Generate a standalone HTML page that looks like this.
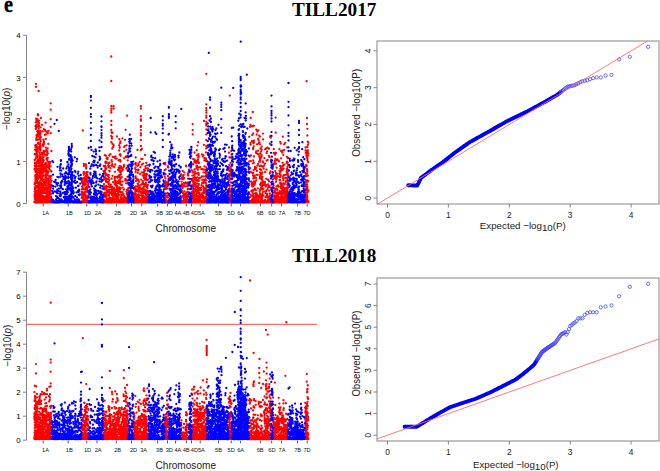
<!DOCTYPE html><html><head><meta charset="utf-8"><style>html,body{margin:0;padding:0;background:#fff;overflow:hidden}svg{display:block;font-family:"Liberation Sans",sans-serif}</style></head><body><svg width="660" height="471" viewBox="0 0 660 471"><text x="0" y="0" font-family="Liberation Serif" font-weight="bold" font-size="22.6" stroke="#000" stroke-width="0.35" transform="translate(3.9 11.8) scale(0.9 1)">e</text><text x="292" y="16.2" font-family="Liberation Serif" font-weight="bold" font-size="19.6" textLength="84.4" lengthAdjust="spacingAndGlyphs">TILL2017</text><text x="292" y="262" font-family="Liberation Serif" font-weight="bold" font-size="19.6" textLength="84.4" lengthAdjust="spacingAndGlyphs">TILL2018</text><path d="M26.5 35.3V203.5" stroke="#858585" stroke-width="1" fill="none"/><path d="M23 203.5H26.5" stroke="#858585" stroke-width="1" fill="none"/><text x="18.4" y="206.6" font-size="7.9" text-anchor="middle" fill="#000">0</text><path d="M23 161.4H26.5" stroke="#858585" stroke-width="1" fill="none"/><text x="18.4" y="164.5" font-size="7.9" text-anchor="middle" fill="#000">1</text><path d="M23 119.4H26.5" stroke="#858585" stroke-width="1" fill="none"/><text x="18.4" y="122.5" font-size="7.9" text-anchor="middle" fill="#000">2</text><path d="M23 77.4H26.5" stroke="#858585" stroke-width="1" fill="none"/><text x="18.4" y="80.5" font-size="7.9" text-anchor="middle" fill="#000">3</text><path d="M23 35.3H26.5" stroke="#858585" stroke-width="1" fill="none"/><text x="18.4" y="38.4" font-size="7.9" text-anchor="middle" fill="#000">4</text><path d="M43.2 203.6v2.8" stroke="#555" stroke-width="1" fill="none"/><text x="45.5" y="214.8" font-size="6.1" text-anchor="middle" textLength="6.94" lengthAdjust="spacingAndGlyphs" fill="#111">1A</text><path d="M68.2 203.6v2.8" stroke="#555" stroke-width="1" fill="none"/><text x="69.3" y="214.8" font-size="6.1" text-anchor="middle" textLength="6.94" lengthAdjust="spacingAndGlyphs" fill="#111">1B</text><path d="M86.8 203.6v2.8" stroke="#555" stroke-width="1" fill="none"/><text x="87.5" y="214.8" font-size="6.1" text-anchor="middle" textLength="7.25" lengthAdjust="spacingAndGlyphs" fill="#111">1D</text><path d="M97.0 203.6v2.8" stroke="#555" stroke-width="1" fill="none"/><text x="98.2" y="214.8" font-size="6.1" text-anchor="middle" textLength="6.94" lengthAdjust="spacingAndGlyphs" fill="#111">2A</text><path d="M116.4 203.6v2.8" stroke="#555" stroke-width="1" fill="none"/><text x="117.7" y="214.8" font-size="6.1" text-anchor="middle" textLength="6.94" lengthAdjust="spacingAndGlyphs" fill="#111">2B</text><path d="M131.5 203.6v2.8" stroke="#555" stroke-width="1" fill="none"/><text x="133.6" y="214.8" font-size="6.1" text-anchor="middle" textLength="7.25" lengthAdjust="spacingAndGlyphs" fill="#111">2D</text><path d="M141.8 203.6v2.8" stroke="#555" stroke-width="1" fill="none"/><text x="143.6" y="214.8" font-size="6.1" text-anchor="middle" textLength="6.94" lengthAdjust="spacingAndGlyphs" fill="#111">3A</text><path d="M157.6 203.6v2.8" stroke="#555" stroke-width="1" fill="none"/><text x="159.5" y="214.8" font-size="6.1" text-anchor="middle" textLength="6.94" lengthAdjust="spacingAndGlyphs" fill="#111">3B</text><path d="M167.5 203.6v2.8" stroke="#555" stroke-width="1" fill="none"/><text x="169.3" y="214.8" font-size="6.1" text-anchor="middle" textLength="7.25" lengthAdjust="spacingAndGlyphs" fill="#111">3D</text><path d="M175.5 203.6v2.8" stroke="#555" stroke-width="1" fill="none"/><text x="177.9" y="214.8" font-size="6.1" text-anchor="middle" textLength="6.94" lengthAdjust="spacingAndGlyphs" fill="#111">4A</text><path d="M186.4 203.6v2.8" stroke="#555" stroke-width="1" fill="none"/><text x="186.1" y="214.8" font-size="6.1" text-anchor="middle" textLength="6.94" lengthAdjust="spacingAndGlyphs" fill="#111">4B</text><path d="M191.5 203.6v2.8" stroke="#555" stroke-width="1" fill="none"/><text x="194.4" y="214.8" font-size="6.1" text-anchor="middle" textLength="7.25" lengthAdjust="spacingAndGlyphs" fill="#111">4D</text><path d="M200.2 203.6v2.8" stroke="#555" stroke-width="1" fill="none"/><text x="201.4" y="214.8" font-size="6.1" text-anchor="middle" textLength="6.94" lengthAdjust="spacingAndGlyphs" fill="#111">5A</text><path d="M218.5 203.6v2.8" stroke="#555" stroke-width="1" fill="none"/><text x="218.5" y="214.8" font-size="6.1" text-anchor="middle" textLength="6.94" lengthAdjust="spacingAndGlyphs" fill="#111">5B</text><path d="M231.2 203.6v2.8" stroke="#555" stroke-width="1" fill="none"/><text x="231.2" y="214.8" font-size="6.1" text-anchor="middle" textLength="7.25" lengthAdjust="spacingAndGlyphs" fill="#111">5D</text><path d="M240.6 203.6v2.8" stroke="#555" stroke-width="1" fill="none"/><text x="240.6" y="214.8" font-size="6.1" text-anchor="middle" textLength="6.94" lengthAdjust="spacingAndGlyphs" fill="#111">6A</text><path d="M260.4 203.6v2.8" stroke="#555" stroke-width="1" fill="none"/><text x="260.1" y="214.8" font-size="6.1" text-anchor="middle" textLength="6.94" lengthAdjust="spacingAndGlyphs" fill="#111">6B</text><path d="M271.7 203.6v2.8" stroke="#555" stroke-width="1" fill="none"/><text x="271.9" y="214.8" font-size="6.1" text-anchor="middle" textLength="7.25" lengthAdjust="spacingAndGlyphs" fill="#111">6D</text><path d="M281.5 203.6v2.8" stroke="#555" stroke-width="1" fill="none"/><text x="282.0" y="214.8" font-size="6.1" text-anchor="middle" textLength="6.94" lengthAdjust="spacingAndGlyphs" fill="#111">7A</text><path d="M297.6 203.6v2.8" stroke="#555" stroke-width="1" fill="none"/><text x="297.7" y="214.8" font-size="6.1" text-anchor="middle" textLength="6.94" lengthAdjust="spacingAndGlyphs" fill="#111">7B</text><path d="M307.2 203.6v2.8" stroke="#555" stroke-width="1" fill="none"/><text x="307.1" y="214.8" font-size="6.1" text-anchor="middle" textLength="7.25" lengthAdjust="spacingAndGlyphs" fill="#111">7D</text><text x="155.5" y="232.2" font-size="10.5" textLength="60.5" lengthAdjust="spacingAndGlyphs" fill="#222">Chromosome</text><text transform="translate(10.1 108.9) rotate(-90)" x="-21.2" font-size="10" textLength="42.4" lengthAdjust="spacingAndGlyphs" fill="#222">−log10(<tspan font-style="italic">p</tspan>)</text><path d="M26.5 272.2V440.2" stroke="#858585" stroke-width="1" fill="none"/><path d="M23 440.2H26.5" stroke="#858585" stroke-width="1" fill="none"/><text x="18.4" y="443.3" font-size="7.9" text-anchor="middle" fill="#000">0</text><path d="M23 416.2H26.5" stroke="#858585" stroke-width="1" fill="none"/><text x="18.4" y="419.3" font-size="7.9" text-anchor="middle" fill="#000">1</text><path d="M23 392.2H26.5" stroke="#858585" stroke-width="1" fill="none"/><text x="18.4" y="395.3" font-size="7.9" text-anchor="middle" fill="#000">2</text><path d="M23 368.2H26.5" stroke="#858585" stroke-width="1" fill="none"/><text x="18.4" y="371.3" font-size="7.9" text-anchor="middle" fill="#000">3</text><path d="M23 344.2H26.5" stroke="#858585" stroke-width="1" fill="none"/><text x="18.4" y="347.3" font-size="7.9" text-anchor="middle" fill="#000">4</text><path d="M23 320.2H26.5" stroke="#858585" stroke-width="1" fill="none"/><text x="18.4" y="323.3" font-size="7.9" text-anchor="middle" fill="#000">5</text><path d="M23 296.2H26.5" stroke="#858585" stroke-width="1" fill="none"/><text x="18.4" y="299.3" font-size="7.9" text-anchor="middle" fill="#000">6</text><path d="M23 272.2H26.5" stroke="#858585" stroke-width="1" fill="none"/><text x="18.4" y="275.3" font-size="7.9" text-anchor="middle" fill="#000">7</text><path d="M43.2 440.5v2.8" stroke="#555" stroke-width="1" fill="none"/><text x="45.5" y="451.6" font-size="6.1" text-anchor="middle" textLength="6.94" lengthAdjust="spacingAndGlyphs" fill="#111">1A</text><path d="M68.2 440.5v2.8" stroke="#555" stroke-width="1" fill="none"/><text x="69.3" y="451.6" font-size="6.1" text-anchor="middle" textLength="6.94" lengthAdjust="spacingAndGlyphs" fill="#111">1B</text><path d="M86.8 440.5v2.8" stroke="#555" stroke-width="1" fill="none"/><text x="87.5" y="451.6" font-size="6.1" text-anchor="middle" textLength="7.25" lengthAdjust="spacingAndGlyphs" fill="#111">1D</text><path d="M97.0 440.5v2.8" stroke="#555" stroke-width="1" fill="none"/><text x="98.2" y="451.6" font-size="6.1" text-anchor="middle" textLength="6.94" lengthAdjust="spacingAndGlyphs" fill="#111">2A</text><path d="M116.4 440.5v2.8" stroke="#555" stroke-width="1" fill="none"/><text x="117.7" y="451.6" font-size="6.1" text-anchor="middle" textLength="6.94" lengthAdjust="spacingAndGlyphs" fill="#111">2B</text><path d="M131.5 440.5v2.8" stroke="#555" stroke-width="1" fill="none"/><text x="133.6" y="451.6" font-size="6.1" text-anchor="middle" textLength="7.25" lengthAdjust="spacingAndGlyphs" fill="#111">2D</text><path d="M141.8 440.5v2.8" stroke="#555" stroke-width="1" fill="none"/><text x="143.6" y="451.6" font-size="6.1" text-anchor="middle" textLength="6.94" lengthAdjust="spacingAndGlyphs" fill="#111">3A</text><path d="M157.6 440.5v2.8" stroke="#555" stroke-width="1" fill="none"/><text x="159.5" y="451.6" font-size="6.1" text-anchor="middle" textLength="6.94" lengthAdjust="spacingAndGlyphs" fill="#111">3B</text><path d="M167.5 440.5v2.8" stroke="#555" stroke-width="1" fill="none"/><text x="169.3" y="451.6" font-size="6.1" text-anchor="middle" textLength="7.25" lengthAdjust="spacingAndGlyphs" fill="#111">3D</text><path d="M175.5 440.5v2.8" stroke="#555" stroke-width="1" fill="none"/><text x="177.9" y="451.6" font-size="6.1" text-anchor="middle" textLength="6.94" lengthAdjust="spacingAndGlyphs" fill="#111">4A</text><path d="M186.4 440.5v2.8" stroke="#555" stroke-width="1" fill="none"/><text x="186.1" y="451.6" font-size="6.1" text-anchor="middle" textLength="6.94" lengthAdjust="spacingAndGlyphs" fill="#111">4B</text><path d="M191.5 440.5v2.8" stroke="#555" stroke-width="1" fill="none"/><text x="194.4" y="451.6" font-size="6.1" text-anchor="middle" textLength="7.25" lengthAdjust="spacingAndGlyphs" fill="#111">4D</text><path d="M200.2 440.5v2.8" stroke="#555" stroke-width="1" fill="none"/><text x="201.4" y="451.6" font-size="6.1" text-anchor="middle" textLength="6.94" lengthAdjust="spacingAndGlyphs" fill="#111">5A</text><path d="M218.5 440.5v2.8" stroke="#555" stroke-width="1" fill="none"/><text x="218.5" y="451.6" font-size="6.1" text-anchor="middle" textLength="6.94" lengthAdjust="spacingAndGlyphs" fill="#111">5B</text><path d="M231.2 440.5v2.8" stroke="#555" stroke-width="1" fill="none"/><text x="231.2" y="451.6" font-size="6.1" text-anchor="middle" textLength="7.25" lengthAdjust="spacingAndGlyphs" fill="#111">5D</text><path d="M240.6 440.5v2.8" stroke="#555" stroke-width="1" fill="none"/><text x="240.6" y="451.6" font-size="6.1" text-anchor="middle" textLength="6.94" lengthAdjust="spacingAndGlyphs" fill="#111">6A</text><path d="M260.4 440.5v2.8" stroke="#555" stroke-width="1" fill="none"/><text x="260.1" y="451.6" font-size="6.1" text-anchor="middle" textLength="6.94" lengthAdjust="spacingAndGlyphs" fill="#111">6B</text><path d="M271.7 440.5v2.8" stroke="#555" stroke-width="1" fill="none"/><text x="271.9" y="451.6" font-size="6.1" text-anchor="middle" textLength="7.25" lengthAdjust="spacingAndGlyphs" fill="#111">6D</text><path d="M281.5 440.5v2.8" stroke="#555" stroke-width="1" fill="none"/><text x="282.0" y="451.6" font-size="6.1" text-anchor="middle" textLength="6.94" lengthAdjust="spacingAndGlyphs" fill="#111">7A</text><path d="M297.6 440.5v2.8" stroke="#555" stroke-width="1" fill="none"/><text x="297.7" y="451.6" font-size="6.1" text-anchor="middle" textLength="6.94" lengthAdjust="spacingAndGlyphs" fill="#111">7B</text><path d="M307.2 440.5v2.8" stroke="#555" stroke-width="1" fill="none"/><text x="307.1" y="451.6" font-size="6.1" text-anchor="middle" textLength="7.25" lengthAdjust="spacingAndGlyphs" fill="#111">7D</text><text x="155.5" y="469.0" font-size="10.5" textLength="60.5" lengthAdjust="spacingAndGlyphs" fill="#222">Chromosome</text><text transform="translate(10.5 345.7) rotate(-90)" x="-20.9" font-size="10" textLength="41.9" lengthAdjust="spacingAndGlyphs" fill="#222">−log10(<tspan font-style="italic">p</tspan>)</text><path d="M26.5 324.4H317" stroke="#ff6a6a" stroke-width="1.1"/><rect x="33.6" y="200.6" width="18.9" height="2.6" fill="#ff0000"/><rect x="50.5" y="200.6" width="32.0" height="2.6" fill="#0000ff"/><rect x="80.5" y="200.6" width="9.0" height="2.6" fill="#ff0000"/><rect x="87.5" y="200.6" width="17.0" height="2.6" fill="#0000ff"/><rect x="102.5" y="200.6" width="26.5" height="2.6" fill="#ff0000"/><rect x="127.0" y="200.6" width="7.5" height="2.6" fill="#0000ff"/><rect x="132.5" y="200.6" width="17.0" height="2.6" fill="#ff0000"/><rect x="147.5" y="200.6" width="18.1" height="2.6" fill="#0000ff"/><rect x="163.6" y="200.6" width="5.9" height="2.6" fill="#ff0000"/><rect x="167.5" y="200.6" width="14.5" height="2.6" fill="#0000ff"/><rect x="180.0" y="200.6" width="10.0" height="2.6" fill="#ff0000"/><rect x="188.0" y="200.6" width="4.7" height="2.6" fill="#0000ff"/><rect x="190.7" y="200.6" width="17.3" height="2.6" fill="#ff0000"/><rect x="206.0" y="200.6" width="23.6" height="2.6" fill="#0000ff"/><rect x="227.6" y="200.6" width="5.0" height="2.6" fill="#ff0000"/><rect x="230.6" y="200.6" width="19.4" height="2.6" fill="#0000ff"/><rect x="248.0" y="200.6" width="24.0" height="2.6" fill="#ff0000"/><rect x="270.0" y="200.6" width="4.0" height="2.6" fill="#0000ff"/><rect x="272.0" y="200.6" width="17.0" height="2.6" fill="#ff0000"/><rect x="287.0" y="200.6" width="19.0" height="2.6" fill="#0000ff"/><rect x="304.0" y="200.6" width="5.4" height="2.6" fill="#ff0000"/><path d="M35.9 83.9h0M35.9 86.9h0M38.6 91.0h0M37.8 115.3h0M40.9 118.0h0M50.7 103.3h0M50.7 109.7h0M50.7 119.2h0M50.7 126.8h0M50.7 133.2h0M82.8 130.4h0M111.3 56.5h0M111.3 81.0h0M111.3 106.2h0M111.3 108.6h0M111.3 110.7h0M111.3 112.7h0M111.3 121.0h0M111.3 125.0h0M111.3 130.0h0M111.3 136.0h0M111.3 142.0h0M113.6 106.2h0M113.6 108.6h0M127.2 115.7h0M125.7 129.8h0M140.9 106.2h0M140.9 108.6h0M140.9 116.2h0M140.9 119.5h0M140.9 120.7h0M140.9 125.9h0M140.9 127.1h0M140.9 130.1h0M140.9 133.5h0M140.9 135.4h0M140.9 140.0h0M140.9 146.0h0M140.9 150.0h0M168.5 134.7h0M192.7 124.1h0M192.7 130.1h0M192.7 134.4h0M206.3 73.8h0M206.3 104.4h0M206.3 108.2h0M206.3 110.4h0M206.3 112.7h0M206.3 115.7h0M206.3 117.7h0M206.3 121.8h0M206.3 123.8h0M206.3 125.6h0M206.3 129.4h0M206.3 134.4h0M206.3 140.0h0M206.3 146.0h0M204.0 121.0h0M229.8 95.6h0M252.8 112.0h0M275.7 117.6h0M306.6 81.2h0M307.4 128.8h0M307.4 135.5h0M307.0 118.0h0M307.0 124.0h0M35.5 193.2h0M35.1 166.3h0M35.2 145.4h0M35.6 154.6h0M34.9 188.3h0M35.0 169.9h0M35.9 201.7h0M35.8 150.5h0M35.6 195.0h0M35.6 171.2h0M35.7 192.4h0M35.0 165.3h0M35.1 201.7h0M35.6 187.1h0M35.7 181.7h0M34.8 183.0h0M34.7 195.6h0M34.6 201.9h0M34.8 198.3h0M35.6 188.3h0M34.7 191.7h0M35.3 176.7h0M35.4 178.6h0M35.4 178.6h0M35.3 149.9h0M35.6 201.8h0M35.4 159.3h0M34.7 160.0h0M34.9 196.5h0M35.5 180.7h0M35.6 153.9h0M34.8 197.3h0M35.3 175.1h0M35.0 183.6h0M34.6 169.2h0M35.5 191.1h0M35.8 197.4h0M35.0 187.1h0M35.8 201.5h0M35.9 198.4h0M34.8 197.7h0M35.2 199.6h0M34.6 168.6h0M35.6 202.4h0M35.1 149.7h0M35.3 166.0h0M34.9 163.3h0M35.7 190.7h0M35.9 201.0h0M35.9 168.8h0M35.1 189.8h0M35.7 172.2h0M37.2 135.0h0M36.5 191.2h0M36.2 127.6h0M37.3 148.6h0M36.9 149.4h0M37.1 186.7h0M36.7 194.4h0M36.3 200.2h0M37.5 162.8h0M37.4 119.2h0M37.4 197.2h0M37.5 202.4h0M36.6 147.3h0M36.1 165.1h0M36.2 158.1h0M37.1 131.3h0M37.1 152.1h0M37.4 194.7h0M36.6 199.9h0M36.2 139.9h0M37.4 187.4h0M36.2 169.8h0M36.1 197.6h0M36.2 194.8h0M37.2 199.6h0M36.0 171.5h0M36.7 193.4h0M37.3 196.7h0M36.0 202.4h0M37.0 193.7h0M37.1 151.0h0M36.7 183.0h0M36.8 177.3h0M36.3 175.3h0M36.8 181.8h0M35.9 199.8h0M37.0 156.1h0M36.4 172.6h0M36.0 158.1h0M37.0 180.4h0M36.1 127.8h0M36.3 168.4h0M37.5 175.4h0M36.4 202.3h0M36.6 152.7h0M36.4 193.9h0M36.1 182.5h0M36.5 168.2h0M37.1 180.0h0M36.6 197.0h0M37.6 191.7h0M36.9 168.7h0M37.5 122.2h0M36.2 200.2h0M36.8 191.9h0M37.5 169.8h0M36.5 138.4h0M36.0 185.8h0M37.5 120.3h0M37.1 202.4h0M36.5 202.1h0M36.7 201.0h0M36.2 176.1h0M36.0 179.3h0M36.3 163.2h0M36.0 190.6h0M36.5 200.6h0M37.5 194.7h0M36.4 194.2h0M37.0 187.1h0M37.3 182.1h0M36.3 202.0h0M36.5 120.7h0M37.3 171.4h0M36.8 196.3h0M37.0 120.9h0M36.6 145.7h0M36.7 125.7h0M37.0 201.1h0M36.3 201.1h0M37.3 157.3h0M36.5 135.2h0M36.9 165.9h0M36.7 196.7h0M36.1 118.7h0M36.7 172.8h0M38.2 194.5h0M38.5 194.3h0M37.9 143.2h0M38.4 183.9h0M37.8 120.6h0M37.8 189.8h0M38.1 136.3h0M37.9 182.9h0M38.3 192.6h0M37.6 169.2h0M38.5 123.7h0M37.8 187.5h0M37.7 172.5h0M37.8 155.2h0M38.4 194.5h0M38.0 134.0h0M37.8 179.6h0M38.4 198.3h0M38.0 187.8h0M38.3 202.4h0M37.7 156.4h0M37.8 198.6h0M38.3 199.0h0M38.1 201.5h0M38.3 188.0h0M38.1 133.2h0M38.1 187.3h0M37.7 174.0h0M37.7 151.4h0M38.0 131.2h0M37.9 194.2h0M38.2 182.4h0M38.4 193.3h0M37.8 195.9h0M38.2 200.7h0M38.2 202.1h0M38.3 142.8h0M38.4 201.3h0M38.2 115.2h0M38.5 122.5h0M37.6 135.2h0M38.1 161.4h0M38.0 139.8h0M38.4 143.9h0M37.6 126.6h0M37.9 185.4h0M37.9 160.1h0M38.3 201.4h0M38.2 185.8h0M38.0 196.5h0M37.8 114.1h0M38.5 170.4h0M38.1 130.6h0M38.3 200.6h0M39.1 200.4h0M39.2 146.8h0M38.8 172.0h0M39.0 191.1h0M39.1 173.5h0M38.9 171.3h0M38.8 131.6h0M39.1 159.7h0M38.9 176.1h0M39.0 196.0h0M38.7 194.2h0M38.8 199.0h0M38.7 192.3h0M38.8 177.4h0M38.8 171.6h0M38.6 192.4h0M38.8 199.9h0M38.7 169.1h0M38.8 188.5h0M39.0 126.6h0M39.0 166.4h0M38.6 169.7h0M39.0 120.6h0M38.7 128.7h0M39.2 202.4h0M39.2 187.8h0M39.1 123.0h0M38.7 163.6h0M39.3 199.7h0M38.7 183.3h0M38.8 176.9h0M38.6 200.9h0M38.7 192.5h0M38.7 159.0h0M39.0 134.4h0M39.0 125.3h0M39.1 200.3h0M39.3 196.7h0M40.1 159.8h0M39.7 201.9h0M40.8 199.2h0M39.3 149.1h0M40.4 139.6h0M40.8 176.5h0M40.8 168.2h0M41.0 168.9h0M39.8 184.0h0M40.2 198.8h0M40.2 178.1h0M40.0 162.6h0M40.2 145.5h0M40.0 162.2h0M39.7 190.3h0M39.4 192.9h0M40.9 141.3h0M40.5 141.6h0M39.9 200.5h0M40.0 193.5h0M40.3 180.9h0M40.6 198.6h0M40.9 182.9h0M40.5 180.7h0M40.9 179.2h0M40.5 200.2h0M40.3 162.4h0M40.2 201.2h0M41.0 191.4h0M40.1 160.9h0M39.6 138.4h0M39.5 192.0h0M40.6 149.5h0M40.8 180.6h0M39.8 193.1h0M39.5 195.6h0M40.3 189.9h0M39.9 170.4h0M40.1 155.1h0M39.7 152.4h0M40.8 186.8h0M40.9 183.6h0M40.4 164.8h0M40.3 131.0h0M40.1 135.0h0M39.8 191.6h0M40.5 164.8h0M40.0 194.3h0M40.6 147.5h0M40.9 193.2h0M40.3 198.2h0M40.4 198.2h0M39.9 181.8h0M41.0 174.7h0M40.9 137.1h0M40.4 134.0h0M40.9 159.7h0M39.9 187.2h0M40.0 199.3h0M40.0 139.4h0M40.0 157.0h0M40.7 166.1h0M39.8 137.4h0M39.4 199.8h0M39.5 184.7h0M39.7 177.4h0M40.4 195.9h0M39.9 199.5h0M40.6 131.9h0M39.4 195.8h0M39.8 187.9h0M40.7 162.7h0M40.4 191.9h0M40.2 174.9h0M39.8 162.0h0M39.5 175.9h0M40.1 143.6h0M41.6 167.8h0M41.8 195.2h0M41.4 187.3h0M41.1 173.9h0M41.4 202.1h0M41.1 189.4h0M41.8 163.8h0M41.6 188.5h0M41.5 184.4h0M42.6 201.9h0M42.1 202.3h0M41.6 195.9h0M41.7 198.0h0M41.7 185.6h0M41.3 199.0h0M41.1 169.1h0M42.3 183.7h0M41.5 173.7h0M42.7 201.1h0M42.7 157.0h0M42.4 192.6h0M42.2 176.4h0M42.5 191.3h0M42.1 202.4h0M41.4 162.0h0M42.4 174.1h0M41.3 165.7h0M42.6 176.7h0M41.3 201.2h0M41.3 187.3h0M41.8 197.1h0M41.5 186.6h0M41.5 175.2h0M41.2 201.7h0M42.5 180.8h0M41.2 198.5h0M41.2 173.2h0M41.1 202.4h0M42.0 153.0h0M41.1 174.3h0M41.8 184.0h0M41.2 160.9h0M41.4 157.7h0M41.9 202.2h0M41.5 199.8h0M41.4 171.7h0M41.8 171.2h0M41.8 178.9h0M42.1 186.7h0M42.0 174.3h0M41.5 176.1h0M42.7 174.0h0M41.7 179.5h0M42.0 184.4h0M42.5 174.1h0M41.5 177.4h0M42.2 160.0h0M41.3 175.0h0M43.8 187.2h0M42.9 188.3h0M43.9 142.5h0M43.6 151.0h0M43.7 160.2h0M43.4 175.9h0M43.9 129.2h0M43.5 202.3h0M43.1 162.2h0M43.1 190.2h0M42.9 200.2h0M43.2 198.0h0M42.9 197.4h0M42.9 144.5h0M43.5 201.9h0M44.0 144.0h0M42.9 192.6h0M43.7 201.1h0M43.9 167.5h0M43.7 192.9h0M43.3 189.5h0M43.7 143.1h0M44.0 202.2h0M43.0 196.2h0M43.0 153.1h0M43.2 146.2h0M43.1 189.1h0M43.3 197.6h0M43.4 139.7h0M43.0 168.4h0M43.9 197.8h0M43.2 189.9h0M43.8 181.3h0M43.2 187.5h0M43.3 196.5h0M43.0 160.0h0M42.9 157.7h0M43.8 190.3h0M43.9 141.5h0M43.9 193.1h0M43.7 202.4h0M43.1 179.5h0M43.6 157.0h0M43.6 154.0h0M43.3 191.0h0M43.0 157.2h0M44.0 171.7h0M43.6 165.1h0M42.9 187.0h0M43.4 185.5h0M43.2 185.8h0M43.4 197.5h0M43.8 191.3h0M43.9 181.9h0M43.0 172.5h0M43.7 197.1h0M43.4 198.7h0M44.0 152.2h0M43.2 144.5h0M44.3 187.7h0M44.9 200.2h0M46.2 202.4h0M45.9 178.0h0M44.8 199.7h0M45.7 199.4h0M45.3 201.9h0M44.9 200.1h0M45.2 183.1h0M45.3 178.9h0M44.3 202.3h0M45.0 167.6h0M44.8 179.3h0M45.7 185.3h0M44.1 201.0h0M46.1 169.7h0M44.2 196.6h0M44.1 197.2h0M45.0 167.0h0M45.0 170.4h0M45.9 168.3h0M44.6 200.9h0M45.8 200.3h0M44.6 200.7h0M44.3 201.5h0M45.4 196.5h0M45.9 171.7h0M44.6 169.1h0M45.5 185.2h0M44.4 198.4h0M44.8 201.4h0M44.4 182.7h0M45.6 189.5h0M45.5 196.7h0M44.8 164.7h0M45.5 184.6h0M44.7 182.6h0M44.4 197.5h0M44.4 188.0h0M44.7 188.9h0M44.2 190.9h0M45.7 193.2h0M46.1 201.3h0M45.9 201.6h0M44.5 200.1h0M45.5 177.1h0M45.3 201.0h0M46.2 182.7h0M44.4 200.8h0M45.9 187.6h0M46.1 181.6h0M46.5 198.5h0M47.2 171.2h0M46.9 175.0h0M47.5 202.3h0M46.4 195.6h0M46.9 188.1h0M47.3 166.9h0M47.5 187.9h0M47.4 199.2h0M47.2 173.7h0M46.9 195.2h0M47.2 182.8h0M47.6 196.7h0M47.7 185.1h0M46.5 200.7h0M47.6 194.1h0M47.3 160.6h0M47.4 178.9h0M47.3 195.5h0M46.3 201.6h0M46.7 196.7h0M47.4 187.7h0M46.4 165.1h0M46.4 159.0h0M46.8 192.3h0M46.5 150.1h0M47.3 189.7h0M46.2 177.0h0M47.0 170.3h0M47.7 171.8h0M46.2 163.1h0M47.0 201.5h0M47.4 158.9h0M47.1 155.0h0M47.3 166.9h0M46.7 158.3h0M46.2 202.0h0M46.2 173.8h0M46.6 166.2h0M47.1 198.9h0M46.3 181.7h0M47.0 191.0h0M46.2 172.5h0M46.4 187.3h0M47.1 152.7h0M47.1 188.8h0M47.1 191.7h0M47.1 196.6h0M47.6 192.1h0M46.6 182.2h0M46.3 198.7h0M48.3 185.0h0M49.7 202.1h0M47.8 178.7h0M48.8 184.1h0M49.1 191.3h0M49.3 176.6h0M49.2 164.7h0M48.7 181.8h0M47.8 192.6h0M48.5 188.6h0M49.5 191.1h0M49.4 166.9h0M48.0 172.8h0M49.0 194.7h0M48.3 193.6h0M48.8 168.4h0M49.0 201.7h0M48.6 175.7h0M49.8 197.5h0M49.7 186.9h0M47.8 201.3h0M48.4 164.8h0M49.0 180.9h0M48.6 199.2h0M47.9 180.0h0M49.0 183.7h0M49.5 188.8h0M49.8 186.0h0M48.9 167.8h0M49.5 196.3h0M49.7 169.6h0M49.6 184.1h0M48.4 162.2h0M48.4 198.6h0M49.4 183.2h0M48.6 171.6h0M48.7 199.8h0M49.4 161.8h0M49.5 202.0h0M48.7 194.8h0M48.8 186.9h0M48.3 188.1h0M49.5 191.6h0M48.0 200.9h0M49.2 201.5h0M48.6 202.1h0M49.4 198.2h0M49.4 191.0h0M49.8 163.8h0M48.8 181.0h0M48.1 199.7h0M49.4 187.2h0M50.2 184.3h0M49.9 189.5h0M50.0 202.0h0M50.4 180.9h0M50.4 202.0h0M50.4 197.0h0M50.6 200.8h0M50.0 200.9h0M49.9 188.1h0M50.2 176.8h0M50.0 197.8h0M50.4 187.9h0M49.9 193.9h0M50.3 193.9h0M50.5 194.3h0M50.2 180.6h0M51.1 184.9h0M51.2 202.4h0M51.4 180.4h0M51.1 187.6h0M50.8 201.3h0M51.2 201.6h0M51.1 185.9h0M51.1 200.5h0M51.2 196.9h0M50.6 178.6h0M51.1 171.2h0M50.8 197.9h0M50.7 181.0h0M51.1 200.7h0M50.7 190.4h0M51.4 171.5h0M51.4 193.7h0M51.2 181.8h0M51.3 175.9h0M34.7 184.4h0M34.7 154.2h0M34.9 162.6h0M34.9 193.9h0M35.8 129.0h0M35.5 193.5h0M35.6 195.8h0M35.5 126.0h0M35.5 147.3h0M36.1 179.7h0M36.0 144.9h0M36.4 124.8h0M36.7 176.8h0M36.8 153.9h0M36.4 156.5h0M35.8 122.5h0M35.5 162.9h0M38.4 159.9h0M37.8 178.8h0M37.5 147.5h0M37.8 191.7h0M37.6 194.7h0M38.0 171.6h0M38.4 165.8h0M37.2 161.2h0M38.6 198.1h0M37.0 166.3h0M37.6 150.4h0M39.7 162.5h0M40.1 198.4h0M39.5 133.8h0M40.2 159.0h0M40.2 145.7h0M40.3 150.5h0M39.2 134.7h0M39.8 133.2h0M40.0 158.6h0M39.3 195.2h0M40.9 165.6h0M40.9 188.7h0M40.8 162.9h0M40.4 136.8h0M40.7 127.3h0M41.4 159.8h0M41.1 175.0h0M42.1 184.2h0M41.7 187.9h0M42.7 145.5h0M42.4 172.6h0M42.2 179.8h0M42.3 170.6h0M42.1 192.9h0M42.3 166.0h0M42.4 154.7h0M42.0 124.8h0M42.9 200.1h0M41.7 154.2h0M42.8 131.4h0M43.2 188.2h0M43.6 188.7h0M43.7 170.3h0M43.9 202.1h0M44.4 171.1h0M44.3 184.0h0M43.9 190.9h0M44.6 191.2h0M45.6 183.2h0M44.7 199.2h0M45.7 181.5h0M45.5 155.2h0M45.2 151.0h0M44.8 154.3h0M45.6 189.0h0M45.2 169.7h0M45.2 168.5h0M46.0 180.8h0M45.9 147.7h0M47.0 187.5h0M46.0 170.5h0M47.4 151.2h0M47.0 201.3h0M45.9 134.3h0M45.9 182.6h0M47.3 189.7h0M45.8 187.4h0M46.5 185.6h0M45.8 138.9h0M48.2 164.5h0M48.5 130.9h0M47.8 133.4h0M47.8 196.8h0M47.7 148.3h0M47.7 157.9h0M48.1 153.3h0M47.9 131.5h0M48.3 143.9h0M48.8 185.2h0M49.4 178.4h0M49.7 163.8h0M48.8 200.2h0M49.0 193.3h0M49.0 164.2h0M50.3 198.0h0M51.3 198.6h0M50.4 191.6h0M50.5 166.3h0M50.3 162.0h0M50.2 187.4h0M50.5 200.7h0M51.4 151.0h0M81.8 192.4h0M81.8 195.0h0M83.1 197.0h0M81.7 197.4h0M82.1 186.5h0M82.3 181.5h0M83.4 196.2h0M83.0 200.4h0M83.6 195.1h0M81.6 191.9h0M83.2 193.7h0M82.9 185.2h0M82.7 180.6h0M82.8 187.7h0M82.1 178.3h0M82.6 192.2h0M82.2 193.2h0M82.2 178.6h0M82.5 183.2h0M82.0 180.1h0M83.4 184.1h0M82.5 182.5h0M83.4 178.4h0M81.7 189.4h0M83.3 201.1h0M81.7 197.9h0M82.1 198.1h0M83.0 192.8h0M82.4 198.0h0M81.9 182.3h0M82.1 189.4h0M83.5 192.8h0M83.9 165.9h0M84.5 192.6h0M84.0 182.4h0M83.9 196.6h0M84.6 178.1h0M84.0 173.3h0M84.6 183.4h0M83.8 171.8h0M84.7 194.8h0M84.6 185.6h0M84.5 184.3h0M83.9 198.7h0M83.8 202.3h0M84.0 172.8h0M83.9 189.3h0M83.6 172.9h0M83.7 199.4h0M83.9 195.3h0M84.2 177.6h0M84.6 201.0h0M84.7 192.9h0M84.6 195.0h0M84.1 183.9h0M83.8 163.9h0M83.8 174.8h0M83.9 198.6h0M84.7 179.5h0M84.6 200.3h0M84.9 201.3h0M85.0 177.2h0M85.1 191.6h0M85.5 180.6h0M85.4 200.2h0M85.4 181.8h0M85.5 188.5h0M85.0 194.4h0M85.0 183.9h0M84.9 199.8h0M85.0 180.8h0M85.6 191.4h0M85.2 184.6h0M84.9 193.7h0M85.8 196.5h0M86.3 181.4h0M86.4 179.5h0M87.3 188.9h0M87.7 198.4h0M87.2 180.5h0M86.6 195.7h0M86.7 188.0h0M87.4 198.1h0M87.3 182.2h0M87.6 172.1h0M87.7 201.2h0M87.0 186.9h0M86.8 180.1h0M86.6 176.2h0M87.3 182.0h0M85.7 188.0h0M86.8 186.8h0M86.2 167.0h0M86.6 202.1h0M86.1 168.4h0M87.2 181.8h0M86.1 181.2h0M85.9 189.3h0M85.7 199.0h0M85.8 180.6h0M86.4 172.2h0M87.5 201.6h0M86.8 191.8h0M87.3 191.6h0M86.6 173.7h0M87.2 174.8h0M86.6 197.7h0M85.9 198.4h0M87.5 190.6h0M87.7 180.7h0M86.2 176.8h0M86.1 176.1h0M85.9 164.4h0M86.2 173.0h0M85.8 201.2h0M85.8 165.1h0M87.2 200.3h0M85.9 184.1h0M86.7 178.5h0M86.8 190.3h0M87.4 192.0h0M86.2 175.2h0M87.0 202.3h0M86.9 178.6h0M86.1 198.2h0M88.3 195.7h0M88.4 184.0h0M88.1 186.4h0M88.4 183.4h0M88.3 176.6h0M88.0 191.0h0M87.8 181.6h0M88.0 181.1h0M88.3 186.5h0M88.4 196.5h0M88.0 177.7h0M88.2 184.5h0M88.2 201.8h0M88.5 183.6h0M104.3 195.1h0M104.1 189.1h0M103.6 199.3h0M103.6 179.3h0M104.2 189.5h0M103.9 202.4h0M104.1 179.2h0M103.7 193.5h0M103.5 197.3h0M104.4 173.1h0M104.4 192.8h0M103.8 196.4h0M104.0 186.2h0M104.0 184.1h0M103.8 176.8h0M103.7 199.8h0M103.9 199.7h0M103.9 200.9h0M105.4 188.2h0M105.3 178.1h0M105.7 166.8h0M105.2 202.0h0M105.3 194.0h0M105.2 201.9h0M104.8 178.8h0M105.1 170.7h0M105.6 187.7h0M104.7 173.4h0M104.9 172.5h0M104.6 166.1h0M105.0 188.2h0M105.3 196.2h0M104.6 202.2h0M104.7 202.0h0M105.5 192.8h0M105.8 180.1h0M105.2 165.8h0M104.9 196.7h0M104.9 170.3h0M105.8 175.3h0M105.7 196.3h0M105.1 178.6h0M105.8 173.7h0M106.2 197.7h0M106.2 189.0h0M106.6 191.1h0M106.5 199.9h0M106.6 174.3h0M106.2 196.7h0M106.3 200.2h0M105.9 187.2h0M106.6 188.4h0M106.6 202.4h0M106.5 202.4h0M106.7 198.3h0M106.8 199.7h0M107.0 195.4h0M107.4 202.2h0M107.3 202.2h0M106.8 187.0h0M106.9 201.1h0M108.2 186.7h0M108.3 199.2h0M107.8 201.7h0M108.3 202.1h0M108.3 163.4h0M108.0 176.0h0M108.0 202.4h0M107.6 200.1h0M107.7 201.9h0M107.8 182.0h0M107.7 202.1h0M108.0 192.6h0M108.1 182.6h0M107.6 158.0h0M108.1 195.6h0M108.3 201.9h0M109.0 199.4h0M109.0 189.7h0M108.7 175.2h0M109.2 200.1h0M108.5 201.0h0M108.7 190.2h0M109.0 200.7h0M108.3 200.6h0M109.1 194.9h0M108.8 202.1h0M109.2 198.6h0M109.0 191.4h0M108.3 201.0h0M109.2 200.7h0M109.2 170.8h0M108.9 201.6h0M108.9 177.5h0M108.7 199.0h0M109.1 195.6h0M109.1 201.8h0M109.3 202.3h0M109.8 184.6h0M109.4 202.4h0M110.3 202.4h0M110.1 201.5h0M110.7 200.2h0M109.6 187.2h0M110.6 200.5h0M109.6 197.9h0M110.5 197.8h0M109.7 193.1h0M111.0 193.3h0M109.5 197.7h0M110.7 201.8h0M110.2 199.5h0M110.6 202.4h0M112.6 194.7h0M112.5 201.8h0M111.7 198.3h0M112.6 198.7h0M112.4 200.1h0M112.1 195.1h0M111.6 187.8h0M111.9 202.4h0M111.6 187.5h0M111.9 202.4h0M111.6 201.0h0M111.9 201.6h0M111.5 191.5h0M111.8 193.0h0M112.4 201.8h0M113.2 189.1h0M113.7 199.9h0M113.6 202.0h0M113.1 182.2h0M113.7 191.8h0M113.3 198.8h0M113.3 200.1h0M114.0 188.0h0M113.1 192.5h0M113.9 192.4h0M113.3 202.2h0M113.5 199.0h0M114.0 201.3h0M113.5 194.3h0M113.7 191.0h0M113.3 190.1h0M114.4 189.1h0M114.5 202.2h0M114.2 201.1h0M114.2 202.4h0M114.6 199.2h0M114.2 202.4h0M114.5 194.0h0M114.4 200.6h0M114.8 178.5h0M114.1 200.3h0M114.8 195.7h0M114.7 184.2h0M115.5 182.3h0M115.3 184.6h0M115.7 196.0h0M115.3 158.4h0M115.1 191.7h0M115.7 202.1h0M115.3 198.4h0M115.3 189.6h0M115.1 194.4h0M115.5 156.3h0M115.1 193.2h0M115.5 196.5h0M115.3 183.0h0M115.6 202.0h0M115.3 199.4h0M116.8 187.5h0M117.6 177.7h0M117.4 187.5h0M117.7 200.5h0M116.1 190.4h0M116.0 200.7h0M116.4 197.8h0M117.5 202.3h0M116.7 176.8h0M117.1 177.4h0M117.2 195.2h0M117.6 199.7h0M117.4 196.5h0M116.8 201.0h0M117.5 183.1h0M117.5 195.0h0M117.3 190.5h0M116.5 201.7h0M117.3 194.3h0M117.0 189.0h0M117.6 202.4h0M117.0 198.4h0M116.4 181.3h0M116.4 194.2h0M118.2 194.7h0M117.8 194.3h0M118.8 175.5h0M118.4 199.7h0M117.9 193.1h0M118.0 197.0h0M118.7 201.9h0M118.3 200.0h0M118.0 197.9h0M118.5 181.4h0M118.5 192.0h0M118.4 183.1h0M118.6 199.6h0M118.3 193.3h0M117.9 202.4h0M119.8 200.6h0M119.9 189.8h0M119.2 202.4h0M119.0 190.0h0M120.2 180.4h0M118.9 201.7h0M120.3 172.3h0M120.2 168.3h0M120.3 192.1h0M119.2 202.3h0M119.5 169.6h0M119.0 201.1h0M119.2 180.4h0M119.0 187.4h0M119.5 202.4h0M120.3 184.2h0M119.0 195.0h0M119.4 201.7h0M119.9 180.0h0M118.9 183.2h0M120.3 202.4h0M119.2 189.1h0M120.4 167.0h0M120.1 202.3h0M120.4 182.2h0M119.6 177.4h0M119.7 201.4h0M119.8 200.9h0M120.2 201.5h0M120.9 198.5h0M120.9 166.3h0M121.7 198.1h0M121.9 170.4h0M121.0 192.2h0M121.1 198.4h0M121.9 201.4h0M121.6 177.7h0M121.7 170.8h0M121.3 170.9h0M122.1 195.1h0M121.6 202.3h0M120.8 200.0h0M121.9 184.9h0M120.8 197.2h0M121.2 198.5h0M121.2 194.9h0M121.9 202.2h0M121.8 201.0h0M120.9 174.2h0M120.7 197.4h0M121.8 171.0h0M121.1 199.8h0M121.0 192.6h0M124.0 189.5h0M123.9 189.7h0M123.3 202.0h0M123.6 202.4h0M122.4 200.6h0M123.8 198.9h0M123.7 198.1h0M123.5 193.9h0M122.9 199.4h0M122.2 197.9h0M122.8 201.3h0M122.3 202.3h0M122.7 200.5h0M124.5 201.6h0M126.2 202.4h0M125.6 200.8h0M124.8 197.4h0M124.5 196.9h0M126.2 201.5h0M126.2 201.1h0M125.4 198.7h0M125.0 201.8h0M125.2 197.3h0M125.4 200.4h0M127.4 183.2h0M126.9 202.1h0M127.6 194.9h0M126.7 198.9h0M127.3 199.4h0M126.3 179.6h0M126.8 193.9h0M127.1 199.7h0M127.7 199.8h0M128.0 189.3h0M127.1 198.4h0M127.0 180.7h0M127.6 170.3h0M127.9 190.1h0M126.4 200.7h0M127.2 200.8h0M127.6 195.5h0M127.6 202.4h0M127.8 188.8h0M127.8 202.3h0M127.9 196.5h0M127.1 192.6h0M126.9 200.9h0M126.4 191.6h0M127.9 200.4h0M126.8 168.0h0M127.0 189.8h0M127.3 199.2h0M127.8 188.6h0M126.4 202.1h0M104.0 195.3h0M104.6 187.3h0M103.8 166.0h0M104.4 187.4h0M103.6 171.0h0M106.1 193.5h0M106.0 181.8h0M104.8 155.2h0M105.3 168.0h0M106.1 187.7h0M105.9 180.8h0M105.3 162.1h0M106.4 186.0h0M107.6 191.8h0M107.3 174.7h0M106.6 158.5h0M107.4 179.1h0M106.7 190.1h0M106.6 162.2h0M107.6 159.1h0M108.6 183.9h0M108.4 167.0h0M108.2 199.3h0M108.1 165.6h0M108.8 182.1h0M109.7 171.3h0M109.2 179.9h0M109.5 162.8h0M109.2 162.7h0M109.3 155.5h0M109.1 166.0h0M110.5 154.2h0M111.0 189.4h0M110.4 168.2h0M110.2 185.9h0M110.8 184.6h0M111.6 189.8h0M111.2 192.5h0M112.5 175.8h0M111.4 165.8h0M111.6 186.3h0M112.3 186.8h0M111.6 160.2h0M112.3 164.2h0M113.7 145.4h0M113.3 201.2h0M113.1 147.1h0M113.2 196.9h0M113.6 166.7h0M114.1 157.1h0M114.8 177.3h0M114.8 180.4h0M114.1 167.0h0M114.3 194.3h0M114.9 171.8h0M114.9 176.9h0M115.3 164.5h0M116.5 183.6h0M116.4 184.2h0M116.4 198.7h0M115.9 185.7h0M116.7 158.7h0M116.9 136.5h0M117.0 186.0h0M116.8 191.0h0M118.5 181.2h0M118.0 197.8h0M117.9 194.5h0M117.8 198.4h0M118.7 167.8h0M118.5 160.5h0M118.4 176.1h0M118.1 170.0h0M118.8 170.0h0M119.0 200.6h0M120.4 143.0h0M119.9 168.2h0M120.5 161.5h0M120.5 155.8h0M120.5 160.5h0M119.7 166.2h0M120.6 154.3h0M119.9 175.1h0M120.2 201.1h0M121.4 185.2h0M121.6 176.9h0M121.8 168.2h0M122.6 200.9h0M122.6 187.6h0M122.4 138.3h0M122.4 192.1h0M122.6 181.6h0M123.8 195.8h0M122.9 169.5h0M123.6 167.2h0M122.9 199.3h0M124.2 151.3h0M125.3 201.8h0M125.0 145.8h0M125.3 180.5h0M125.4 197.9h0M125.3 179.2h0M125.1 139.8h0M124.1 164.9h0M124.1 201.5h0M124.1 158.3h0M123.9 166.2h0M124.1 147.1h0M126.4 168.5h0M126.4 149.7h0M126.1 183.3h0M126.1 157.2h0M125.8 156.7h0M127.7 160.4h0M127.6 165.6h0M128.0 156.3h0M126.7 145.3h0M127.5 176.8h0M127.9 193.3h0M127.2 156.0h0M126.7 197.7h0M128.0 182.9h0M134.3 202.2h0M134.7 200.1h0M135.1 193.1h0M133.9 188.0h0M134.9 200.6h0M134.0 201.8h0M134.4 200.7h0M133.5 193.5h0M133.7 202.4h0M134.7 202.3h0M133.7 197.6h0M133.5 201.0h0M134.0 199.1h0M135.2 186.7h0M135.3 169.1h0M136.2 200.5h0M135.2 202.1h0M135.4 202.3h0M135.3 187.6h0M135.4 191.2h0M135.8 198.1h0M136.0 180.9h0M135.8 193.7h0M135.6 172.1h0M136.3 189.3h0M135.5 167.4h0M135.6 197.7h0M135.8 202.4h0M135.3 201.4h0M135.9 202.2h0M135.6 194.9h0M135.7 190.8h0M135.8 180.9h0M135.5 194.1h0M136.0 186.5h0M135.3 202.3h0M135.9 169.9h0M137.0 191.1h0M138.0 198.5h0M137.7 197.8h0M136.7 202.1h0M136.7 202.3h0M136.8 202.4h0M137.3 196.6h0M136.7 197.6h0M136.7 199.2h0M138.0 201.6h0M137.6 198.0h0M137.4 196.7h0M136.9 202.3h0M138.3 187.3h0M138.9 201.9h0M138.8 189.5h0M138.5 165.0h0M138.6 169.8h0M139.0 202.4h0M138.2 179.7h0M138.4 187.7h0M138.3 196.2h0M139.0 181.7h0M138.2 201.0h0M138.7 191.8h0M138.3 200.5h0M139.0 202.3h0M138.7 191.9h0M138.7 194.3h0M138.9 185.4h0M138.7 187.5h0M139.1 185.9h0M139.1 200.4h0M140.5 198.5h0M140.2 200.6h0M140.1 200.9h0M140.4 202.0h0M139.2 202.4h0M139.2 191.4h0M140.6 188.6h0M140.4 187.4h0M139.8 195.4h0M140.0 191.4h0M140.1 200.9h0M139.4 201.7h0M142.1 198.8h0M141.7 191.7h0M141.5 200.8h0M141.5 195.0h0M140.9 201.5h0M141.9 201.8h0M141.8 202.0h0M140.9 188.9h0M141.3 193.2h0M141.5 202.3h0M142.0 198.4h0M141.3 202.4h0M142.2 196.7h0M141.1 184.7h0M141.8 202.4h0M141.5 184.5h0M144.2 190.5h0M143.7 200.5h0M143.9 201.8h0M142.9 182.5h0M143.2 196.0h0M143.4 202.0h0M144.1 169.7h0M144.2 197.0h0M143.5 200.5h0M144.0 192.9h0M143.0 193.5h0M144.2 201.1h0M143.1 202.0h0M144.1 199.1h0M144.2 199.8h0M143.2 193.5h0M142.5 202.4h0M142.7 200.4h0M143.6 198.2h0M143.7 183.8h0M144.4 201.6h0M144.1 201.2h0M143.3 200.9h0M144.0 175.2h0M142.4 189.0h0M144.0 178.0h0M143.5 197.3h0M143.5 200.0h0M142.8 181.2h0M142.8 191.1h0M143.2 172.6h0M142.4 191.6h0M143.2 187.7h0M143.2 202.4h0M143.2 184.0h0M144.3 177.4h0M144.0 193.1h0M142.7 175.4h0M145.2 197.4h0M145.5 197.3h0M145.2 185.7h0M145.8 179.4h0M145.7 184.6h0M145.4 191.2h0M145.7 197.7h0M145.3 179.8h0M145.3 201.3h0M144.8 179.7h0M145.0 192.9h0M146.0 179.0h0M144.9 199.9h0M145.6 202.4h0M145.5 200.8h0M145.7 194.7h0M144.7 189.3h0M144.9 196.9h0M144.6 202.1h0M145.4 202.1h0M147.7 197.8h0M147.8 201.8h0M147.3 196.7h0M146.2 197.6h0M147.4 194.0h0M147.9 195.0h0M146.5 202.3h0M146.9 190.7h0M147.7 202.3h0M147.2 197.7h0M146.0 175.4h0M146.1 177.0h0M146.5 174.0h0M146.8 202.1h0M147.9 202.1h0M148.1 179.6h0M147.5 202.3h0M146.4 194.3h0M147.2 186.4h0M147.4 174.4h0M147.9 184.8h0M147.5 188.0h0M147.1 198.0h0M146.3 185.4h0M147.8 191.2h0M146.8 195.3h0M147.2 192.5h0M147.0 198.5h0M146.6 202.3h0M147.2 190.7h0M146.1 199.1h0M147.2 200.9h0M148.2 197.3h0M148.5 199.8h0M148.4 197.0h0M134.2 189.4h0M134.0 195.5h0M134.2 197.0h0M134.6 194.0h0M134.2 198.2h0M135.1 163.9h0M135.7 157.5h0M135.3 194.2h0M136.0 189.7h0M135.1 200.4h0M136.4 196.7h0M136.9 189.6h0M136.6 178.9h0M137.5 186.3h0M138.1 198.8h0M137.5 149.9h0M138.1 199.2h0M138.0 169.7h0M137.9 189.7h0M138.4 163.7h0M140.3 191.3h0M139.7 161.8h0M140.3 191.8h0M139.0 197.6h0M140.0 174.1h0M139.3 202.2h0M139.4 200.6h0M138.6 181.1h0M140.4 167.2h0M141.7 172.4h0M141.8 164.7h0M141.1 200.4h0M141.3 202.2h0M141.1 179.6h0M141.3 159.0h0M140.9 188.6h0M141.8 149.0h0M142.6 198.3h0M142.5 159.1h0M142.6 191.9h0M143.2 163.6h0M142.3 183.5h0M143.5 183.7h0M143.4 184.4h0M145.0 200.1h0M144.3 186.7h0M143.7 176.4h0M144.5 174.0h0M143.9 171.8h0M145.2 175.1h0M145.4 166.3h0M145.6 175.0h0M146.9 187.3h0M146.0 199.8h0M145.8 202.3h0M146.9 198.7h0M147.3 165.3h0M146.9 180.2h0M146.3 162.9h0M147.1 168.7h0M146.8 180.0h0M148.0 168.3h0M147.8 194.7h0M148.2 192.1h0M147.9 193.8h0M147.9 171.0h0M165.2 164.4h0M164.9 173.7h0M165.9 183.0h0M164.8 183.3h0M165.8 202.0h0M164.8 202.3h0M164.8 200.1h0M165.6 199.5h0M165.2 163.0h0M165.7 169.3h0M165.2 189.0h0M165.9 182.5h0M164.9 195.4h0M165.3 201.6h0M165.7 193.9h0M164.7 187.3h0M164.7 176.5h0M165.5 193.3h0M164.9 198.6h0M165.7 201.6h0M164.8 188.9h0M165.6 199.6h0M164.6 170.2h0M165.5 174.2h0M165.4 178.3h0M165.5 184.6h0M165.1 200.9h0M165.6 181.1h0M165.9 202.1h0M166.5 200.2h0M166.3 193.6h0M166.2 202.2h0M166.6 200.5h0M167.6 193.0h0M166.2 184.5h0M166.2 187.9h0M166.0 196.8h0M167.6 197.7h0M166.6 188.8h0M167.3 186.4h0M166.6 196.1h0M166.9 184.1h0M166.9 202.4h0M166.2 186.2h0M166.1 186.5h0M167.0 188.7h0M166.1 183.0h0M167.6 186.1h0M167.9 182.4h0M168.0 167.3h0M168.2 202.3h0M168.4 202.1h0M167.9 166.2h0M168.2 194.8h0M168.3 201.0h0M167.9 185.9h0M168.2 193.8h0M167.9 176.2h0M168.3 167.4h0M168.2 201.6h0M168.3 202.2h0M168.2 197.7h0M168.4 183.4h0M168.5 179.0h0M181.1 174.5h0M182.3 192.6h0M182.7 202.3h0M181.5 181.6h0M182.3 201.2h0M181.0 185.5h0M182.2 202.3h0M181.6 202.0h0M181.4 191.4h0M181.8 184.2h0M181.9 192.2h0M182.3 201.3h0M181.7 178.1h0M181.8 185.2h0M182.8 196.0h0M181.0 201.0h0M182.6 177.2h0M182.6 187.9h0M181.1 197.9h0M182.1 202.3h0M182.5 186.6h0M182.6 176.4h0M182.4 202.2h0M181.1 202.2h0M182.2 185.0h0M182.5 188.0h0M181.9 178.8h0M181.2 202.3h0M182.6 170.9h0M181.8 190.6h0M183.3 186.6h0M184.1 201.3h0M184.2 202.2h0M184.1 178.4h0M183.7 202.0h0M184.1 194.6h0M183.1 179.3h0M184.3 191.5h0M183.7 178.4h0M183.3 193.4h0M183.2 175.5h0M183.8 196.7h0M184.2 186.0h0M183.7 182.9h0M183.7 199.5h0M184.1 200.3h0M184.3 172.3h0M183.2 202.2h0M183.8 177.6h0M183.3 197.6h0M183.8 174.8h0M184.2 183.9h0M183.9 202.4h0M184.0 183.2h0M183.4 177.9h0M183.2 193.4h0M185.0 199.4h0M185.4 201.4h0M184.9 200.0h0M184.8 201.4h0M184.8 197.0h0M184.8 202.2h0M184.5 194.8h0M185.4 201.1h0M185.3 197.4h0M185.5 196.2h0M184.7 194.1h0M184.6 202.3h0M186.0 165.7h0M186.3 199.7h0M186.1 166.3h0M186.1 194.3h0M186.3 199.5h0M186.2 202.3h0M186.1 195.1h0M185.7 182.5h0M185.7 186.3h0M185.9 195.9h0M185.7 194.0h0M186.2 183.4h0M185.7 201.7h0M186.2 195.4h0M185.8 196.4h0M186.4 201.9h0M186.4 192.5h0M186.5 201.9h0M186.8 200.5h0M187.0 197.3h0M188.0 183.0h0M188.0 194.9h0M187.9 173.7h0M187.5 186.3h0M188.0 182.5h0M188.2 175.5h0M187.8 183.4h0M188.8 172.0h0M187.3 183.7h0M187.7 189.3h0M188.3 173.3h0M187.5 197.4h0M187.1 192.8h0M188.5 202.4h0M187.9 196.6h0M187.9 185.2h0M187.3 202.1h0M187.2 202.0h0M187.8 202.3h0M187.1 183.1h0M188.2 196.3h0M188.4 182.6h0M188.6 172.0h0M187.3 199.2h0M188.6 193.1h0M187.9 178.6h0M188.0 188.8h0M187.9 175.0h0M187.9 191.8h0M188.0 192.7h0M188.9 169.6h0M188.8 185.5h0M188.9 185.2h0M188.9 202.2h0M193.3 202.3h0M192.9 202.2h0M193.3 187.7h0M192.0 187.4h0M191.7 170.2h0M192.5 172.6h0M193.2 164.3h0M191.9 192.2h0M193.1 159.1h0M193.2 202.4h0M193.2 198.9h0M193.2 200.0h0M193.2 190.9h0M192.6 195.3h0M193.0 202.3h0M192.6 198.0h0M191.7 192.9h0M193.2 202.3h0M191.8 163.9h0M192.8 202.4h0M192.7 171.1h0M192.9 193.8h0M192.8 198.6h0M192.8 195.8h0M192.4 202.4h0M193.0 201.9h0M192.6 197.3h0M192.4 175.6h0M193.0 181.8h0M191.8 202.2h0M193.7 198.4h0M193.6 192.9h0M193.4 178.2h0M193.4 198.4h0M193.5 195.0h0M193.9 199.9h0M193.8 195.2h0M193.5 202.4h0M194.0 200.9h0M193.8 198.4h0M193.8 200.5h0M193.5 198.1h0M193.5 195.1h0M193.6 189.6h0M193.7 180.9h0M194.7 189.0h0M195.5 178.4h0M194.3 200.7h0M194.1 177.8h0M196.0 163.0h0M195.8 189.3h0M194.6 198.2h0M194.6 176.9h0M195.8 162.7h0M196.0 187.0h0M196.0 201.7h0M194.3 162.1h0M195.3 200.6h0M194.6 196.9h0M194.6 169.5h0M195.8 173.6h0M194.7 194.2h0M196.1 179.7h0M195.0 199.5h0M195.1 184.6h0M195.3 182.9h0M194.1 199.7h0M195.4 198.5h0M194.4 185.8h0M195.5 191.1h0M195.8 191.6h0M195.8 195.6h0M195.0 198.6h0M194.7 199.2h0M194.2 191.9h0M194.9 180.0h0M195.4 202.4h0M195.4 183.5h0M194.4 161.6h0M194.7 173.5h0M194.9 172.2h0M197.6 196.8h0M197.9 167.1h0M197.5 202.4h0M197.5 201.7h0M196.9 190.7h0M197.5 202.4h0M196.3 193.9h0M196.5 168.2h0M196.9 165.7h0M197.3 198.0h0M197.0 196.5h0M197.6 202.4h0M196.5 200.2h0M197.9 169.8h0M196.1 199.7h0M197.9 192.2h0M197.0 186.0h0M197.8 202.2h0M196.4 180.7h0M197.4 202.3h0M196.5 191.2h0M197.3 183.3h0M196.3 195.7h0M197.2 201.6h0M197.3 192.9h0M197.9 195.9h0M196.6 192.9h0M197.2 202.3h0M197.2 199.3h0M196.9 200.9h0M197.5 191.8h0M197.9 187.7h0M199.0 199.3h0M198.5 193.0h0M199.4 202.1h0M198.7 200.9h0M198.4 202.4h0M198.2 191.3h0M198.9 189.5h0M199.7 198.1h0M198.2 193.3h0M199.5 196.7h0M199.2 188.3h0M199.1 188.9h0M198.5 202.3h0M199.3 193.8h0M199.1 190.3h0M199.2 201.0h0M198.9 196.9h0M198.8 202.3h0M199.5 193.0h0M198.5 180.6h0M198.1 201.9h0M199.1 202.0h0M200.9 195.8h0M200.5 200.3h0M200.7 200.5h0M200.6 196.9h0M200.9 190.1h0M200.0 199.2h0M200.9 187.7h0M200.4 188.9h0M200.5 195.1h0M199.8 200.3h0M200.2 199.4h0M201.1 196.7h0M201.5 196.9h0M202.0 195.2h0M201.7 202.3h0M201.5 202.4h0M203.3 197.4h0M202.9 186.2h0M202.6 201.1h0M202.2 202.2h0M202.1 183.1h0M203.3 193.0h0M202.2 198.1h0M202.4 202.1h0M202.2 196.3h0M203.1 179.6h0M202.9 202.0h0M203.0 195.6h0M202.4 202.4h0M202.3 197.2h0M202.7 193.8h0M203.3 202.2h0M202.1 193.5h0M203.6 188.5h0M204.4 191.9h0M205.4 191.3h0M204.6 202.3h0M204.8 193.2h0M204.3 180.8h0M204.2 192.5h0M203.8 176.3h0M205.2 202.4h0M204.5 166.4h0M203.5 199.1h0M204.2 200.8h0M205.0 198.5h0M203.4 196.0h0M203.8 190.4h0M203.8 190.7h0M203.6 190.5h0M204.5 181.2h0M203.8 197.1h0M204.6 169.7h0M203.5 172.3h0M205.2 202.1h0M203.8 202.1h0M203.5 191.4h0M204.5 200.2h0M204.5 192.6h0M204.6 201.2h0M205.5 176.3h0M203.9 201.2h0M204.1 201.6h0M203.4 198.8h0M204.9 179.4h0M204.2 199.4h0M204.8 197.5h0M204.3 180.3h0M205.3 202.4h0M206.0 152.4h0M206.1 172.2h0M206.0 202.3h0M205.8 189.0h0M206.2 194.0h0M205.8 201.1h0M206.1 161.2h0M206.0 183.7h0M205.7 159.0h0M206.2 196.2h0M206.2 189.9h0M205.8 183.0h0M206.0 158.3h0M205.6 193.5h0M206.1 173.5h0M205.6 170.1h0M206.9 202.3h0M206.6 170.1h0M206.4 192.5h0M206.3 196.7h0M206.3 201.1h0M206.7 193.4h0M206.7 197.1h0M206.3 160.4h0M206.6 197.6h0M206.2 202.4h0M206.4 202.3h0M206.7 174.4h0M206.4 199.9h0M206.9 169.2h0M206.4 174.5h0M206.5 167.4h0M206.9 201.8h0M191.7 191.8h0M192.7 184.4h0M192.0 180.5h0M192.2 179.0h0M193.6 182.7h0M193.5 185.4h0M193.4 196.6h0M193.5 198.6h0M194.2 159.4h0M194.1 178.6h0M194.1 194.0h0M194.2 175.0h0M195.1 160.7h0M194.6 182.4h0M196.3 162.9h0M194.5 152.5h0M195.2 171.8h0M195.8 160.6h0M195.8 185.1h0M195.8 190.2h0M195.8 186.3h0M196.0 178.1h0M196.4 166.1h0M196.8 155.3h0M196.7 162.3h0M196.7 150.2h0M198.5 154.1h0M197.8 161.6h0M197.1 173.5h0M197.4 145.6h0M197.2 177.3h0M198.2 157.7h0M197.6 160.5h0M198.4 155.4h0M199.5 195.4h0M199.6 177.9h0M198.8 184.6h0M198.7 188.5h0M199.7 195.5h0M199.1 187.9h0M199.1 196.6h0M201.6 185.2h0M200.9 177.6h0M200.1 167.0h0M201.3 169.1h0M200.7 196.2h0M200.8 189.6h0M203.4 155.2h0M201.9 176.5h0M202.7 193.9h0M201.9 154.4h0M202.3 180.2h0M203.5 183.2h0M203.2 169.6h0M203.8 182.1h0M202.7 169.2h0M202.7 156.6h0M204.3 192.2h0M204.4 158.1h0M204.7 200.8h0M203.9 187.7h0M204.4 160.4h0M203.9 144.8h0M206.1 185.9h0M206.5 197.7h0M206.4 187.4h0M205.2 159.4h0M205.7 179.2h0M206.7 171.0h0M205.8 201.2h0M206.2 148.5h0M205.1 172.6h0M205.1 192.9h0M205.1 202.1h0M206.9 161.0h0M228.6 196.5h0M229.1 167.3h0M228.9 188.8h0M228.6 196.5h0M229.1 185.1h0M229.3 164.8h0M228.7 198.5h0M228.9 179.8h0M229.1 202.2h0M228.9 176.2h0M229.3 177.2h0M229.3 189.9h0M229.0 194.2h0M228.8 201.1h0M228.7 191.1h0M229.3 157.4h0M229.2 170.5h0M229.3 189.8h0M228.8 201.9h0M229.0 174.5h0M228.8 192.1h0M229.2 185.7h0M229.2 170.8h0M228.7 168.9h0M229.0 152.7h0M229.4 199.1h0M229.0 147.5h0M229.6 202.1h0M230.5 173.9h0M229.6 191.8h0M230.4 178.5h0M230.0 201.0h0M229.6 201.0h0M230.2 175.7h0M229.4 196.9h0M230.1 199.2h0M230.4 169.5h0M229.5 179.9h0M230.3 179.4h0M229.7 185.2h0M229.7 200.3h0M229.4 169.7h0M230.4 174.7h0M229.5 186.6h0M230.4 190.9h0M230.1 171.4h0M229.7 201.2h0M230.5 179.1h0M229.7 188.7h0M231.3 179.0h0M231.0 173.7h0M230.6 157.4h0M231.3 196.0h0M231.4 174.2h0M230.6 162.8h0M231.0 202.4h0M231.4 178.9h0M231.2 182.7h0M231.1 172.5h0M230.6 195.8h0M231.5 202.4h0M231.3 169.2h0M230.8 198.3h0M230.8 182.4h0M231.2 151.1h0M230.6 191.9h0M230.9 202.1h0M230.7 199.6h0M231.2 194.2h0M231.0 166.7h0M231.6 158.0h0M230.6 173.9h0M230.7 179.2h0M230.7 202.3h0M231.6 154.5h0M230.7 174.8h0M231.1 199.1h0M231.1 166.7h0M231.5 200.2h0M231.2 201.8h0M230.9 173.6h0M249.3 202.0h0M250.3 196.9h0M251.1 202.1h0M250.5 201.0h0M250.3 202.4h0M250.1 202.3h0M249.7 194.2h0M249.4 201.7h0M251.9 182.9h0M252.2 186.5h0M251.8 183.9h0M253.0 202.0h0M251.4 200.5h0M251.8 202.4h0M253.1 202.4h0M252.9 202.1h0M252.8 191.9h0M253.0 196.4h0M253.1 201.8h0M253.1 190.2h0M251.4 191.6h0M252.6 185.7h0M252.8 199.1h0M253.0 201.0h0M252.3 201.6h0M251.3 195.6h0M253.8 176.6h0M253.3 178.4h0M254.7 202.4h0M254.6 183.4h0M254.6 202.4h0M254.6 184.9h0M254.5 199.1h0M254.3 184.7h0M254.0 197.9h0M254.1 185.3h0M253.8 184.6h0M254.2 177.1h0M254.2 202.4h0M253.4 198.5h0M253.8 197.5h0M254.5 200.3h0M254.4 200.8h0M256.2 178.1h0M255.7 168.1h0M254.9 168.6h0M255.6 202.4h0M255.1 177.4h0M255.0 202.3h0M254.9 197.2h0M255.8 202.3h0M255.2 201.1h0M255.9 200.8h0M254.9 183.7h0M255.2 193.3h0M255.0 202.4h0M254.9 188.7h0M254.9 182.4h0M256.0 202.4h0M255.6 168.9h0M255.1 199.9h0M255.3 202.0h0M256.0 190.3h0M255.7 195.7h0M256.1 180.7h0M257.1 202.4h0M256.9 196.4h0M256.7 200.2h0M257.1 201.1h0M256.3 197.5h0M256.3 193.1h0M256.4 202.4h0M256.4 202.4h0M256.9 202.3h0M256.6 202.4h0M257.8 201.6h0M257.6 201.9h0M257.3 201.3h0M257.8 197.8h0M257.2 202.4h0M257.8 195.2h0M257.3 198.3h0M257.9 202.4h0M257.5 202.4h0M257.8 174.8h0M257.2 197.4h0M257.3 165.6h0M259.4 202.3h0M258.8 196.2h0M259.3 202.2h0M258.3 200.9h0M258.3 197.5h0M258.3 199.9h0M260.3 197.7h0M260.3 175.0h0M260.0 176.7h0M260.0 201.6h0M260.1 202.4h0M260.1 195.3h0M260.2 202.0h0M259.8 201.1h0M259.7 202.4h0M260.5 200.8h0M260.1 184.5h0M259.5 201.9h0M259.6 191.2h0M261.2 201.0h0M260.6 202.2h0M261.2 202.4h0M261.0 202.4h0M260.6 202.4h0M260.6 199.1h0M260.6 198.4h0M261.7 176.3h0M261.8 199.1h0M261.7 177.6h0M262.8 201.8h0M262.3 194.2h0M262.6 180.4h0M261.9 201.8h0M262.7 166.7h0M262.0 202.1h0M262.5 202.4h0M261.6 173.4h0M262.4 196.5h0M262.5 176.8h0M262.3 172.4h0M262.6 194.8h0M261.9 186.5h0M261.5 189.0h0M261.8 202.4h0M262.7 194.9h0M261.9 202.1h0M261.7 179.4h0M264.1 202.1h0M263.1 188.8h0M264.7 202.1h0M263.0 185.2h0M264.8 202.0h0M262.9 192.0h0M264.0 201.9h0M264.0 202.4h0M263.2 200.7h0M264.3 202.4h0M263.1 182.1h0M262.9 189.4h0M263.0 195.1h0M263.4 195.3h0M264.7 200.4h0M265.6 202.4h0M265.3 202.1h0M266.7 190.5h0M266.7 201.6h0M265.1 200.5h0M266.7 197.2h0M265.7 202.4h0M266.0 202.4h0M266.1 202.4h0M265.0 202.4h0M265.7 201.3h0M265.7 201.5h0M264.9 182.9h0M265.8 186.4h0M266.0 191.5h0M266.2 178.8h0M265.1 191.3h0M265.4 196.9h0M265.1 199.9h0M265.6 201.7h0M265.4 192.9h0M266.7 202.1h0M266.4 197.3h0M265.8 202.1h0M266.4 202.4h0M265.6 202.2h0M265.2 185.2h0M265.2 202.3h0M265.2 201.3h0M266.3 185.1h0M265.1 202.3h0M268.1 197.7h0M267.0 196.7h0M267.5 201.6h0M266.9 196.3h0M268.3 199.2h0M267.1 202.4h0M267.1 194.8h0M268.0 202.2h0M267.8 202.3h0M268.6 197.1h0M269.4 202.3h0M269.6 202.4h0M268.6 186.4h0M269.3 200.3h0M268.5 199.5h0M269.1 200.8h0M269.2 190.7h0M269.0 186.1h0M269.1 202.4h0M268.5 180.0h0M268.5 196.4h0M269.8 201.8h0M270.2 202.2h0M269.8 193.4h0M270.4 202.1h0M270.9 198.6h0M270.0 172.8h0M270.5 202.2h0M269.7 186.1h0M270.0 201.5h0M270.1 202.4h0M269.9 202.4h0M270.7 202.4h0M270.9 202.0h0M270.3 195.3h0M269.8 187.2h0M270.3 202.2h0M270.7 198.9h0M271.0 176.8h0M271.0 200.8h0M270.9 202.1h0M250.2 168.1h0M249.3 161.5h0M249.5 181.7h0M249.3 173.0h0M249.8 156.5h0M250.0 171.7h0M249.5 168.8h0M249.2 136.8h0M250.0 126.9h0M250.6 144.7h0M250.7 117.9h0M250.5 143.0h0M250.9 161.1h0M250.4 125.0h0M251.1 155.3h0M251.6 172.3h0M252.4 191.4h0M252.1 126.3h0M252.2 135.1h0M251.4 181.6h0M252.5 198.8h0M251.7 184.7h0M252.6 141.7h0M252.6 194.8h0M252.0 141.2h0M251.5 190.7h0M254.0 181.3h0M254.4 189.7h0M253.6 170.1h0M254.0 140.7h0M253.6 125.9h0M253.6 143.3h0M253.9 142.5h0M253.8 146.3h0M253.1 175.5h0M254.0 125.8h0M253.1 148.0h0M255.2 199.5h0M254.5 177.7h0M254.7 175.4h0M254.9 166.9h0M255.4 195.7h0M256.4 152.9h0M256.3 167.8h0M255.9 152.7h0M256.3 129.7h0M256.2 151.5h0M257.0 144.3h0M256.7 194.1h0M256.7 134.5h0M256.9 170.9h0M256.9 174.8h0M258.1 138.7h0M258.1 150.7h0M257.3 131.5h0M258.4 130.4h0M259.1 161.7h0M257.7 198.7h0M258.5 154.4h0M258.6 140.4h0M257.8 154.2h0M258.9 143.4h0M258.1 163.9h0M259.1 135.6h0M257.8 188.4h0M259.9 178.4h0M261.0 182.7h0M260.6 189.7h0M260.6 157.5h0M260.8 148.4h0M260.4 194.8h0M259.4 142.3h0M259.9 136.6h0M260.4 148.7h0M259.5 166.1h0M259.9 144.2h0M259.9 158.0h0M259.3 156.4h0M261.6 199.8h0M261.6 156.3h0M261.5 183.3h0M261.8 173.9h0M262.0 177.8h0M261.6 155.1h0M262.8 184.3h0M263.1 139.4h0M262.7 161.4h0M262.9 133.6h0M263.4 188.7h0M263.7 168.6h0M263.1 162.5h0M264.1 184.1h0M265.1 163.7h0M265.0 149.3h0M264.1 165.7h0M264.8 181.9h0M265.6 186.5h0M265.1 172.0h0M264.4 158.1h0M264.8 200.2h0M264.6 184.7h0M266.6 153.2h0M266.2 148.4h0M266.9 195.5h0M267.1 151.4h0M266.6 160.6h0M267.2 193.8h0M266.5 169.7h0M267.6 160.0h0M267.5 189.3h0M267.9 200.4h0M267.5 147.6h0M268.1 184.5h0M268.9 155.9h0M268.2 179.8h0M268.0 179.8h0M269.0 148.7h0M268.1 187.5h0M268.9 181.4h0M269.8 197.5h0M269.5 157.0h0M269.8 173.5h0M270.2 137.1h0M269.8 143.7h0M270.3 199.2h0M270.4 135.8h0M270.7 144.3h0M270.5 171.4h0M270.8 137.7h0M271.0 159.7h0M274.3 200.1h0M273.0 202.4h0M274.8 201.1h0M273.5 183.4h0M273.2 196.6h0M274.7 202.2h0M274.6 198.3h0M274.2 192.7h0M274.2 195.4h0M273.8 202.3h0M273.6 202.4h0M274.6 191.2h0M273.0 200.1h0M274.0 202.3h0M274.2 199.3h0M274.2 188.3h0M274.2 201.1h0M273.6 185.4h0M273.1 202.1h0M274.8 196.3h0M273.3 202.3h0M275.3 197.5h0M275.8 202.2h0M275.2 189.1h0M275.1 176.6h0M274.9 196.9h0M275.5 198.5h0M275.7 201.4h0M275.6 192.9h0M275.5 199.1h0M275.6 202.3h0M274.9 202.4h0M275.6 201.3h0M275.2 199.7h0M276.0 201.9h0M275.3 171.1h0M275.4 196.8h0M274.9 198.2h0M275.6 201.1h0M276.9 201.8h0M276.9 201.5h0M278.0 196.8h0M278.0 185.4h0M276.5 202.2h0M276.5 193.6h0M276.7 201.6h0M277.6 195.4h0M278.0 202.3h0M276.5 175.8h0M276.1 202.1h0M277.3 201.5h0M277.4 199.2h0M276.8 201.8h0M277.3 190.1h0M276.4 196.4h0M276.1 200.2h0M277.9 192.7h0M276.5 199.5h0M276.5 177.0h0M277.2 200.1h0M277.0 189.1h0M277.1 194.2h0M276.8 202.2h0M277.4 193.1h0M277.6 198.2h0M276.5 197.6h0M277.0 193.6h0M276.2 198.8h0M276.3 199.7h0M278.2 199.2h0M279.0 200.0h0M279.2 202.0h0M279.1 202.3h0M279.0 200.3h0M279.8 191.4h0M278.9 193.6h0M279.3 202.4h0M278.7 202.4h0M279.0 193.9h0M278.3 202.3h0M278.5 196.6h0M278.4 200.7h0M279.9 191.2h0M280.4 168.6h0M280.8 166.8h0M280.9 196.3h0M280.5 202.4h0M280.8 196.5h0M280.9 201.3h0M280.2 201.9h0M280.6 198.8h0M280.1 176.1h0M280.6 198.3h0M280.7 175.1h0M280.1 193.5h0M280.1 166.0h0M280.1 177.2h0M280.7 202.2h0M279.9 192.4h0M280.3 201.9h0M280.7 199.7h0M280.1 183.3h0M280.7 202.4h0M280.2 174.6h0M282.0 190.1h0M281.8 202.4h0M281.6 201.6h0M281.4 202.4h0M281.9 184.2h0M282.3 170.1h0M282.0 195.6h0M281.9 192.0h0M282.3 188.7h0M281.6 202.4h0M282.6 166.2h0M282.0 183.6h0M282.9 193.2h0M282.8 197.6h0M281.0 188.0h0M281.6 202.1h0M281.0 186.2h0M282.9 197.5h0M281.7 198.3h0M282.1 193.8h0M281.7 186.5h0M282.2 199.6h0M282.7 162.8h0M282.2 191.6h0M282.1 169.0h0M282.8 169.2h0M282.7 166.0h0M282.4 190.9h0M282.2 190.1h0M282.0 202.4h0M282.8 191.1h0M282.8 176.4h0M281.7 191.9h0M281.6 199.2h0M281.3 194.4h0M281.8 184.8h0M282.3 200.6h0M282.3 199.8h0M282.7 198.9h0M285.0 188.1h0M283.4 202.1h0M283.1 186.9h0M284.0 192.4h0M284.9 193.4h0M283.6 202.2h0M283.1 186.6h0M283.3 200.8h0M284.3 198.0h0M284.9 194.0h0M284.7 196.5h0M283.2 191.3h0M284.2 184.5h0M284.7 183.7h0M283.0 191.6h0M284.9 193.4h0M284.4 201.2h0M285.0 188.2h0M283.9 201.6h0M284.7 202.3h0M284.1 199.5h0M284.5 196.0h0M285.0 191.1h0M283.8 198.0h0M283.9 183.5h0M283.6 202.1h0M283.4 193.4h0M286.0 195.1h0M285.6 190.8h0M285.9 197.4h0M285.7 194.3h0M285.7 193.6h0M285.3 202.0h0M285.7 201.3h0M285.1 199.8h0M285.8 202.4h0M285.1 191.0h0M286.4 202.4h0M286.5 197.8h0M287.0 194.5h0M286.4 193.1h0M286.8 201.8h0M287.2 190.9h0M286.5 174.3h0M286.8 194.3h0M286.4 198.1h0M287.1 168.7h0M286.4 200.6h0M287.1 188.0h0M286.3 202.4h0M286.4 180.7h0M286.8 202.4h0M286.8 177.9h0M287.0 187.4h0M287.2 196.7h0M286.7 189.3h0M287.9 198.6h0M287.7 202.0h0M287.9 188.0h0M287.8 175.5h0M287.5 199.5h0M287.7 192.5h0M287.6 166.9h0M287.4 202.0h0M287.4 189.6h0M287.8 183.8h0M287.3 169.9h0M287.7 194.9h0M287.9 174.0h0M287.4 181.2h0M273.1 201.9h0M273.0 179.3h0M273.2 187.1h0M274.6 188.3h0M275.3 159.0h0M274.6 162.4h0M275.7 132.7h0M274.1 199.1h0M273.7 152.9h0M274.8 198.3h0M275.1 154.7h0M274.4 175.9h0M274.2 164.0h0M274.7 198.8h0M274.4 177.9h0M274.7 161.0h0M273.8 149.2h0M275.3 153.0h0M276.5 192.9h0M276.5 186.5h0M276.2 175.2h0M276.2 179.3h0M276.0 181.8h0M276.9 173.8h0M276.0 193.2h0M278.6 201.2h0M278.4 160.4h0M278.5 200.7h0M277.4 189.9h0M278.8 197.7h0M277.4 159.4h0M278.7 186.7h0M278.2 176.4h0M279.6 170.8h0M279.6 180.0h0M280.0 180.0h0M279.2 173.6h0M279.4 149.2h0M280.2 141.8h0M279.1 161.4h0M280.4 172.1h0M280.7 184.7h0M280.7 143.5h0M280.4 182.6h0M280.7 170.6h0M281.1 158.3h0M281.6 188.7h0M281.4 183.5h0M282.7 190.9h0M282.2 150.7h0M281.0 186.4h0M282.5 188.3h0M282.3 152.7h0M281.1 151.2h0M282.8 136.7h0M282.7 169.3h0M282.1 166.3h0M283.3 155.1h0M283.8 189.5h0M283.3 178.5h0M283.2 193.7h0M283.7 175.2h0M284.1 149.9h0M284.2 144.3h0M283.4 165.2h0M283.6 168.5h0M284.2 193.8h0M284.5 164.6h0M283.3 180.3h0M286.8 163.1h0M285.1 177.8h0M284.9 175.1h0M285.6 191.9h0M286.9 169.0h0M286.7 202.2h0M285.7 181.7h0M286.4 194.7h0M285.2 142.8h0M285.0 201.1h0M286.9 156.8h0M287.1 181.0h0M287.9 180.3h0M287.5 193.0h0M288.0 171.5h0M287.3 171.6h0M306.8 176.0h0M306.7 187.4h0M305.6 192.9h0M305.4 184.5h0M305.4 181.9h0M306.7 150.9h0M305.1 186.0h0M306.5 154.8h0M306.2 198.2h0M305.5 150.4h0M306.3 165.9h0M305.2 199.2h0M306.3 197.4h0M306.9 150.8h0M306.9 194.9h0M306.8 200.2h0M305.7 196.6h0M305.6 197.8h0M306.8 195.4h0M306.1 188.5h0M305.6 199.4h0M305.4 199.8h0M305.4 197.2h0M306.8 168.8h0M306.3 195.2h0M305.2 182.7h0M306.1 197.0h0M305.1 172.8h0M305.4 185.6h0M306.2 189.9h0M305.8 152.9h0M306.8 185.3h0M306.5 153.3h0M305.5 175.7h0M306.8 165.7h0M305.4 201.6h0M306.3 165.8h0M306.5 173.9h0M306.0 181.0h0M306.5 152.6h0M305.7 181.7h0M306.7 156.4h0M306.2 164.8h0M306.7 156.1h0M306.2 180.7h0M305.7 201.3h0M305.9 190.1h0M305.4 197.3h0M306.4 155.3h0M305.8 176.4h0M305.7 202.0h0M306.4 196.2h0M305.5 166.7h0M305.4 190.0h0M305.7 202.1h0M306.1 201.2h0M305.5 147.5h0M306.2 199.3h0M307.4 201.9h0M307.1 198.1h0M307.6 200.7h0M307.1 184.3h0M307.2 181.9h0M307.8 192.0h0M308.3 155.5h0M307.2 171.6h0M308.0 144.8h0M307.4 186.7h0M307.9 201.1h0M307.4 160.2h0M308.4 153.3h0M308.2 181.0h0M307.3 147.2h0M307.9 144.9h0M307.6 189.2h0M307.5 190.4h0M307.5 175.5h0M307.2 196.0h0M307.1 187.8h0M307.4 192.3h0M307.0 173.4h0M307.0 169.8h0M307.7 141.6h0M308.1 161.9h0M307.1 158.0h0M307.2 152.0h0M307.3 191.7h0M308.3 142.8h0M307.8 202.0h0M307.2 192.8h0M307.4 170.9h0M307.4 158.3h0M307.2 156.0h0M307.2 189.7h0M307.7 200.7h0M307.5 151.1h0M308.4 190.7h0M308.1 150.5h0M308.3 162.0h0M307.3 201.9h0M307.8 202.0h0M307.3 192.3h0M307.2 198.9h0M307.9 175.6h0M307.3 190.4h0M307.1 180.4h0M307.2 186.8h0M307.4 197.1h0M39.0 168.7h0M40.0 197.9h0M39.6 153.1h0M39.7 185.1h0M39.4 166.3h0M40.2 171.9h0M40.0 160.9h0M39.0 186.0h0M39.7 168.8h0M40.4 137.1h0M39.4 202.4h0M39.1 197.4h0M39.3 199.6h0M37.4 175.5h0M37.2 135.6h0M37.7 162.5h0M37.2 191.4h0M37.6 161.5h0M36.6 174.6h0M37.2 136.4h0M36.9 135.5h0M37.1 195.2h0M36.7 137.1h0M36.9 200.6h0M36.6 166.4h0M36.9 181.4h0M37.7 133.7h0M45.2 163.4h0M45.0 197.2h0M45.3 175.0h0M44.9 129.8h0M45.7 163.7h0M45.5 130.9h0M46.3 131.7h0M45.2 181.6h0M45.1 182.3h0M45.0 134.9h0M45.5 174.7h0M46.2 155.5h0M45.5 189.9h0M44.9 167.8h0M45.9 175.5h0M45.6 122.7h0M112.0 133.0h0M112.2 165.6h0M111.9 138.5h0M112.0 136.9h0M112.6 194.3h0M112.2 148.5h0M111.9 161.8h0M112.1 165.0h0M112.7 156.9h0M112.5 143.9h0M112.5 132.6h0M112.6 143.8h0M111.6 132.3h0M111.6 178.7h0M119.1 145.3h0M119.8 171.7h0M119.0 176.2h0M119.2 167.6h0M119.7 147.8h0M119.2 150.5h0M119.3 139.2h0M119.7 154.6h0M119.5 179.8h0M119.7 154.3h0M119.0 191.8h0M119.4 168.9h0M106.5 200.7h0M105.7 163.3h0M106.2 168.7h0M105.9 161.6h0M106.3 198.1h0M106.2 155.8h0M105.4 177.4h0M105.6 169.3h0M106.2 178.6h0M105.6 194.0h0M119.8 180.4h0M120.4 141.3h0M120.8 172.0h0M120.3 177.9h0M120.5 188.2h0M120.0 159.9h0M120.1 174.9h0M120.5 184.4h0M119.8 143.5h0M119.7 147.2h0M119.6 160.0h0M120.2 155.2h0M145.4 199.2h0M145.5 190.2h0M145.1 185.8h0M145.9 183.0h0M145.1 190.4h0M145.7 168.2h0M145.9 185.2h0M145.1 170.5h0M145.0 154.9h0M145.8 192.3h0M138.3 184.7h0M137.5 165.8h0M138.0 180.1h0M137.8 172.8h0M137.7 183.6h0M138.0 170.4h0M137.9 189.4h0M137.4 195.4h0M135.7 202.0h0M135.6 200.5h0M135.7 176.5h0M135.7 164.7h0M135.4 199.1h0M135.4 200.0h0M135.8 191.5h0M135.7 162.9h0M135.4 177.9h0M198.4 162.2h0M198.6 173.8h0M198.6 156.5h0M199.0 178.3h0M198.8 175.0h0M198.8 180.9h0M198.6 167.6h0M198.9 184.1h0M199.0 163.0h0M197.9 189.2h0M197.7 160.5h0M197.7 200.7h0M198.2 142.2h0M197.7 180.9h0M198.0 159.8h0M198.1 187.1h0M198.7 157.0h0M198.3 173.0h0M198.3 179.9h0M198.1 185.9h0M197.9 198.2h0M206.5 180.3h0M205.6 160.5h0M206.5 176.9h0M205.4 190.0h0M205.6 188.2h0M206.5 193.1h0M205.6 160.3h0M205.5 190.3h0M252.9 163.3h0M252.9 173.2h0M253.8 163.0h0M253.1 195.8h0M253.2 172.8h0M253.0 198.8h0M253.6 183.1h0M253.3 160.5h0M253.2 193.8h0M253.3 186.0h0M253.2 149.2h0M253.9 156.4h0M253.3 183.4h0M253.2 133.5h0M261.6 179.4h0M262.1 200.4h0M261.5 194.9h0M262.1 197.8h0M261.3 170.2h0M261.1 200.0h0M262.1 182.5h0M261.7 146.7h0M261.5 188.8h0M261.8 149.8h0M261.0 151.6h0M261.0 185.5h0M261.3 187.7h0M260.9 188.2h0M260.9 174.4h0M261.4 179.3h0M261.4 179.1h0M261.5 178.5h0M260.8 158.1h0M261.4 165.9h0M260.3 165.9h0M260.3 196.3h0M260.0 160.0h0M260.0 193.9h0M260.0 172.4h0M260.0 169.2h0M260.0 190.1h0M260.0 161.7h0M260.1 198.2h0M260.2 153.5h0M260.0 193.3h0M276.3 189.4h0M276.1 160.4h0M276.3 189.1h0M276.1 197.5h0M276.0 163.8h0M275.9 195.4h0M276.1 201.8h0M276.2 177.5h0M275.9 173.1h0M276.6 178.5h0M276.0 181.4h0M275.9 152.9h0M276.5 167.7h0M276.5 175.1h0M286.8 191.2h0M287.6 173.8h0M286.9 161.6h0M287.4 201.9h0M286.9 172.3h0M287.3 178.6h0M287.2 181.7h0M287.1 162.6h0M287.2 147.4h0M286.7 171.4h0M287.2 196.6h0M288.0 195.0h0M287.0 181.3h0M287.7 162.7h0M288.0 185.3h0M287.4 169.2h0M287.0 174.2h0M288.1 165.0h0M288.4 157.8h0M287.2 184.6h0M288.0 158.3h0M287.3 198.9h0M288.0 177.6h0M287.9 158.2h0" stroke="#ff0000" stroke-width="2.30" stroke-linecap="round" fill="none"/><path d="M56.8 120.0h0M54.5 123.8h0M58.8 130.9h0M90.9 96.0h0M90.9 97.1h0M90.9 100.6h0M90.9 107.8h0M90.9 114.2h0M90.9 116.8h0M90.9 122.8h0M90.9 128.3h0M90.9 135.0h0M90.9 141.0h0M90.9 147.0h0M101.5 116.5h0M101.5 121.3h0M101.5 126.3h0M101.5 127.1h0M101.5 130.1h0M101.5 133.2h0M101.5 135.4h0M101.5 137.7h0M101.5 142.0h0M101.5 147.0h0M129.8 134.7h0M150.7 118.0h0M150.7 132.4h0M155.3 132.4h0M156.3 133.9h0M162.8 116.2h0M162.8 120.3h0M162.8 123.8h0M162.8 125.6h0M162.8 128.6h0M162.8 133.2h0M162.8 140.0h0M162.8 147.0h0M168.9 107.1h0M168.9 107.7h0M168.9 114.2h0M168.9 116.2h0M168.9 118.0h0M168.9 133.9h0M175.7 116.2h0M175.7 122.2h0M175.7 128.3h0M181.3 108.9h0M208.8 52.9h0M210.1 97.5h0M210.1 99.8h0M210.1 107.7h0M210.1 116.2h0M221.3 87.7h0M221.3 102.6h0M221.3 104.8h0M221.3 107.1h0M221.3 110.2h0M221.3 119.2h0M221.3 127.6h0M221.3 132.9h0M218.5 124.8h0M215.4 130.1h0M240.7 41.7h0M240.7 77.0h0M240.7 78.8h0M240.7 80.0h0M240.7 85.3h0M240.7 86.8h0M240.7 91.4h0M240.7 92.9h0M240.7 94.4h0M240.7 97.4h0M240.7 99.4h0M240.7 103.0h0M240.7 107.0h0M240.7 111.0h0M240.7 115.0h0M246.8 74.7h0M233.2 87.9h0M271.5 95.6h0M271.5 106.4h0M271.5 110.9h0M271.5 113.2h0M271.5 115.5h0M271.5 118.5h0M271.5 121.5h0M271.5 132.1h0M271.5 135.9h0M271.5 142.0h0M271.5 145.0h0M288.5 83.0h0M288.5 101.8h0M288.5 107.1h0M288.5 115.5h0M288.5 125.3h0M288.5 132.9h0M288.5 135.9h0M288.5 140.5h0M288.5 147.3h0M288.5 151.0h0M299.0 121.0h0M299.0 123.0h0M299.0 130.0h0M299.0 135.0h0M299.0 143.0h0M299.0 148.0h0M53.0 188.7h0M52.6 201.2h0M51.7 200.5h0M51.8 201.8h0M52.7 200.1h0M53.0 200.2h0M51.7 199.4h0M52.4 191.1h0M53.7 200.6h0M53.8 201.7h0M53.8 202.4h0M54.6 202.3h0M54.9 202.4h0M55.3 201.8h0M56.4 202.1h0M56.1 202.4h0M55.9 196.1h0M56.1 199.5h0M57.2 201.8h0M56.9 198.5h0M57.1 196.6h0M56.7 201.5h0M58.0 183.2h0M57.8 201.2h0M57.3 189.7h0M58.6 202.0h0M57.4 202.3h0M59.0 201.7h0M57.4 202.4h0M57.8 202.4h0M57.9 198.0h0M58.0 202.4h0M57.3 193.2h0M59.0 188.6h0M60.0 202.4h0M59.5 193.6h0M59.2 202.0h0M60.1 193.4h0M59.6 200.0h0M59.4 199.0h0M60.2 201.7h0M60.5 194.4h0M62.0 181.7h0M61.2 183.7h0M61.7 200.3h0M61.8 201.4h0M61.3 199.5h0M62.0 200.3h0M61.3 185.9h0M60.8 188.0h0M61.8 201.9h0M63.3 201.6h0M62.7 201.5h0M62.1 202.2h0M64.1 201.9h0M63.4 201.7h0M65.7 202.3h0M65.3 178.7h0M64.4 202.4h0M64.7 202.4h0M65.8 202.4h0M65.7 193.1h0M65.2 201.6h0M65.6 176.2h0M64.9 200.2h0M65.2 179.9h0M64.5 192.2h0M65.1 201.9h0M65.6 196.6h0M65.9 192.3h0M64.7 194.1h0M65.2 196.3h0M67.4 201.9h0M66.5 183.3h0M67.2 191.2h0M67.3 166.4h0M66.0 202.4h0M66.1 182.2h0M67.8 202.1h0M66.9 202.4h0M66.6 177.7h0M67.4 186.5h0M66.2 200.8h0M66.8 198.2h0M66.9 199.1h0M66.7 201.5h0M66.4 168.5h0M67.4 162.3h0M67.2 197.7h0M66.9 194.1h0M66.0 192.4h0M66.0 201.0h0M66.6 196.8h0M69.1 202.4h0M68.5 199.7h0M68.1 196.6h0M69.1 200.3h0M68.7 155.3h0M69.7 150.6h0M68.5 151.1h0M69.5 202.3h0M68.8 189.4h0M69.3 158.8h0M68.7 202.4h0M69.1 187.7h0M68.3 177.0h0M69.2 155.8h0M68.7 201.5h0M69.3 197.0h0M68.6 173.4h0M68.3 202.2h0M68.3 202.4h0M68.4 200.6h0M69.7 201.7h0M68.7 170.6h0M68.3 181.4h0M68.3 153.9h0M68.8 147.8h0M69.8 200.0h0M68.7 198.3h0M70.1 198.8h0M71.4 199.3h0M70.8 195.3h0M71.7 195.7h0M71.2 200.7h0M71.1 185.1h0M71.8 200.7h0M71.1 187.1h0M71.9 201.8h0M71.0 197.1h0M72.4 201.1h0M72.4 193.4h0M72.9 188.7h0M72.8 181.4h0M72.5 178.7h0M72.7 160.6h0M72.0 181.5h0M73.1 202.4h0M72.9 188.7h0M72.6 172.1h0M73.1 202.4h0M72.7 201.3h0M72.3 201.3h0M72.3 201.3h0M72.3 175.6h0M73.5 197.7h0M74.7 199.6h0M73.5 202.4h0M74.0 201.7h0M73.7 202.2h0M73.7 192.4h0M75.1 201.1h0M75.3 202.2h0M75.0 180.3h0M75.3 196.0h0M74.9 170.9h0M75.0 202.4h0M74.9 199.4h0M75.7 201.3h0M77.5 201.8h0M77.0 197.3h0M76.7 202.3h0M77.1 199.7h0M77.1 202.4h0M75.6 202.1h0M76.8 202.4h0M75.9 187.7h0M79.0 189.9h0M78.7 175.8h0M79.0 200.4h0M78.6 202.4h0M78.7 194.8h0M78.5 199.9h0M78.6 178.3h0M79.1 201.4h0M78.3 201.7h0M78.7 199.4h0M78.7 201.8h0M78.1 202.3h0M78.0 202.4h0M79.0 202.3h0M79.0 202.2h0M79.9 194.3h0M79.7 202.0h0M79.4 201.8h0M79.4 195.0h0M79.8 202.3h0M79.8 201.8h0M80.0 202.4h0M80.0 202.4h0M80.4 202.4h0M81.5 202.4h0M81.1 202.4h0M53.1 192.6h0M53.2 186.2h0M51.7 185.3h0M53.2 162.1h0M53.0 174.7h0M52.4 161.2h0M53.1 200.0h0M53.0 193.4h0M54.7 191.4h0M54.1 202.2h0M54.4 181.9h0M54.0 181.6h0M55.7 179.9h0M55.7 182.4h0M55.4 186.6h0M57.0 183.6h0M56.7 184.0h0M57.0 193.0h0M56.1 191.9h0M57.5 166.8h0M57.4 176.9h0M57.4 190.5h0M57.5 185.5h0M59.7 195.8h0M59.8 201.4h0M59.8 170.3h0M58.7 177.4h0M58.5 191.1h0M60.5 186.1h0M60.7 201.2h0M60.8 164.2h0M59.9 185.7h0M61.2 170.6h0M60.6 164.5h0M61.0 194.9h0M62.6 193.0h0M62.4 174.6h0M62.0 181.0h0M62.4 188.8h0M63.4 179.0h0M63.1 189.3h0M64.4 197.9h0M63.0 176.6h0M64.3 177.9h0M63.1 168.5h0M63.7 197.1h0M64.9 183.0h0M65.8 172.2h0M65.3 194.1h0M66.0 198.5h0M66.0 172.9h0M66.0 189.5h0M66.2 177.3h0M67.4 186.3h0M67.4 173.9h0M66.9 183.3h0M67.4 162.0h0M67.7 189.5h0M67.8 192.2h0M67.8 188.1h0M69.9 182.5h0M69.1 188.7h0M69.6 185.2h0M69.5 182.5h0M69.2 195.6h0M70.0 171.4h0M69.7 202.1h0M71.8 187.9h0M71.2 183.9h0M72.3 177.3h0M71.8 180.0h0M71.0 169.5h0M72.4 196.7h0M70.6 188.9h0M70.9 184.6h0M73.2 191.1h0M72.6 186.4h0M73.4 193.6h0M73.4 188.1h0M73.2 191.8h0M74.3 182.3h0M74.0 175.6h0M74.8 157.3h0M75.4 172.0h0M75.5 176.8h0M75.0 178.0h0M76.5 192.4h0M75.7 182.9h0M77.1 159.0h0M76.7 161.3h0M77.2 182.0h0M78.1 190.8h0M78.1 185.9h0M77.8 173.7h0M78.3 171.7h0M78.6 192.0h0M78.5 185.8h0M79.1 179.0h0M79.2 190.8h0M78.9 189.6h0M80.6 179.6h0M81.2 178.9h0M80.8 175.0h0M80.2 183.7h0M80.9 178.1h0M89.6 178.2h0M89.2 202.1h0M89.6 201.4h0M88.7 191.5h0M88.7 201.4h0M89.3 180.4h0M89.9 202.4h0M88.7 200.8h0M90.4 201.4h0M89.4 201.3h0M89.7 181.9h0M90.1 191.9h0M88.7 202.4h0M89.7 190.8h0M89.9 194.5h0M90.0 202.3h0M90.4 198.2h0M90.8 202.1h0M91.6 197.3h0M90.7 199.9h0M90.7 182.8h0M91.0 192.7h0M90.5 174.6h0M91.6 183.1h0M90.8 199.9h0M91.5 180.7h0M91.0 202.1h0M90.8 202.3h0M91.3 184.8h0M92.6 200.0h0M92.8 198.1h0M93.1 200.0h0M93.4 199.7h0M91.9 182.0h0M93.7 183.0h0M92.6 182.9h0M91.8 201.7h0M92.4 196.9h0M93.4 201.9h0M92.6 198.1h0M92.9 202.4h0M93.4 200.4h0M92.7 178.0h0M92.8 176.3h0M92.3 201.6h0M92.4 202.3h0M93.2 202.4h0M93.1 202.4h0M91.9 186.3h0M93.8 202.3h0M94.3 171.6h0M94.3 201.1h0M94.0 196.7h0M93.8 201.6h0M94.2 174.3h0M94.8 193.1h0M94.7 198.1h0M94.9 202.0h0M94.8 191.3h0M94.5 201.6h0M95.5 199.7h0M96.5 190.6h0M95.9 202.4h0M96.8 195.2h0M97.0 201.7h0M96.9 202.4h0M96.0 185.4h0M96.7 198.6h0M96.0 198.0h0M95.8 192.3h0M96.6 198.0h0M96.2 182.6h0M96.8 199.9h0M97.5 199.5h0M98.8 202.0h0M98.3 191.0h0M98.8 201.9h0M97.9 201.6h0M97.5 194.1h0M97.8 202.2h0M98.7 200.8h0M98.5 202.3h0M100.7 200.1h0M100.8 202.1h0M99.9 196.7h0M99.4 200.6h0M100.1 201.4h0M101.2 202.3h0M101.2 202.4h0M101.7 194.5h0M101.6 197.8h0M101.6 179.7h0M101.0 193.0h0M101.1 201.6h0M100.9 194.5h0M102.3 202.4h0M102.0 181.1h0M102.4 179.8h0M102.4 202.4h0M103.4 201.1h0M103.0 202.3h0M102.1 197.6h0M102.4 175.9h0M103.5 195.9h0M102.6 180.6h0M102.6 188.7h0M102.3 199.0h0M88.9 193.7h0M89.4 186.9h0M88.7 147.9h0M89.1 178.3h0M88.6 196.9h0M89.0 163.2h0M89.6 178.1h0M90.2 189.4h0M90.3 168.7h0M90.0 180.4h0M90.3 172.9h0M91.8 164.3h0M90.8 166.3h0M92.4 156.0h0M91.5 179.9h0M91.5 149.9h0M92.2 198.2h0M91.2 181.0h0M91.8 180.8h0M91.2 196.6h0M92.6 181.1h0M93.1 176.0h0M92.7 165.4h0M92.9 197.6h0M93.3 162.0h0M93.7 165.9h0M93.5 200.3h0M94.0 188.3h0M93.6 151.6h0M94.0 160.6h0M93.7 201.3h0M95.2 186.2h0M95.5 157.4h0M95.8 195.0h0M96.0 175.9h0M94.6 189.3h0M95.2 177.2h0M95.5 171.9h0M94.6 160.8h0M95.0 201.6h0M96.5 181.5h0M96.9 197.4h0M96.7 193.3h0M97.6 165.9h0M98.5 200.6h0M97.6 198.6h0M97.2 178.3h0M98.3 184.6h0M97.7 167.6h0M97.8 162.5h0M99.5 160.1h0M99.7 156.7h0M99.3 192.2h0M99.8 198.2h0M99.4 147.4h0M99.5 178.9h0M99.4 192.9h0M100.5 201.3h0M100.2 187.7h0M100.6 200.0h0M101.2 181.7h0M102.1 186.1h0M102.3 196.7h0M101.4 169.0h0M101.6 192.1h0M101.2 177.6h0M102.3 196.6h0M103.3 174.8h0M103.1 200.1h0M103.1 173.8h0M103.2 188.3h0M102.6 195.0h0M103.4 176.3h0M128.5 195.3h0M128.3 196.9h0M128.9 195.5h0M128.1 202.0h0M128.1 153.4h0M128.2 157.3h0M128.4 201.5h0M128.3 199.5h0M128.4 156.3h0M128.7 184.4h0M128.1 171.0h0M128.1 200.9h0M128.4 202.3h0M128.8 169.5h0M128.4 167.0h0M128.7 196.5h0M128.6 152.3h0M128.8 191.8h0M128.1 200.2h0M128.3 200.4h0M128.1 166.3h0M128.9 198.0h0M128.4 200.8h0M128.7 180.2h0M128.7 199.7h0M128.7 176.3h0M128.0 193.8h0M129.4 184.9h0M129.4 187.5h0M130.3 200.3h0M129.8 171.1h0M129.6 194.6h0M129.7 202.1h0M129.4 201.9h0M130.4 187.9h0M129.3 164.6h0M129.5 175.8h0M129.0 182.9h0M129.3 139.2h0M129.4 196.5h0M129.5 174.8h0M130.1 177.7h0M129.9 200.2h0M129.2 196.7h0M130.4 200.6h0M130.3 199.1h0M130.0 193.6h0M130.1 151.4h0M129.8 197.7h0M129.0 200.7h0M129.7 183.5h0M129.3 177.4h0M129.6 202.1h0M129.4 145.9h0M129.5 201.8h0M129.3 141.8h0M130.2 172.6h0M129.8 198.4h0M130.3 148.3h0M129.4 150.2h0M130.3 192.6h0M129.5 197.8h0M129.1 201.4h0M130.2 183.6h0M129.0 198.7h0M129.3 148.4h0M129.0 169.5h0M129.8 143.3h0M129.8 192.3h0M129.1 168.6h0M129.5 184.4h0M129.8 141.0h0M129.1 194.6h0M129.7 198.8h0M129.2 199.9h0M129.0 156.5h0M130.3 190.3h0M129.0 179.6h0M129.6 177.0h0M131.6 174.6h0M131.4 196.6h0M132.0 201.0h0M131.1 186.3h0M130.7 156.0h0M131.1 183.5h0M130.8 191.2h0M131.6 202.3h0M130.8 196.8h0M131.0 186.2h0M131.1 196.7h0M131.1 138.9h0M131.0 186.5h0M131.8 168.6h0M131.5 185.9h0M130.7 173.9h0M131.9 185.4h0M131.3 199.2h0M131.6 145.8h0M130.9 188.6h0M131.6 163.1h0M131.3 155.8h0M132.1 193.8h0M130.9 166.2h0M130.6 188.6h0M131.3 172.9h0M130.9 181.3h0M131.4 197.8h0M131.3 162.2h0M131.3 154.8h0M131.2 181.7h0M131.5 191.5h0M130.7 201.0h0M132.0 194.1h0M132.0 172.1h0M130.8 197.7h0M131.9 195.3h0M132.0 183.4h0M131.4 199.9h0M131.3 184.0h0M130.9 164.7h0M131.9 188.1h0M131.7 166.5h0M131.1 170.4h0M130.7 188.7h0M132.0 187.5h0M131.3 165.8h0M130.6 178.6h0M131.2 200.2h0M131.0 171.1h0M131.3 143.5h0M131.1 175.0h0M130.5 179.9h0M131.1 186.0h0M132.4 198.8h0M132.7 199.4h0M133.2 176.8h0M133.3 179.3h0M132.7 196.9h0M133.1 181.0h0M133.5 202.2h0M132.2 168.6h0M132.1 162.4h0M132.4 194.9h0M132.4 192.5h0M133.1 180.3h0M133.1 198.3h0M133.4 182.8h0M132.9 185.6h0M132.2 186.7h0M133.4 188.1h0M132.3 163.6h0M133.2 161.6h0M132.1 201.0h0M132.2 193.9h0M133.3 199.4h0M133.1 175.0h0M133.3 176.6h0M133.1 199.0h0M133.1 200.1h0M132.2 201.8h0M133.3 200.2h0M132.7 193.3h0M133.0 181.8h0M132.8 164.7h0M149.1 202.4h0M148.7 199.8h0M149.5 200.0h0M149.2 195.1h0M148.7 201.9h0M149.0 196.9h0M148.8 200.6h0M149.1 201.9h0M149.1 200.3h0M151.0 177.5h0M150.2 199.1h0M151.0 200.9h0M149.6 175.7h0M150.6 202.3h0M151.1 176.8h0M149.8 201.7h0M150.6 200.0h0M150.0 199.3h0M151.2 202.3h0M149.8 200.5h0M150.7 180.9h0M151.4 198.5h0M149.7 178.1h0M151.2 177.2h0M150.5 190.9h0M151.2 202.1h0M151.3 202.2h0M150.4 193.9h0M151.0 193.6h0M150.6 180.3h0M150.7 201.1h0M151.1 191.9h0M150.9 202.4h0M150.4 192.9h0M149.8 182.2h0M150.6 202.3h0M151.9 202.4h0M152.6 198.7h0M151.7 193.7h0M152.9 201.9h0M153.0 193.4h0M152.3 195.6h0M152.0 196.7h0M152.0 202.0h0M153.0 201.8h0M151.6 199.6h0M153.3 198.6h0M152.3 201.2h0M152.0 200.5h0M153.0 202.4h0M153.2 199.9h0M153.2 198.6h0M152.1 200.6h0M154.4 202.1h0M154.4 196.8h0M153.8 202.3h0M153.5 201.8h0M153.5 199.2h0M153.8 193.7h0M154.1 202.0h0M153.5 197.9h0M153.7 201.1h0M153.5 202.4h0M154.6 195.3h0M154.7 179.7h0M154.6 177.2h0M154.5 196.2h0M154.6 176.7h0M155.3 201.9h0M154.6 196.7h0M154.9 196.7h0M155.2 177.6h0M154.8 196.6h0M155.9 190.1h0M154.9 197.3h0M155.4 181.0h0M154.9 190.6h0M154.6 202.3h0M155.1 202.0h0M155.7 202.3h0M155.5 188.5h0M155.0 171.7h0M154.8 196.0h0M154.9 200.4h0M154.6 198.7h0M155.7 192.4h0M154.7 200.1h0M155.8 182.0h0M156.9 195.6h0M156.2 202.3h0M156.7 201.3h0M157.0 198.4h0M157.0 197.3h0M156.1 193.0h0M156.5 202.0h0M156.9 198.0h0M156.4 186.9h0M156.8 180.0h0M156.8 199.0h0M156.9 170.9h0M156.6 197.0h0M157.0 189.9h0M156.9 189.7h0M157.1 193.3h0M156.6 195.1h0M157.0 193.2h0M156.4 171.0h0M159.1 201.3h0M157.7 180.4h0M158.0 181.1h0M158.9 194.1h0M158.2 192.2h0M158.5 201.1h0M159.1 201.8h0M157.7 167.1h0M158.1 194.9h0M158.7 191.0h0M158.9 178.0h0M159.0 191.1h0M158.3 195.5h0M158.1 182.5h0M157.8 175.1h0M158.6 196.6h0M157.5 174.1h0M158.1 177.9h0M158.1 179.2h0M157.7 200.4h0M158.7 181.9h0M158.0 175.4h0M158.0 200.2h0M158.3 171.1h0M158.3 184.5h0M158.1 171.0h0M158.6 200.8h0M158.2 198.0h0M157.8 201.3h0M158.4 190.3h0M159.1 196.2h0M158.0 200.2h0M159.0 172.7h0M158.6 166.8h0M158.2 173.1h0M158.3 174.0h0M158.6 201.7h0M157.4 200.8h0M157.8 186.2h0M158.3 201.9h0M159.2 188.0h0M159.2 172.9h0M159.8 193.2h0M159.4 189.3h0M159.7 201.8h0M159.6 181.7h0M159.9 201.4h0M159.6 192.8h0M160.3 197.2h0M160.5 196.6h0M159.4 188.0h0M159.9 197.2h0M160.7 201.3h0M159.8 185.5h0M160.4 199.6h0M159.2 195.3h0M159.4 179.4h0M160.1 194.8h0M159.3 194.0h0M159.2 197.5h0M159.7 194.0h0M160.0 190.1h0M159.7 198.9h0M159.6 173.6h0M161.8 201.9h0M160.8 195.5h0M160.7 189.9h0M162.1 202.3h0M160.7 196.3h0M160.8 197.6h0M161.2 191.6h0M161.3 193.4h0M161.6 197.5h0M161.8 202.4h0M161.4 194.6h0M162.2 202.2h0M162.2 192.7h0M162.2 201.7h0M163.2 192.4h0M162.8 201.8h0M162.8 200.9h0M162.3 186.3h0M162.7 185.1h0M162.9 202.3h0M162.4 186.0h0M163.2 196.2h0M162.6 195.7h0M162.7 185.3h0M163.7 196.3h0M163.7 174.2h0M163.4 202.2h0M163.8 189.7h0M163.6 172.8h0M163.3 184.2h0M163.5 191.9h0M163.3 199.9h0M163.3 201.8h0M163.9 181.8h0M163.4 185.2h0M164.0 195.2h0M164.3 200.3h0M164.0 197.8h0M164.5 202.4h0M164.3 200.9h0M149.4 170.1h0M148.9 170.4h0M149.3 197.9h0M148.8 182.3h0M149.4 164.8h0M149.8 177.7h0M150.1 171.3h0M150.2 172.0h0M150.6 197.5h0M152.7 191.8h0M152.5 186.0h0M150.8 186.2h0M151.3 196.5h0M152.1 180.3h0M151.4 155.6h0M152.7 195.4h0M150.9 170.0h0M151.5 160.0h0M150.9 180.1h0M152.6 185.7h0M153.5 160.9h0M153.5 201.3h0M153.0 157.8h0M153.4 164.0h0M155.1 181.7h0M154.4 168.0h0M154.4 174.2h0M153.7 151.8h0M155.0 152.8h0M154.8 196.1h0M155.2 158.2h0M153.8 161.0h0M154.4 202.3h0M155.5 166.6h0M155.9 181.1h0M156.1 189.6h0M156.3 186.5h0M157.3 185.5h0M157.5 198.6h0M156.3 175.0h0M156.4 175.6h0M157.5 161.4h0M158.3 168.4h0M158.8 185.3h0M157.9 185.6h0M158.9 172.9h0M158.5 192.9h0M160.0 196.2h0M159.9 160.4h0M160.8 200.5h0M159.9 169.9h0M159.6 175.7h0M160.1 165.3h0M159.5 185.2h0M160.7 171.9h0M159.4 201.2h0M161.6 176.6h0M161.7 199.8h0M161.3 175.4h0M161.0 193.2h0M162.1 177.3h0M162.0 185.8h0M162.3 199.8h0M162.5 186.4h0M162.4 201.2h0M162.7 202.3h0M164.1 193.6h0M163.5 180.5h0M163.7 163.5h0M164.4 186.1h0M168.5 202.4h0M170.1 202.1h0M169.5 188.6h0M169.3 195.7h0M169.7 189.6h0M168.7 202.3h0M169.1 202.3h0M169.3 199.9h0M168.6 202.3h0M169.7 189.4h0M169.8 195.2h0M169.2 194.0h0M169.5 202.4h0M170.2 184.5h0M171.4 183.7h0M170.3 190.0h0M170.6 179.9h0M171.2 196.8h0M171.0 200.4h0M171.6 195.1h0M170.3 200.5h0M171.5 199.6h0M170.6 197.5h0M170.5 202.2h0M170.5 201.9h0M171.7 196.7h0M170.9 185.7h0M171.5 201.9h0M171.3 177.7h0M171.5 172.4h0M170.8 189.4h0M170.1 198.8h0M171.6 165.8h0M171.1 202.0h0M171.1 202.0h0M170.8 198.1h0M170.3 202.0h0M171.1 202.4h0M171.7 169.9h0M171.5 202.1h0M170.6 201.9h0M170.6 198.3h0M170.9 192.6h0M171.2 201.1h0M170.7 170.8h0M170.6 190.5h0M170.8 163.8h0M172.0 197.0h0M172.4 194.8h0M172.8 165.4h0M172.2 202.0h0M173.1 195.5h0M171.9 183.6h0M172.9 185.6h0M172.0 182.6h0M172.0 201.9h0M172.5 202.1h0M172.7 191.9h0M173.0 189.1h0M173.1 187.0h0M173.0 201.3h0M172.6 183.6h0M172.2 190.2h0M172.5 198.5h0M172.4 176.0h0M173.1 193.0h0M173.0 179.5h0M172.4 173.2h0M172.5 168.7h0M172.9 172.6h0M172.0 193.6h0M171.9 185.5h0M172.8 200.2h0M172.9 180.4h0M175.2 197.6h0M174.7 198.2h0M173.9 196.1h0M173.9 188.2h0M174.7 193.8h0M174.5 169.9h0M174.8 200.4h0M174.3 198.1h0M175.3 199.9h0M173.7 191.5h0M173.7 187.8h0M173.3 201.5h0M175.0 181.3h0M174.2 201.8h0M174.9 202.3h0M175.1 201.4h0M173.4 156.2h0M174.1 187.3h0M174.4 160.4h0M174.1 174.4h0M174.6 202.4h0M174.4 195.1h0M174.9 191.0h0M175.0 198.3h0M174.5 156.7h0M174.5 192.4h0M174.9 193.0h0M174.8 188.4h0M174.1 159.7h0M174.9 192.0h0M174.5 166.3h0M175.3 202.3h0M173.4 188.7h0M174.3 174.9h0M173.9 176.8h0M174.0 193.3h0M175.2 192.0h0M175.2 159.6h0M175.3 178.3h0M175.0 177.2h0M174.0 181.9h0M174.2 195.2h0M176.8 186.3h0M176.8 197.5h0M176.1 200.6h0M175.5 202.1h0M175.7 199.8h0M176.6 194.6h0M176.6 196.6h0M175.3 176.4h0M177.1 202.3h0M176.0 191.7h0M176.0 198.4h0M175.6 202.4h0M177.0 192.8h0M176.9 183.0h0M175.7 186.1h0M176.2 199.7h0M177.3 182.2h0M177.0 186.9h0M176.6 188.5h0M177.2 202.1h0M176.9 198.5h0M175.4 196.2h0M175.4 202.4h0M176.7 193.0h0M176.5 182.4h0M175.5 185.1h0M177.3 202.1h0M175.8 199.4h0M179.5 198.4h0M179.2 200.1h0M177.8 201.0h0M179.0 202.1h0M178.8 201.9h0M179.3 202.4h0M179.1 202.2h0M178.4 194.6h0M179.1 177.3h0M178.0 199.8h0M178.7 199.7h0M178.4 193.5h0M178.1 202.3h0M177.4 199.8h0M178.2 184.2h0M178.3 170.6h0M177.9 199.1h0M178.4 169.9h0M179.2 186.6h0M178.1 189.6h0M179.3 200.2h0M178.6 189.1h0M178.6 202.1h0M177.4 195.5h0M177.7 194.5h0M178.5 181.5h0M179.2 202.4h0M177.9 184.4h0M179.4 185.6h0M179.4 193.5h0M177.5 199.9h0M178.4 186.7h0M178.8 197.7h0M178.7 199.4h0M179.3 199.1h0M179.2 172.8h0M178.3 202.0h0M179.7 189.8h0M179.9 191.1h0M180.1 199.3h0M179.9 190.9h0M179.8 193.6h0M180.1 200.6h0M179.5 198.0h0M180.6 199.4h0M180.4 196.3h0M180.3 175.9h0M180.3 201.8h0M180.7 189.2h0M180.6 186.7h0M180.7 196.3h0M180.3 200.2h0M180.9 192.0h0M180.4 202.4h0M169.0 163.2h0M168.6 184.5h0M168.7 162.1h0M168.6 180.9h0M170.0 162.3h0M170.6 177.3h0M169.5 159.4h0M170.8 199.6h0M169.5 174.0h0M171.1 161.3h0M170.1 142.1h0M171.0 164.8h0M169.5 178.0h0M170.5 170.9h0M172.7 191.2h0M171.7 167.0h0M172.8 182.4h0M172.5 201.1h0M171.8 182.4h0M171.7 161.1h0M171.2 177.8h0M173.2 174.2h0M174.0 199.6h0M173.4 195.3h0M174.0 171.8h0M173.8 157.4h0M173.6 159.0h0M174.3 186.0h0M175.1 156.8h0M174.5 185.7h0M175.0 154.9h0M175.2 185.2h0M174.4 165.0h0M176.0 172.7h0M175.3 190.8h0M176.5 180.0h0M176.3 169.3h0M175.5 174.4h0M176.2 164.2h0M177.3 193.3h0M177.4 169.8h0M177.1 192.1h0M177.0 171.3h0M177.7 198.9h0M177.6 199.0h0M177.9 171.3h0M178.2 194.1h0M179.1 165.6h0M179.3 152.5h0M178.4 170.6h0M178.5 155.7h0M178.5 201.8h0M178.5 157.5h0M180.6 166.8h0M180.1 186.2h0M180.7 167.6h0M179.7 171.5h0M179.8 178.8h0M189.1 193.7h0M189.1 183.7h0M189.3 192.7h0M189.6 202.2h0M189.4 202.0h0M189.6 154.2h0M190.2 197.4h0M189.8 171.9h0M190.0 152.4h0M189.1 165.8h0M190.0 157.2h0M189.2 199.4h0M190.1 201.8h0M190.2 200.1h0M190.0 182.7h0M190.1 163.9h0M190.1 182.0h0M190.1 157.0h0M189.6 182.7h0M189.8 198.8h0M189.2 184.7h0M189.5 150.0h0M189.4 201.9h0M189.3 197.0h0M189.1 201.0h0M189.1 165.2h0M190.0 189.2h0M190.3 200.3h0M190.0 171.1h0M189.4 171.0h0M189.8 193.6h0M189.8 202.2h0M189.8 197.7h0M189.3 178.8h0M190.3 197.0h0M190.9 201.4h0M191.1 163.5h0M190.8 200.7h0M190.3 194.8h0M190.4 154.3h0M191.6 186.2h0M191.2 156.1h0M191.3 165.2h0M191.2 152.5h0M190.6 200.4h0M191.5 188.9h0M191.0 186.6h0M190.3 153.2h0M191.3 185.7h0M190.7 150.3h0M190.8 193.5h0M190.9 178.8h0M190.6 185.9h0M191.2 166.6h0M190.5 158.1h0M190.7 167.7h0M190.7 198.3h0M190.5 150.6h0M191.3 195.9h0M191.3 149.9h0M191.5 198.3h0M190.8 194.3h0M190.6 202.3h0M190.7 199.8h0M191.4 147.7h0M191.0 199.6h0M190.8 198.3h0M190.8 199.3h0M191.3 146.8h0M191.1 162.1h0M207.1 194.6h0M207.4 185.6h0M207.4 191.0h0M207.1 202.3h0M207.2 193.7h0M207.1 202.3h0M207.3 194.7h0M207.0 201.7h0M207.1 191.2h0M207.4 192.0h0M207.6 169.1h0M207.2 201.6h0M207.1 170.3h0M209.0 202.4h0M208.2 176.6h0M208.4 129.5h0M208.0 153.0h0M208.8 201.4h0M209.2 201.3h0M208.8 155.3h0M207.9 154.8h0M208.0 145.3h0M208.5 201.6h0M209.1 181.8h0M209.2 202.1h0M209.2 157.4h0M208.2 201.2h0M207.8 199.7h0M208.7 131.3h0M208.2 174.4h0M207.8 147.3h0M208.4 185.8h0M209.2 168.0h0M209.1 139.1h0M208.7 200.3h0M209.1 167.4h0M208.6 165.8h0M208.7 190.4h0M208.4 154.5h0M208.3 201.3h0M207.8 130.1h0M208.0 198.5h0M209.1 175.6h0M208.4 177.4h0M207.9 201.3h0M208.5 194.6h0M208.3 198.7h0M207.8 202.0h0M208.8 193.5h0M209.0 175.3h0M208.2 126.5h0M209.2 150.3h0M207.7 123.5h0M209.0 155.8h0M208.4 201.2h0M207.8 141.2h0M208.0 195.4h0M209.0 132.7h0M208.4 195.7h0M209.3 201.0h0M208.9 163.9h0M208.6 201.9h0M207.8 133.0h0M207.8 164.1h0M208.1 164.6h0M209.1 186.6h0M208.5 201.8h0M208.7 202.3h0M208.8 202.3h0M208.6 199.1h0M207.8 198.7h0M208.2 194.7h0M208.2 187.1h0M208.9 138.3h0M207.9 161.8h0M208.7 202.3h0M208.4 172.6h0M209.2 196.4h0M210.3 195.1h0M210.4 174.2h0M210.5 149.5h0M210.3 126.7h0M211.2 198.5h0M210.6 121.6h0M210.3 197.2h0M211.2 151.6h0M209.6 187.3h0M210.8 198.0h0M211.0 166.8h0M209.8 174.3h0M210.8 188.9h0M210.1 199.3h0M211.0 128.8h0M210.0 189.8h0M210.1 195.9h0M210.7 198.2h0M209.9 132.7h0M210.3 198.6h0M210.3 202.3h0M210.0 168.2h0M209.4 154.8h0M209.5 144.7h0M209.7 169.5h0M211.0 194.4h0M211.1 195.7h0M209.6 193.0h0M209.6 145.5h0M210.4 202.3h0M209.4 189.6h0M209.4 198.2h0M209.8 195.9h0M210.4 153.8h0M210.9 153.4h0M210.9 118.7h0M210.8 201.7h0M211.0 201.3h0M209.8 200.3h0M209.5 120.5h0M209.6 181.2h0M211.3 201.2h0M211.2 201.7h0M210.9 122.0h0M210.7 196.7h0M211.3 128.7h0M210.4 185.4h0M210.9 190.9h0M210.8 192.2h0M210.2 170.8h0M209.6 194.7h0M211.2 201.0h0M210.6 174.9h0M210.5 178.2h0M209.5 194.0h0M211.2 189.0h0M211.3 198.2h0M210.8 197.4h0M209.9 199.8h0M209.4 132.1h0M211.4 197.6h0M209.7 146.3h0M210.5 165.8h0M209.9 135.9h0M210.5 161.2h0M210.3 159.3h0M211.0 196.7h0M209.7 184.9h0M209.4 200.5h0M210.9 154.3h0M210.9 164.9h0M210.3 197.5h0M209.5 202.4h0M209.7 202.4h0M210.2 170.2h0M210.0 134.0h0M211.1 186.3h0M211.0 202.3h0M209.9 197.7h0M209.4 172.4h0M209.5 199.2h0M210.3 202.4h0M210.1 200.3h0M210.7 201.2h0M210.5 150.5h0M209.5 201.6h0M210.6 186.9h0M210.2 200.7h0M212.4 193.8h0M212.1 188.3h0M211.4 180.8h0M212.1 193.8h0M213.3 192.0h0M211.4 181.7h0M213.0 201.9h0M213.4 179.3h0M212.3 202.2h0M213.3 181.1h0M212.4 177.2h0M211.8 199.4h0M212.8 197.2h0M212.1 192.9h0M212.8 165.3h0M211.9 192.7h0M213.0 202.3h0M213.0 200.8h0M212.9 200.7h0M211.5 189.7h0M212.4 201.5h0M212.2 201.2h0M211.7 196.6h0M212.3 178.9h0M212.9 196.9h0M211.4 169.9h0M212.2 195.2h0M212.7 186.5h0M212.9 181.1h0M211.8 197.2h0M211.5 201.8h0M211.8 199.0h0M212.2 194.6h0M213.3 169.6h0M211.9 201.3h0M212.4 191.5h0M212.6 202.0h0M211.4 194.3h0M212.1 193.2h0M212.9 169.9h0M211.6 194.7h0M213.1 191.9h0M213.7 202.2h0M215.0 154.4h0M215.2 201.2h0M214.3 177.4h0M215.5 160.0h0M215.2 201.8h0M214.7 153.0h0M215.2 200.9h0M214.7 202.3h0M215.1 191.7h0M213.9 155.2h0M215.3 202.4h0M213.8 161.2h0M214.0 183.3h0M214.4 202.4h0M213.6 162.9h0M215.5 199.2h0M214.8 201.1h0M215.5 170.1h0M214.1 194.6h0M214.6 156.8h0M215.5 170.9h0M214.8 202.0h0M215.4 180.7h0M213.7 178.2h0M214.9 197.0h0M214.7 197.6h0M214.9 173.2h0M214.4 177.7h0M214.0 180.4h0M214.4 180.7h0M214.1 174.4h0M214.6 187.6h0M213.8 199.6h0M213.7 187.3h0M214.1 172.2h0M213.8 201.3h0M214.9 184.4h0M213.7 174.9h0M213.7 191.8h0M215.0 151.6h0M214.3 184.9h0M214.1 156.1h0M214.2 187.9h0M215.0 183.5h0M214.8 196.6h0M215.5 165.3h0M215.4 183.9h0M213.5 201.8h0M214.5 201.3h0M213.9 199.2h0M214.3 156.0h0M214.6 191.8h0M214.7 159.0h0M215.0 201.5h0M214.7 202.1h0M215.8 186.8h0M216.3 168.7h0M215.7 198.2h0M216.1 202.4h0M215.9 190.3h0M215.9 202.4h0M216.0 186.2h0M215.7 197.1h0M215.8 202.1h0M215.8 199.1h0M216.4 195.1h0M215.8 201.6h0M216.1 202.1h0M216.4 187.4h0M215.6 186.5h0M215.9 197.4h0M215.7 177.5h0M216.4 190.7h0M215.8 180.6h0M216.0 201.6h0M215.7 176.4h0M217.1 200.4h0M216.9 202.1h0M217.1 164.1h0M217.5 193.2h0M216.7 200.3h0M217.8 178.0h0M216.9 189.9h0M217.2 162.3h0M218.2 193.5h0M216.9 194.5h0M217.5 200.3h0M217.5 165.3h0M218.1 185.7h0M217.5 201.7h0M218.1 164.8h0M218.0 189.4h0M217.9 161.2h0M216.7 166.5h0M217.0 202.0h0M217.0 177.0h0M217.6 188.1h0M217.3 200.9h0M217.5 171.8h0M217.5 180.2h0M217.9 184.1h0M217.3 193.9h0M216.7 197.3h0M217.6 175.6h0M216.5 202.4h0M216.9 181.7h0M217.1 188.6h0M216.4 159.3h0M217.4 198.9h0M216.9 201.1h0M217.3 181.8h0M216.6 200.3h0M216.6 179.7h0M216.8 180.8h0M218.2 181.3h0M218.0 193.2h0M218.0 178.4h0M218.0 186.9h0M218.0 176.4h0M216.4 201.7h0M218.8 198.7h0M219.5 181.3h0M220.2 201.7h0M219.3 202.3h0M219.1 199.5h0M218.4 202.4h0M218.9 201.5h0M219.0 201.7h0M219.7 179.9h0M219.7 202.0h0M220.1 196.4h0M219.6 202.2h0M219.9 184.7h0M218.9 188.1h0M219.6 202.4h0M218.5 192.2h0M219.9 192.1h0M219.3 192.8h0M218.6 201.8h0M219.8 188.6h0M219.1 189.1h0M218.7 198.1h0M219.5 202.4h0M219.5 202.3h0M219.1 197.6h0M220.5 183.0h0M220.4 198.9h0M220.6 185.4h0M220.4 185.4h0M220.9 198.8h0M220.4 202.2h0M220.8 196.7h0M220.7 197.8h0M220.6 201.8h0M220.5 202.1h0M222.5 186.5h0M222.3 176.5h0M221.6 172.9h0M222.3 185.2h0M222.1 172.4h0M221.1 194.9h0M223.0 199.6h0M223.0 199.6h0M222.3 194.3h0M221.2 199.6h0M222.1 197.5h0M222.5 202.3h0M222.8 171.2h0M221.5 202.4h0M222.1 201.4h0M221.0 175.4h0M222.0 188.9h0M221.3 190.3h0M222.2 198.7h0M221.6 172.0h0M221.5 201.9h0M221.8 187.7h0M221.5 182.0h0M222.7 175.5h0M221.0 202.2h0M221.9 182.2h0M221.8 193.2h0M221.2 173.7h0M221.8 199.4h0M221.0 195.3h0M221.9 192.4h0M222.7 202.1h0M221.7 200.8h0M223.0 197.1h0M223.2 165.3h0M223.5 200.5h0M223.2 190.7h0M223.2 202.2h0M223.2 202.4h0M223.1 202.1h0M223.1 202.3h0M223.0 171.2h0M223.3 186.3h0M223.0 192.3h0M223.3 183.2h0M223.0 202.4h0M223.4 196.5h0M224.2 185.3h0M223.9 182.5h0M223.9 200.1h0M224.7 181.2h0M224.6 193.9h0M223.8 197.6h0M224.3 178.8h0M224.8 180.2h0M225.0 182.9h0M224.1 199.9h0M224.2 197.7h0M224.6 201.6h0M225.0 202.2h0M224.5 201.3h0M225.1 198.7h0M225.0 183.3h0M225.0 196.5h0M224.4 198.8h0M224.1 201.5h0M224.5 198.0h0M224.2 195.2h0M224.9 187.1h0M224.3 200.1h0M224.2 191.3h0M226.1 202.4h0M225.5 176.2h0M225.4 175.1h0M225.7 200.1h0M225.9 197.2h0M226.1 198.3h0M226.0 195.9h0M226.5 187.0h0M225.3 196.9h0M226.6 200.0h0M226.4 184.2h0M225.7 202.4h0M225.7 197.4h0M226.3 195.1h0M226.0 186.3h0M225.2 194.2h0M225.7 193.2h0M225.3 177.5h0M225.4 195.2h0M225.9 189.0h0M226.6 198.5h0M225.8 196.8h0M226.0 198.1h0M226.1 195.3h0M226.1 198.2h0M226.3 202.1h0M226.4 186.9h0M225.9 199.4h0M225.2 175.1h0M225.4 201.0h0M227.4 182.7h0M227.7 202.3h0M227.8 184.8h0M227.6 196.2h0M227.0 169.8h0M227.5 185.4h0M227.6 168.4h0M227.1 201.2h0M227.1 178.2h0M227.8 175.9h0M227.6 178.4h0M227.3 202.3h0M227.0 197.0h0M227.8 166.9h0M227.6 190.5h0M227.0 202.4h0M227.3 201.0h0M227.0 201.4h0M228.3 190.7h0M228.0 199.5h0M228.4 184.4h0M228.0 194.2h0M227.9 202.3h0M227.9 192.5h0M228.4 190.2h0M228.5 202.4h0M228.6 199.3h0M228.5 182.5h0M207.6 200.7h0M208.6 176.6h0M208.7 185.4h0M208.5 193.2h0M207.6 190.5h0M208.2 189.7h0M207.9 177.9h0M207.2 176.3h0M209.4 162.5h0M209.1 190.0h0M209.2 178.8h0M209.9 181.4h0M209.5 164.2h0M209.2 155.9h0M210.1 191.0h0M210.3 159.2h0M210.5 168.9h0M210.0 175.6h0M211.1 149.1h0M211.0 187.9h0M211.2 192.3h0M211.8 169.8h0M211.7 139.0h0M211.2 193.1h0M211.2 160.4h0M212.9 193.0h0M213.2 199.8h0M212.9 129.0h0M213.0 142.9h0M212.4 131.6h0M212.1 200.3h0M212.2 130.5h0M213.1 152.3h0M213.8 142.2h0M212.6 153.0h0M213.0 136.7h0M212.4 184.7h0M213.1 129.4h0M212.6 126.9h0M211.8 165.8h0M214.1 162.0h0M214.4 166.9h0M214.2 192.6h0M214.3 142.4h0M214.1 156.2h0M214.6 141.9h0M215.1 168.3h0M214.8 178.4h0M214.7 182.6h0M214.5 168.4h0M216.0 161.7h0M216.0 179.0h0M215.8 174.0h0M215.5 200.4h0M216.1 149.3h0M216.4 172.7h0M217.1 139.8h0M217.1 173.0h0M217.4 186.1h0M217.1 158.7h0M216.3 128.5h0M216.6 177.4h0M217.3 133.4h0M216.3 138.7h0M219.0 150.2h0M219.2 185.3h0M217.9 199.4h0M217.8 169.5h0M217.8 173.3h0M218.3 198.8h0M217.9 163.4h0M218.6 196.4h0M218.3 184.7h0M218.1 188.7h0M219.5 153.7h0M219.6 157.5h0M220.0 155.2h0M219.8 169.2h0M219.9 149.1h0M220.0 166.2h0M221.9 159.6h0M221.5 198.7h0M221.3 192.2h0M220.4 188.0h0M222.3 195.0h0M222.0 164.2h0M222.2 186.6h0M220.5 162.7h0M220.4 180.4h0M222.3 179.3h0M222.5 182.8h0M222.7 158.8h0M222.9 181.3h0M223.4 197.6h0M223.4 169.4h0M223.4 148.9h0M223.4 175.1h0M223.1 160.9h0M223.1 170.2h0M224.1 181.3h0M225.0 144.6h0M224.6 148.0h0M224.7 190.9h0M224.9 158.4h0M225.0 151.6h0M224.1 161.9h0M225.5 156.3h0M225.2 161.5h0M225.7 156.5h0M226.1 166.2h0M226.0 156.4h0M226.5 178.6h0M227.2 178.9h0M227.1 160.7h0M227.6 185.4h0M226.9 183.1h0M226.7 144.8h0M226.8 173.7h0M227.3 191.8h0M228.4 181.7h0M227.7 169.6h0M228.4 198.5h0M231.9 200.7h0M233.2 176.3h0M232.0 200.4h0M232.1 201.2h0M232.9 200.3h0M231.9 202.4h0M232.3 199.0h0M231.9 196.7h0M231.6 200.5h0M232.8 190.5h0M232.5 172.3h0M232.4 201.3h0M232.6 157.3h0M232.1 175.9h0M232.6 182.9h0M232.3 178.8h0M231.7 202.3h0M233.0 191.9h0M232.1 190.3h0M232.7 182.9h0M231.9 200.3h0M232.8 202.3h0M232.4 182.6h0M231.9 191.6h0M231.7 164.8h0M231.7 178.6h0M231.8 198.5h0M232.2 193.2h0M232.2 160.5h0M231.9 196.9h0M231.9 197.0h0M232.0 160.4h0M233.1 161.8h0M232.0 161.0h0M232.6 170.2h0M232.2 174.0h0M232.1 196.0h0M232.2 195.4h0M232.1 165.5h0M231.6 199.2h0M232.6 197.7h0M232.3 185.9h0M231.6 200.1h0M232.3 164.3h0M234.2 202.4h0M234.2 193.1h0M233.9 195.7h0M234.0 198.8h0M234.0 191.2h0M233.4 189.6h0M234.2 190.2h0M233.4 200.0h0M233.8 189.7h0M233.3 201.5h0M233.3 182.6h0M233.7 199.4h0M233.9 185.2h0M235.1 181.2h0M236.1 186.3h0M235.0 196.3h0M236.0 199.5h0M234.7 198.9h0M235.3 184.3h0M235.6 197.8h0M235.1 200.0h0M236.3 191.5h0M234.6 202.1h0M235.8 197.2h0M236.5 190.3h0M236.1 192.3h0M235.8 199.8h0M234.7 201.4h0M235.5 199.8h0M236.4 200.3h0M236.0 202.4h0M235.4 187.4h0M234.5 202.0h0M235.6 193.6h0M234.8 194.0h0M234.7 201.2h0M236.3 199.5h0M236.4 195.9h0M236.4 201.4h0M236.2 182.2h0M235.6 202.1h0M234.5 201.1h0M237.9 194.7h0M237.0 162.3h0M236.6 169.8h0M237.8 160.5h0M237.4 183.4h0M237.5 196.2h0M238.0 157.7h0M236.5 195.4h0M236.7 192.4h0M237.8 202.0h0M237.7 169.8h0M237.9 176.0h0M236.9 201.2h0M237.1 197.1h0M238.1 179.9h0M238.1 202.3h0M237.4 169.7h0M236.5 157.6h0M238.1 178.2h0M237.0 180.7h0M237.1 196.9h0M237.3 196.1h0M237.3 202.1h0M237.2 168.9h0M236.6 197.8h0M236.8 200.8h0M236.8 176.2h0M236.7 156.9h0M236.9 202.4h0M236.8 199.3h0M237.7 186.8h0M237.3 191.0h0M238.0 202.0h0M237.8 177.0h0M236.7 186.2h0M237.0 190.5h0M237.1 202.2h0M238.0 202.4h0M237.2 177.3h0M237.1 157.7h0M237.9 199.1h0M236.6 154.1h0M237.8 154.2h0M238.1 202.2h0M237.2 175.2h0M237.7 157.4h0M238.0 198.5h0M237.4 169.7h0M238.2 189.9h0M236.7 176.0h0M238.2 175.7h0M239.2 179.3h0M238.6 189.9h0M238.5 186.2h0M238.3 176.2h0M238.6 129.9h0M239.3 164.5h0M238.5 163.0h0M238.3 194.3h0M238.3 168.1h0M239.1 137.9h0M239.1 148.5h0M239.3 202.3h0M238.5 188.6h0M239.3 145.8h0M239.2 200.8h0M238.9 158.8h0M238.9 196.8h0M238.3 135.7h0M238.9 191.7h0M238.6 164.5h0M239.3 148.8h0M239.1 140.8h0M239.3 174.4h0M238.9 142.7h0M238.3 202.4h0M238.6 202.2h0M239.1 144.7h0M239.4 184.9h0M238.9 134.1h0M238.3 198.8h0M239.2 200.9h0M238.5 170.4h0M239.0 164.2h0M239.3 199.1h0M239.2 173.3h0M239.1 139.8h0M239.2 168.3h0M239.2 200.7h0M239.0 202.3h0M239.4 187.1h0M239.4 198.1h0M238.4 196.6h0M239.1 174.9h0M238.8 150.8h0M239.3 197.7h0M238.5 200.9h0M238.8 140.6h0M238.6 153.1h0M238.4 157.7h0M239.0 170.4h0M239.2 170.9h0M239.4 199.6h0M238.6 168.9h0M239.4 188.8h0M239.6 158.8h0M240.2 148.3h0M239.7 197.3h0M239.6 191.4h0M240.0 201.6h0M240.0 201.7h0M239.7 167.5h0M239.8 189.7h0M240.0 187.3h0M240.0 199.6h0M239.4 200.4h0M239.7 191.5h0M239.4 155.9h0M239.7 197.4h0M240.1 183.9h0M239.7 162.5h0M239.5 167.3h0M240.2 151.5h0M239.9 197.7h0M240.2 164.8h0M239.6 201.7h0M239.9 178.4h0M239.7 152.6h0M240.1 173.3h0M239.5 202.4h0M240.1 201.0h0M239.4 169.1h0M240.1 193.5h0M239.6 194.0h0M240.8 142.5h0M241.2 180.8h0M241.6 198.9h0M241.6 167.2h0M240.8 201.3h0M241.0 180.6h0M241.5 148.4h0M240.8 185.3h0M241.4 176.8h0M240.6 198.7h0M241.0 197.6h0M241.0 200.7h0M241.4 199.4h0M241.1 202.0h0M240.7 164.1h0M240.9 181.1h0M240.6 176.4h0M241.2 192.1h0M241.2 199.5h0M240.8 198.2h0M240.5 194.0h0M241.4 144.7h0M240.3 202.2h0M240.8 182.8h0M241.1 161.8h0M241.2 156.4h0M240.9 182.7h0M240.4 201.1h0M241.7 201.1h0M241.3 171.0h0M240.7 161.0h0M240.8 180.3h0M241.0 185.9h0M240.8 200.4h0M240.6 202.1h0M240.6 164.6h0M241.3 155.1h0M241.6 190.1h0M240.4 202.1h0M240.4 169.0h0M241.2 147.0h0M241.0 184.8h0M240.7 195.0h0M241.0 196.9h0M240.9 200.1h0M241.0 163.8h0M240.5 152.7h0M240.9 142.1h0M241.1 171.9h0M240.6 194.3h0M242.2 189.4h0M243.1 195.6h0M242.4 191.1h0M242.8 191.1h0M242.6 178.0h0M242.3 198.9h0M242.6 150.7h0M242.4 202.1h0M242.9 160.3h0M243.4 160.1h0M243.4 198.8h0M241.8 156.1h0M242.9 194.6h0M242.6 200.0h0M243.4 180.2h0M242.9 194.4h0M241.9 158.3h0M242.4 155.3h0M243.1 201.7h0M242.1 200.0h0M242.3 198.6h0M243.5 202.4h0M243.5 137.9h0M243.1 191.3h0M242.8 191.9h0M242.7 202.4h0M241.8 169.7h0M243.4 188.7h0M241.9 150.7h0M243.4 127.0h0M242.3 178.9h0M242.5 183.0h0M242.0 170.3h0M243.2 175.4h0M241.8 196.2h0M242.4 125.6h0M242.7 168.5h0M243.1 195.5h0M242.5 181.7h0M242.6 202.2h0M242.5 201.4h0M242.0 200.1h0M241.7 149.8h0M241.8 202.3h0M242.6 178.8h0M243.4 195.6h0M243.4 202.4h0M242.7 136.1h0M242.2 201.2h0M242.6 167.4h0M242.8 179.2h0M242.3 202.2h0M243.3 149.0h0M242.7 200.3h0M241.9 195.5h0M242.7 159.7h0M242.2 179.6h0M242.1 199.5h0M241.7 201.9h0M241.8 184.9h0M243.3 196.2h0M242.9 131.9h0M242.5 155.4h0M243.1 190.8h0M242.8 193.0h0M242.7 191.8h0M242.8 200.8h0M242.2 177.0h0M242.2 192.0h0M242.6 178.3h0M243.3 193.3h0M242.8 143.4h0M242.6 125.2h0M242.0 191.4h0M243.3 182.7h0M243.0 196.9h0M241.8 164.3h0M243.3 193.4h0M242.2 173.6h0M243.4 178.5h0M242.9 150.7h0M242.9 175.0h0M243.0 146.0h0M242.0 198.9h0M243.1 135.1h0M244.8 184.7h0M244.5 161.6h0M243.9 202.4h0M244.7 180.3h0M244.3 198.2h0M244.8 145.9h0M244.2 198.6h0M243.7 166.5h0M244.0 202.2h0M244.6 164.1h0M244.8 138.1h0M244.2 142.0h0M244.0 153.3h0M243.8 187.1h0M244.1 202.1h0M243.7 192.4h0M243.9 200.9h0M244.5 136.4h0M244.8 174.2h0M244.6 192.4h0M244.8 202.4h0M243.6 196.7h0M244.2 154.6h0M243.8 202.4h0M244.4 177.3h0M243.6 168.9h0M244.5 174.2h0M244.3 192.9h0M244.2 141.9h0M244.0 185.7h0M244.3 187.0h0M243.6 180.4h0M243.9 197.6h0M244.4 193.2h0M244.4 199.4h0M243.8 186.5h0M244.1 143.2h0M244.4 148.7h0M244.3 151.9h0M244.1 196.5h0M244.2 202.1h0M243.7 198.1h0M244.6 182.1h0M244.8 164.5h0M244.1 191.0h0M243.7 144.4h0M244.8 199.8h0M244.1 187.4h0M244.6 184.8h0M244.6 179.4h0M244.0 177.4h0M244.6 200.6h0M244.7 201.8h0M244.4 192.5h0M245.2 198.1h0M245.5 192.6h0M245.2 152.3h0M246.5 187.5h0M246.3 201.8h0M246.2 163.0h0M245.6 153.2h0M245.2 159.8h0M245.5 193.2h0M245.0 145.3h0M246.6 202.3h0M245.2 193.0h0M245.2 169.5h0M245.7 201.6h0M245.6 180.9h0M244.9 199.1h0M246.4 158.8h0M245.2 197.0h0M245.1 192.0h0M245.0 187.4h0M244.8 146.5h0M245.4 144.8h0M246.5 186.4h0M246.2 172.3h0M245.4 202.1h0M245.1 189.4h0M246.4 164.9h0M246.1 179.3h0M246.4 201.1h0M246.2 202.0h0M246.2 171.3h0M245.2 155.6h0M246.2 188.6h0M246.4 186.2h0M246.3 191.2h0M245.1 197.3h0M245.7 201.3h0M245.4 163.6h0M246.1 178.7h0M245.0 147.7h0M245.0 183.0h0M246.1 193.2h0M245.2 177.1h0M245.9 202.4h0M246.6 202.2h0M245.4 200.8h0M245.1 185.4h0M246.0 179.1h0M245.3 165.0h0M245.1 202.4h0M246.7 182.1h0M245.5 197.2h0M245.2 179.5h0M246.3 175.2h0M246.5 197.8h0M246.1 186.5h0M245.7 172.0h0M244.9 147.2h0M246.5 182.6h0M245.2 200.9h0M245.3 188.6h0M245.1 195.1h0M246.1 199.2h0M245.3 187.1h0M248.5 198.3h0M248.3 185.9h0M248.4 201.0h0M248.3 187.5h0M248.1 202.4h0M248.3 193.2h0M248.3 194.1h0M248.0 199.1h0M247.7 197.5h0M247.8 202.3h0M246.8 193.8h0M247.4 202.0h0M248.0 194.9h0M248.6 202.4h0M247.7 183.9h0M247.1 183.3h0M247.8 201.5h0M247.0 199.8h0M247.9 196.6h0M248.5 201.4h0M248.1 202.4h0M248.5 200.9h0M248.4 193.1h0M248.9 185.3h0M248.7 183.9h0M248.9 197.9h0M248.9 192.5h0M248.6 167.0h0M248.7 200.5h0M248.8 178.5h0M248.8 169.3h0M248.9 180.0h0M248.6 192.3h0M248.7 184.3h0M232.9 189.6h0M232.8 189.9h0M232.3 145.6h0M232.0 147.5h0M232.9 183.1h0M231.7 175.5h0M232.9 191.5h0M232.6 176.6h0M233.3 127.6h0M233.1 159.2h0M234.2 181.7h0M234.1 172.6h0M233.1 173.3h0M233.7 188.8h0M234.1 150.8h0M233.5 174.8h0M234.2 195.8h0M235.8 156.3h0M235.1 158.8h0M234.9 193.4h0M235.2 196.8h0M235.3 174.6h0M234.5 176.5h0M236.0 181.6h0M234.5 173.4h0M237.0 177.4h0M236.9 185.6h0M236.3 170.5h0M237.1 196.9h0M237.1 167.0h0M237.8 161.0h0M238.8 200.3h0M237.7 194.5h0M237.9 161.8h0M238.7 171.9h0M238.8 175.4h0M238.5 195.2h0M238.5 197.4h0M238.7 157.6h0M238.6 184.9h0M237.9 195.7h0M237.6 154.6h0M239.7 193.5h0M239.0 190.6h0M239.4 197.4h0M239.2 170.3h0M239.6 186.1h0M241.3 144.3h0M241.9 158.9h0M240.1 153.6h0M240.5 195.9h0M241.9 200.0h0M240.7 145.5h0M240.5 187.6h0M240.0 163.4h0M240.2 163.7h0M240.2 179.1h0M240.6 176.7h0M240.7 185.7h0M242.2 197.8h0M242.8 131.1h0M242.3 142.6h0M242.6 186.5h0M243.4 124.0h0M243.1 195.8h0M243.1 146.3h0M242.8 158.6h0M242.0 124.6h0M242.8 166.8h0M242.1 195.8h0M243.3 163.5h0M242.1 188.8h0M244.8 177.2h0M244.2 190.1h0M244.6 191.9h0M244.8 175.2h0M244.9 195.3h0M244.6 146.5h0M244.6 142.8h0M245.0 182.9h0M244.7 170.6h0M243.6 171.9h0M244.1 145.9h0M243.8 141.1h0M245.6 153.2h0M245.7 143.8h0M247.4 202.0h0M246.3 165.5h0M247.3 128.5h0M246.4 165.7h0M247.1 151.6h0M247.5 194.2h0M246.6 190.7h0M245.6 163.8h0M247.5 178.6h0M246.4 152.3h0M246.6 199.4h0M245.8 184.2h0M245.6 156.0h0M245.5 159.2h0M248.9 148.4h0M248.8 164.5h0M248.3 185.6h0M248.5 172.0h0M248.6 155.6h0M248.8 179.5h0M247.9 163.4h0M248.9 148.5h0M272.8 166.3h0M271.2 175.9h0M272.7 176.0h0M271.4 189.3h0M271.6 201.9h0M271.0 152.8h0M271.9 196.6h0M271.5 162.7h0M272.3 164.8h0M272.0 160.3h0M272.9 184.0h0M272.0 177.0h0M271.8 199.7h0M271.7 176.2h0M272.7 188.0h0M272.6 193.1h0M271.6 197.2h0M271.9 156.7h0M272.0 195.1h0M271.4 161.3h0M271.7 197.1h0M272.6 167.9h0M271.8 189.1h0M272.1 191.4h0M271.7 184.5h0M272.1 201.8h0M272.5 190.9h0M271.7 200.9h0M272.7 174.9h0M272.4 181.6h0M272.8 164.7h0M272.5 181.6h0M271.6 187.9h0M271.1 175.9h0M272.1 176.7h0M271.4 199.3h0M272.1 201.3h0M272.4 168.8h0M272.6 172.2h0M272.4 194.8h0M271.0 161.3h0M271.0 198.6h0M272.7 166.9h0M271.4 189.9h0M271.5 165.2h0M271.3 167.5h0M272.3 199.4h0M272.6 201.2h0M271.0 178.5h0M271.2 182.3h0M272.9 188.4h0M272.9 202.4h0M273.0 172.6h0M288.4 200.0h0M289.0 180.5h0M288.5 199.3h0M289.5 201.9h0M288.5 197.1h0M289.4 187.0h0M289.1 198.6h0M288.0 198.6h0M288.8 194.1h0M288.0 202.0h0M288.9 177.1h0M289.2 201.1h0M288.8 199.4h0M288.3 201.5h0M289.1 180.3h0M289.6 196.0h0M289.5 191.6h0M289.2 202.0h0M288.8 180.6h0M289.6 180.7h0M288.2 195.2h0M288.8 184.6h0M288.7 183.9h0M289.4 177.4h0M289.9 198.8h0M290.4 189.6h0M290.0 193.5h0M290.1 202.1h0M291.2 179.4h0M290.7 179.8h0M289.9 200.5h0M289.8 198.7h0M291.0 197.8h0M291.3 197.7h0M290.0 197.6h0M289.7 202.1h0M289.6 185.7h0M289.8 199.5h0M289.9 199.1h0M290.4 190.7h0M290.8 200.1h0M289.8 201.7h0M289.8 202.1h0M290.3 195.8h0M290.5 195.8h0M290.5 201.8h0M289.9 193.9h0M291.1 201.0h0M289.8 178.5h0M290.5 175.3h0M292.8 189.5h0M291.9 191.9h0M292.1 198.7h0M292.3 193.1h0M292.8 200.7h0M292.8 184.0h0M291.5 197.1h0M292.0 189.0h0M292.2 188.6h0M291.4 188.6h0M291.6 196.3h0M292.7 183.2h0M292.1 197.9h0M291.3 193.5h0M292.2 202.2h0M291.4 202.4h0M292.5 178.6h0M291.8 195.3h0M291.9 198.6h0M292.2 174.2h0M291.5 193.1h0M292.3 193.7h0M293.6 197.6h0M293.6 199.7h0M293.4 197.5h0M293.7 185.5h0M293.5 196.0h0M293.9 181.5h0M293.7 193.9h0M293.6 199.2h0M293.4 180.7h0M293.5 177.7h0M293.4 202.3h0M293.0 201.3h0M293.7 202.1h0M293.2 190.1h0M293.8 198.3h0M293.5 202.3h0M295.3 187.0h0M294.2 185.9h0M295.5 202.3h0M295.5 194.8h0M294.3 188.2h0M294.4 202.3h0M294.3 199.6h0M294.4 181.2h0M294.8 193.8h0M295.6 195.3h0M294.3 202.0h0M293.9 179.7h0M294.3 202.1h0M295.2 199.3h0M294.6 181.4h0M295.5 201.8h0M295.4 186.1h0M294.5 185.4h0M295.6 183.1h0M296.6 180.5h0M295.7 201.6h0M296.8 179.0h0M296.5 174.8h0M296.6 202.3h0M295.9 199.6h0M295.6 201.3h0M295.9 201.7h0M295.8 173.9h0M296.2 195.1h0M297.0 202.1h0M296.4 182.1h0M296.2 175.4h0M295.9 187.0h0M296.8 198.9h0M296.9 195.9h0M295.9 201.4h0M296.7 184.5h0M297.1 194.0h0M296.8 202.3h0M295.8 201.0h0M296.8 172.8h0M296.2 172.6h0M297.2 202.0h0M298.0 195.4h0M297.9 192.3h0M297.8 196.8h0M297.2 199.7h0M297.1 201.8h0M299.0 197.6h0M298.6 202.4h0M298.3 175.4h0M298.8 189.5h0M298.5 189.3h0M298.3 192.3h0M298.5 192.8h0M299.0 193.8h0M298.4 191.6h0M298.8 199.5h0M299.1 183.2h0M299.1 186.7h0M298.2 191.3h0M298.3 182.2h0M299.2 191.4h0M298.3 188.0h0M298.9 202.2h0M300.4 201.6h0M300.1 196.7h0M299.4 196.5h0M300.0 197.6h0M299.8 196.4h0M299.8 202.4h0M299.9 202.3h0M301.5 195.1h0M301.2 182.4h0M302.2 186.0h0M302.5 197.3h0M302.7 194.6h0M301.8 198.9h0M301.8 185.3h0M301.0 198.6h0M302.6 191.2h0M302.0 202.0h0M302.3 199.2h0M302.3 198.3h0M301.8 195.6h0M301.1 199.7h0M302.5 195.7h0M302.2 198.4h0M301.3 194.6h0M302.4 191.2h0M301.3 174.5h0M302.0 179.3h0M301.6 185.8h0M302.1 202.3h0M302.2 201.7h0M300.9 196.9h0M302.3 180.0h0M302.6 201.8h0M300.8 194.7h0M301.0 179.8h0M302.5 202.4h0M302.2 195.8h0M302.4 199.8h0M304.0 202.3h0M304.2 192.6h0M303.2 200.8h0M303.6 201.8h0M304.2 200.1h0M303.4 165.9h0M303.4 185.7h0M303.9 184.0h0M303.7 189.0h0M303.0 180.8h0M303.9 200.7h0M303.1 200.2h0M303.7 177.7h0M304.4 202.2h0M302.9 201.5h0M304.1 186.6h0M304.0 192.6h0M303.1 198.8h0M303.6 183.9h0M302.9 200.6h0M304.0 169.2h0M303.8 201.3h0M304.2 197.1h0M303.9 196.2h0M303.2 172.2h0M303.9 182.2h0M304.4 167.9h0M304.3 168.5h0M304.2 176.1h0M304.7 200.5h0M304.9 190.7h0M304.4 191.2h0M304.6 192.6h0M304.9 195.0h0M288.0 195.5h0M289.0 170.5h0M288.5 183.4h0M288.2 195.5h0M290.7 151.0h0M289.8 159.0h0M289.8 195.7h0M289.9 181.0h0M289.9 200.7h0M290.0 160.9h0M290.0 167.2h0M289.2 193.2h0M289.4 165.2h0M289.8 185.7h0M292.3 193.0h0M291.1 199.2h0M292.1 187.5h0M291.5 172.3h0M291.7 194.8h0M292.3 160.5h0M292.1 202.4h0M293.1 201.2h0M292.8 166.5h0M293.2 190.2h0M293.0 173.7h0M294.5 158.9h0M293.6 167.2h0M294.0 160.2h0M294.5 201.9h0M294.6 147.8h0M293.9 179.2h0M294.3 170.7h0M294.7 193.1h0M296.1 182.9h0M294.9 178.6h0M296.1 174.8h0M296.2 200.6h0M294.7 197.4h0M296.6 186.2h0M296.7 150.3h0M297.0 201.5h0M296.7 173.0h0M296.9 170.3h0M297.0 168.3h0M296.6 199.7h0M298.3 148.8h0M298.3 154.8h0M299.0 147.2h0M298.9 151.7h0M298.1 161.9h0M298.4 166.0h0M299.2 177.0h0M298.8 166.3h0M299.4 197.8h0M299.4 197.7h0M298.0 160.2h0M300.1 172.1h0M300.4 193.2h0M300.3 175.4h0M300.7 197.8h0M301.3 164.2h0M302.2 161.3h0M301.2 164.7h0M302.0 176.6h0M301.6 165.9h0M302.2 149.2h0M301.8 191.5h0M301.2 159.9h0M303.3 176.7h0M303.1 164.9h0M302.4 170.9h0M302.7 178.4h0M303.1 163.3h0M302.4 142.2h0M303.4 191.0h0M304.2 197.5h0M304.2 167.0h0M303.5 199.1h0M304.6 179.3h0M304.5 167.3h0M304.4 159.2h0M304.8 200.8h0M60.9 187.6h0M60.5 173.3h0M60.9 182.2h0M60.4 194.0h0M60.4 191.6h0M60.7 176.5h0M60.9 161.0h0M60.4 193.9h0M60.6 174.1h0M60.3 167.7h0M60.4 200.4h0M60.6 196.2h0M60.9 160.2h0M60.1 168.2h0M60.3 166.2h0M65.1 176.2h0M64.7 184.9h0M64.8 192.2h0M64.8 173.7h0M64.7 200.2h0M65.1 194.3h0M64.7 181.7h0M99.9 165.9h0M100.4 185.6h0M100.4 191.3h0M100.1 159.0h0M99.8 174.6h0M100.2 201.1h0M99.5 181.3h0M100.3 164.5h0M99.5 140.3h0M99.8 159.5h0M99.5 150.9h0M100.3 158.3h0M94.1 162.4h0M94.4 190.5h0M94.2 193.3h0M94.3 161.7h0M94.0 175.4h0M94.0 165.2h0M93.9 194.2h0M94.0 156.6h0M93.9 173.8h0M95.7 174.0h0M96.1 165.0h0M95.3 173.0h0M95.9 197.7h0M96.1 154.2h0M95.6 149.4h0M95.9 151.0h0M96.1 177.5h0M95.7 190.6h0M95.9 151.7h0M149.6 176.3h0M149.2 199.0h0M149.8 164.6h0M149.2 200.0h0M149.4 165.7h0M149.3 175.9h0M149.6 190.9h0M152.1 198.2h0M152.3 170.4h0M152.1 160.1h0M151.2 156.1h0M152.3 195.5h0M151.3 157.1h0M151.9 187.4h0M151.9 187.4h0M151.9 199.0h0M160.3 164.0h0M160.1 187.0h0M160.5 172.7h0M160.8 177.6h0M160.6 172.8h0M160.1 171.0h0M160.1 198.6h0M160.8 169.9h0M171.8 148.2h0M171.5 146.4h0M171.7 188.9h0M171.5 144.7h0M171.2 169.7h0M171.5 156.8h0M171.1 148.3h0M172.2 202.0h0M171.5 165.7h0M171.8 160.9h0M171.6 199.6h0M172.5 148.1h0M171.9 177.1h0M171.7 199.3h0M172.7 154.5h0M171.6 163.2h0M172.7 183.9h0M172.2 192.3h0M171.6 157.9h0M172.6 180.0h0M172.6 178.5h0M172.6 189.0h0M169.4 161.2h0M169.3 164.0h0M170.2 196.5h0M170.2 155.0h0M169.9 188.8h0M170.3 150.6h0M169.1 179.9h0M170.3 152.9h0M169.3 156.6h0M169.1 170.7h0M213.0 145.8h0M212.6 152.3h0M212.1 184.0h0M212.0 138.4h0M212.9 141.9h0M212.7 185.5h0M213.0 143.1h0M212.2 184.9h0M212.0 165.4h0M212.2 184.1h0M212.2 167.7h0M212.9 179.0h0M212.0 141.5h0M212.2 160.7h0M210.9 199.9h0M211.3 150.4h0M211.8 176.8h0M210.5 165.3h0M211.4 170.2h0M211.8 145.0h0M211.2 185.1h0M211.7 182.1h0M211.6 176.6h0M211.5 151.1h0M210.5 171.5h0M210.7 147.0h0M215.2 177.9h0M215.0 133.6h0M215.5 175.9h0M215.1 141.6h0M215.5 197.7h0M215.2 148.4h0M215.2 163.0h0M215.0 176.1h0M215.7 134.1h0M215.6 150.2h0M215.6 168.7h0M215.1 160.5h0M215.1 136.7h0M215.4 198.7h0M211.0 141.7h0M210.6 188.0h0M211.4 170.1h0M210.6 148.4h0M210.9 193.7h0M211.4 149.8h0M210.7 145.0h0M210.5 134.7h0M210.6 187.2h0M210.8 171.6h0M211.3 140.7h0M211.4 165.2h0M210.9 151.4h0M210.9 139.9h0M210.9 176.6h0M211.0 169.5h0M245.0 139.5h0M244.8 161.1h0M245.0 170.7h0M244.7 126.8h0M244.6 138.3h0M244.9 178.4h0M245.1 152.3h0M244.8 198.8h0M244.8 158.4h0M244.9 164.8h0M244.6 151.9h0M244.7 143.2h0M244.9 151.1h0M245.1 200.0h0M245.0 146.1h0M232.3 154.1h0M232.0 199.5h0M231.7 136.5h0M232.3 148.9h0M232.3 150.1h0M232.0 192.0h0M231.7 191.3h0M231.9 128.0h0M232.1 188.3h0M231.7 189.3h0M232.5 149.8h0M231.8 173.1h0M232.2 141.2h0M232.3 156.8h0M231.9 170.7h0M231.9 195.1h0M244.6 118.0h0M244.8 192.4h0M245.2 161.5h0M245.9 174.2h0M245.6 183.7h0M245.2 154.9h0M245.5 133.8h0M245.8 177.8h0M245.9 198.8h0M245.3 146.0h0M245.5 172.0h0M245.9 155.2h0M246.0 164.7h0M246.0 178.2h0M245.6 139.9h0M245.6 193.6h0M245.6 197.1h0M245.3 168.9h0M293.3 199.1h0M294.0 179.0h0M293.9 171.0h0M293.8 158.6h0M293.3 160.5h0M294.1 164.8h0M293.5 167.3h0M293.8 193.5h0M293.5 186.8h0M303.5 167.8h0M303.5 178.8h0M303.7 171.0h0M304.2 201.0h0M304.3 171.1h0M304.3 191.2h0M303.6 199.6h0M303.8 186.6h0M303.2 157.2h0M70.9 198.5h0M70.7 190.8h0M70.8 159.6h0M71.1 176.7h0M71.0 195.7h0M71.0 160.3h0M71.1 190.8h0M70.7 201.9h0M70.6 201.8h0M71.1 156.6h0M70.7 182.8h0M70.8 156.9h0M70.7 174.8h0M70.9 162.5h0M70.7 202.3h0M70.6 167.1h0M71.0 165.5h0M70.9 149.4h0M71.0 187.4h0M71.1 190.7h0M70.9 162.4h0M70.7 194.3h0M70.8 155.1h0M70.9 177.2h0M71.4 197.4h0M71.1 187.8h0M71.4 166.3h0M71.9 173.6h0M72.0 172.5h0M71.4 199.4h0M71.7 143.9h0M71.9 184.1h0M71.9 146.0h0M71.2 162.5h0M71.1 179.2h0M71.5 157.9h0M71.6 147.6h0M71.0 160.4h0M71.2 189.5h0M72.0 177.2h0M72.1 176.9h0M71.1 201.2h0M71.0 169.9h0M71.4 191.4h0M71.2 151.6h0M72.1 164.0h0M72.0 192.5h0M71.1 171.9h0M71.8 193.3h0M71.0 194.0h0M72.1 174.6h0M71.8 190.4h0M71.8 172.4h0M71.5 158.2h0M71.6 197.0h0M71.7 158.4h0M71.3 174.4h0M71.8 165.1h0M71.7 179.6h0M71.9 191.2h0M71.4 174.7h0M71.5 184.1h0M71.9 159.4h0M71.5 182.9h0M71.9 161.2h0M71.8 190.0h0M71.4 189.6h0M71.7 162.3h0M71.4 193.0h0M71.6 157.1h0M71.5 168.6h0M68.9 183.4h0M68.9 146.9h0M68.4 180.8h0M68.5 153.2h0M68.9 173.7h0M69.0 198.9h0M68.3 174.6h0M68.5 198.6h0M68.5 197.0h0M69.0 154.4h0M68.8 151.3h0M68.6 185.5h0M68.2 177.9h0M69.0 159.3h0M69.0 149.7h0M69.0 148.4h0M68.4 182.1h0M69.0 168.6h0M68.9 155.8h0M69.1 159.8h0M68.8 167.3h0M68.9 170.5h0M68.8 177.6h0M69.0 173.0h0M68.5 164.5h0M245.6 164.8h0M245.6 112.4h0M245.7 120.6h0M245.7 132.8h0M245.9 154.8h0M245.9 118.4h0M246.2 150.1h0M245.9 164.2h0M245.9 115.9h0M245.7 169.4h0M245.9 150.2h0M245.7 103.4h0M240.6 155.9h0M240.7 114.7h0M240.6 102.8h0M240.6 124.3h0M240.8 140.1h0M241.2 92.9h0M240.6 86.5h0M240.5 117.6h0M241.2 127.0h0M241.1 180.5h0M241.0 145.2h0M240.5 117.3h0M240.7 89.7h0M241.2 86.1h0M239.0 136.1h0M239.1 177.6h0M238.2 157.8h0M238.3 152.5h0M238.3 120.8h0M238.8 133.8h0M239.0 135.3h0M238.7 169.8h0M238.8 189.2h0M238.3 150.2h0M239.3 125.8h0M239.4 167.1h0M239.0 133.9h0M239.1 129.1h0M239.2 113.7h0M239.0 118.5h0M239.1 141.3h0M239.6 185.8h0M239.4 139.9h0M238.9 139.0h0M239.5 159.8h0M239.3 134.5h0" stroke="#0000ff" stroke-width="2.30" stroke-linecap="round" fill="none"/><rect x="33.6" y="437.3" width="18.9" height="2.6" fill="#ff0000"/><rect x="50.5" y="437.3" width="32.0" height="2.6" fill="#0000ff"/><rect x="80.5" y="437.3" width="9.0" height="2.6" fill="#ff0000"/><rect x="87.5" y="437.3" width="17.0" height="2.6" fill="#0000ff"/><rect x="102.5" y="437.3" width="26.5" height="2.6" fill="#ff0000"/><rect x="127.0" y="437.3" width="7.5" height="2.6" fill="#0000ff"/><rect x="132.5" y="437.3" width="17.0" height="2.6" fill="#ff0000"/><rect x="147.5" y="437.3" width="18.1" height="2.6" fill="#0000ff"/><rect x="163.6" y="437.3" width="5.9" height="2.6" fill="#ff0000"/><rect x="167.5" y="437.3" width="14.5" height="2.6" fill="#0000ff"/><rect x="180.0" y="437.3" width="10.0" height="2.6" fill="#ff0000"/><rect x="188.0" y="437.3" width="4.7" height="2.6" fill="#0000ff"/><rect x="190.7" y="437.3" width="17.3" height="2.6" fill="#ff0000"/><rect x="206.0" y="437.3" width="23.6" height="2.6" fill="#0000ff"/><rect x="227.6" y="437.3" width="5.0" height="2.6" fill="#ff0000"/><rect x="230.6" y="437.3" width="19.4" height="2.6" fill="#0000ff"/><rect x="248.0" y="437.3" width="24.0" height="2.6" fill="#ff0000"/><rect x="270.0" y="437.3" width="4.0" height="2.6" fill="#0000ff"/><rect x="272.0" y="437.3" width="17.0" height="2.6" fill="#ff0000"/><rect x="287.0" y="437.3" width="19.0" height="2.6" fill="#0000ff"/><rect x="304.0" y="437.3" width="5.4" height="2.6" fill="#ff0000"/><path d="M50.7 302.7h0M50.7 359.6h0M50.7 362.6h0M35.9 364.1h0M50.7 371.7h0M36.0 373.5h0M50.7 383.4h0M50.7 386.3h0M47.0 390.5h0M45.0 394.0h0M40.0 396.0h0M35.0 397.0h0M44.0 393.0h0M82.8 338.1h0M86.3 384.1h0M109.8 370.9h0M123.8 370.2h0M123.8 378.0h0M109.8 388.0h0M112.0 392.0h0M127.0 385.0h0M125.0 388.0h0M206.6 339.9h0M206.7 346.0h0M206.7 347.5h0M206.7 349.0h0M206.7 350.5h0M206.7 352.0h0M206.7 353.5h0M206.7 355.0h0M203.0 380.3h0M206.9 379.3h0M206.7 382.1h0M206.0 392.6h0M198.0 394.0h0M230.5 393.0h0M250.0 280.5h0M265.9 329.9h0M267.7 334.6h0M253.6 353.0h0M259.5 359.0h0M266.5 362.6h0M259.2 368.0h0M266.7 367.6h0M259.2 373.0h0M263.8 371.5h0M266.7 373.6h0M259.5 377.6h0M253.6 382.6h0M259.2 383.0h0M263.0 384.0h0M266.0 380.3h0M266.0 386.0h0M269.7 378.6h0M253.6 386.2h0M261.2 388.0h0M266.0 389.5h0M286.4 322.2h0M285.4 375.8h0M274.9 382.6h0M306.8 373.9h0M306.8 381.7h0M307.9 385.3h0M35.0 432.3h0M35.4 436.4h0M36.7 430.7h0M36.0 412.0h0M36.5 408.5h0M35.4 408.2h0M36.2 403.8h0M35.7 437.1h0M35.2 438.8h0M35.7 405.8h0M34.8 435.0h0M34.8 412.4h0M35.4 420.0h0M34.7 408.0h0M36.5 410.3h0M35.4 407.0h0M34.7 409.0h0M35.5 439.0h0M36.1 434.3h0M35.2 435.4h0M36.6 425.0h0M35.4 434.1h0M34.7 435.9h0M34.8 436.6h0M36.4 413.1h0M34.7 420.0h0M35.7 419.6h0M36.1 403.4h0M34.7 416.3h0M35.8 436.3h0M35.0 400.2h0M35.8 406.5h0M34.8 427.9h0M35.5 401.0h0M35.9 426.9h0M35.0 415.6h0M36.3 410.8h0M36.7 402.8h0M34.6 438.6h0M35.2 434.6h0M34.7 435.4h0M35.3 400.5h0M36.2 402.2h0M36.2 438.3h0M35.0 420.7h0M36.0 438.7h0M36.0 414.4h0M35.5 422.1h0M35.5 420.5h0M35.4 417.6h0M35.8 418.8h0M36.1 423.5h0M35.9 435.4h0M36.0 439.1h0M37.5 418.6h0M37.9 401.9h0M37.1 407.6h0M37.6 431.9h0M37.4 419.2h0M37.1 438.4h0M36.9 415.8h0M38.2 403.9h0M37.8 424.4h0M37.3 420.8h0M37.0 397.4h0M37.2 435.0h0M37.4 401.9h0M36.9 408.3h0M36.7 437.5h0M37.5 438.1h0M36.9 416.9h0M36.9 432.4h0M37.8 435.1h0M36.9 404.5h0M37.0 411.7h0M37.7 414.7h0M38.1 426.5h0M37.3 410.9h0M36.8 409.7h0M37.8 421.6h0M36.8 430.4h0M37.6 418.9h0M36.8 427.5h0M36.8 439.0h0M37.9 438.0h0M37.5 421.6h0M37.5 421.1h0M37.3 406.6h0M37.6 433.7h0M37.0 393.9h0M38.0 436.0h0M38.0 414.8h0M37.0 430.2h0M37.8 434.8h0M38.1 430.9h0M37.7 434.0h0M37.4 416.5h0M37.8 428.4h0M38.2 434.0h0M37.9 436.4h0M38.0 437.4h0M38.2 433.5h0M37.1 433.3h0M38.8 436.7h0M38.8 439.0h0M38.6 428.2h0M38.6 429.3h0M38.6 426.1h0M39.2 417.7h0M39.2 436.2h0M38.9 436.0h0M38.6 424.5h0M38.9 439.1h0M38.4 416.8h0M38.4 428.0h0M39.0 419.2h0M38.8 424.8h0M38.5 431.8h0M39.0 425.6h0M40.0 426.5h0M41.0 437.6h0M40.5 438.8h0M40.1 435.9h0M39.9 422.8h0M39.3 428.8h0M40.7 429.0h0M40.4 417.7h0M40.0 432.4h0M39.6 398.1h0M40.2 431.1h0M40.9 426.4h0M40.1 402.6h0M41.0 438.7h0M39.7 433.4h0M39.6 430.1h0M41.1 429.7h0M40.2 432.4h0M39.5 396.6h0M40.9 408.0h0M40.1 429.1h0M39.6 403.5h0M39.3 412.0h0M40.2 400.4h0M41.0 428.9h0M39.5 431.0h0M41.1 432.8h0M40.7 429.2h0M40.0 402.0h0M40.9 422.9h0M39.8 396.2h0M40.3 403.9h0M40.6 394.1h0M39.4 424.4h0M40.3 421.3h0M40.3 422.5h0M40.8 413.4h0M39.8 436.2h0M40.5 419.5h0M39.5 428.1h0M39.6 398.3h0M39.6 419.6h0M41.1 403.8h0M40.7 438.6h0M40.3 414.7h0M40.7 438.8h0M40.6 433.1h0M40.3 402.4h0M40.4 435.0h0M39.5 439.1h0M40.1 426.2h0M40.0 428.1h0M40.8 438.8h0M39.9 439.0h0M41.6 438.5h0M41.4 420.2h0M41.9 415.4h0M41.4 435.8h0M42.0 435.4h0M41.8 435.6h0M41.9 431.4h0M41.8 434.6h0M41.4 437.2h0M41.3 420.5h0M41.2 422.8h0M41.5 425.4h0M41.7 431.7h0M41.9 438.3h0M41.3 421.6h0M43.1 437.4h0M42.8 417.4h0M42.5 420.6h0M42.3 429.9h0M42.2 415.8h0M42.8 425.9h0M43.2 428.7h0M42.8 409.4h0M43.3 423.7h0M42.3 434.9h0M43.1 411.3h0M42.6 415.3h0M42.9 421.9h0M42.9 418.5h0M43.0 429.5h0M42.8 414.6h0M43.3 432.2h0M42.8 412.8h0M42.3 424.1h0M43.2 433.3h0M42.8 424.0h0M42.2 439.0h0M43.2 416.1h0M42.8 424.0h0M42.5 436.0h0M43.2 420.1h0M43.2 430.0h0M43.2 432.7h0M43.1 411.1h0M42.1 429.3h0M44.5 428.6h0M44.0 437.4h0M43.8 437.8h0M45.0 419.0h0M45.0 438.1h0M44.4 437.0h0M43.7 438.4h0M44.8 417.0h0M44.5 437.1h0M45.1 426.2h0M44.3 437.0h0M45.1 435.5h0M44.9 435.6h0M44.2 438.9h0M44.1 418.6h0M43.4 436.9h0M43.7 426.9h0M44.5 421.1h0M45.0 437.1h0M44.5 422.4h0M43.5 416.5h0M44.0 432.8h0M44.7 428.7h0M44.7 416.8h0M43.6 431.9h0M44.5 437.7h0M44.2 423.9h0M45.2 426.8h0M44.3 433.3h0M43.4 420.9h0M45.4 437.2h0M45.5 430.3h0M45.7 437.1h0M45.9 432.3h0M45.3 406.3h0M46.0 408.8h0M45.6 438.7h0M46.0 408.8h0M45.4 438.4h0M45.8 421.3h0M45.4 403.3h0M45.8 438.6h0M46.2 403.2h0M45.7 432.4h0M46.0 432.9h0M45.8 409.4h0M46.4 431.1h0M46.4 423.7h0M46.0 415.3h0M46.2 421.1h0M45.8 420.0h0M45.9 439.0h0M46.0 421.4h0M45.7 438.1h0M45.3 419.4h0M45.3 415.8h0M45.3 415.3h0M45.5 436.8h0M45.9 409.8h0M48.1 437.3h0M46.5 418.4h0M47.9 428.6h0M47.7 437.4h0M46.8 434.2h0M47.2 428.1h0M47.0 438.4h0M47.8 425.4h0M47.4 430.4h0M47.0 438.8h0M47.6 430.9h0M46.9 427.6h0M47.1 433.7h0M47.2 428.0h0M47.7 426.2h0M47.0 435.8h0M47.7 424.4h0M47.4 433.6h0M46.7 438.8h0M46.7 433.8h0M48.1 437.8h0M46.8 423.6h0M47.9 428.5h0M47.8 416.5h0M47.2 437.2h0M47.1 416.5h0M47.4 437.0h0M46.6 420.6h0M47.1 420.5h0M49.2 424.9h0M49.7 428.7h0M48.3 433.8h0M49.1 426.2h0M49.3 424.5h0M48.8 413.0h0M49.0 429.9h0M49.0 425.6h0M49.4 419.0h0M48.5 437.0h0M49.4 433.5h0M48.8 416.3h0M48.3 431.1h0M48.6 419.7h0M49.7 427.3h0M48.3 426.3h0M48.8 427.9h0M48.7 431.7h0M49.5 432.4h0M48.6 416.3h0M49.5 418.1h0M49.6 423.0h0M49.0 420.0h0M49.2 437.0h0M49.3 439.1h0M49.8 420.3h0M48.8 438.1h0M48.7 436.5h0M49.3 427.4h0M48.5 415.3h0M50.0 437.4h0M50.2 420.6h0M50.1 434.0h0M50.5 428.0h0M50.4 435.1h0M50.6 424.0h0M50.2 438.7h0M50.3 437.4h0M49.9 421.1h0M50.2 427.4h0M50.7 433.5h0M51.3 432.5h0M51.4 430.9h0M51.1 431.8h0M50.6 415.0h0M50.7 417.9h0M51.3 437.2h0M50.6 423.2h0M50.6 407.9h0M51.2 427.9h0M51.2 431.4h0M50.9 416.4h0M51.1 412.7h0M50.9 414.5h0M50.9 436.9h0M50.9 437.0h0M50.7 420.5h0M50.8 405.8h0M51.3 439.0h0M50.8 420.0h0M35.8 438.5h0M34.8 385.7h0M36.5 412.5h0M35.0 425.8h0M36.6 430.4h0M36.5 417.5h0M36.2 386.4h0M35.3 398.5h0M35.8 435.0h0M35.7 432.8h0M37.9 418.0h0M37.8 432.2h0M37.9 422.1h0M38.5 404.0h0M36.7 413.7h0M37.4 408.3h0M38.2 414.5h0M37.3 435.5h0M40.0 404.1h0M38.7 416.7h0M40.0 400.7h0M39.8 401.8h0M39.7 408.6h0M40.0 425.5h0M38.8 438.2h0M39.1 400.2h0M39.6 433.7h0M41.2 431.7h0M41.2 400.8h0M41.0 401.0h0M41.8 414.0h0M41.8 408.7h0M42.0 427.8h0M42.2 428.1h0M43.2 408.9h0M42.4 411.2h0M42.4 408.6h0M42.7 434.5h0M42.0 391.8h0M42.0 394.3h0M43.4 426.4h0M44.2 409.0h0M44.3 415.2h0M43.7 394.0h0M44.1 408.5h0M45.2 416.2h0M45.5 425.8h0M44.9 411.4h0M45.5 421.5h0M45.1 419.4h0M45.6 422.6h0M47.3 420.2h0M47.2 431.4h0M47.9 438.6h0M46.7 415.4h0M46.5 411.1h0M46.8 416.3h0M47.1 432.4h0M48.6 435.3h0M48.8 429.6h0M48.2 414.2h0M49.3 436.7h0M48.0 433.5h0M50.0 394.2h0M49.9 430.1h0M50.0 397.6h0M50.2 406.5h0M49.8 417.4h0M50.9 433.4h0M50.5 428.8h0M51.0 418.3h0M51.4 430.3h0M50.6 414.4h0M51.5 406.0h0M81.5 426.7h0M82.2 438.5h0M81.5 415.1h0M81.5 427.1h0M81.5 439.0h0M81.8 434.2h0M82.2 424.6h0M81.7 436.5h0M82.0 420.2h0M81.9 427.5h0M82.1 420.3h0M81.9 428.8h0M82.1 409.3h0M81.9 415.2h0M81.9 438.5h0M82.0 428.5h0M82.5 425.5h0M83.4 421.6h0M83.8 420.8h0M83.0 436.6h0M83.9 416.6h0M83.9 426.3h0M83.0 437.0h0M83.2 437.2h0M82.3 436.1h0M82.4 429.8h0M82.9 429.8h0M82.8 432.9h0M83.3 428.7h0M84.1 434.4h0M84.1 438.0h0M82.4 432.7h0M83.4 415.4h0M82.8 435.8h0M83.6 433.6h0M82.9 420.8h0M83.6 424.7h0M83.6 436.6h0M82.3 436.2h0M83.1 429.3h0M82.9 418.0h0M83.1 425.2h0M82.5 425.5h0M84.0 439.0h0M84.1 433.6h0M82.8 419.2h0M84.4 403.1h0M85.0 432.8h0M84.2 438.1h0M84.3 438.5h0M84.9 414.1h0M85.2 411.5h0M85.1 436.5h0M84.8 409.8h0M84.6 414.7h0M84.5 427.0h0M84.2 438.1h0M84.5 434.3h0M84.7 439.1h0M85.1 422.6h0M85.1 414.7h0M84.6 439.1h0M84.6 430.1h0M84.8 427.1h0M84.2 402.7h0M84.7 430.9h0M84.6 425.0h0M84.7 434.5h0M84.7 411.3h0M84.6 429.3h0M84.1 415.7h0M84.7 422.5h0M84.5 438.1h0M85.1 426.0h0M84.9 407.2h0M86.2 424.9h0M86.0 419.2h0M86.2 407.8h0M86.3 408.6h0M86.3 424.4h0M87.0 406.7h0M85.6 438.2h0M87.2 436.0h0M86.4 420.9h0M87.3 423.1h0M85.8 431.2h0M86.2 407.3h0M85.8 436.4h0M86.9 412.4h0M86.0 412.4h0M86.8 434.8h0M85.9 412.8h0M87.1 404.2h0M85.7 433.5h0M85.9 420.7h0M86.1 438.4h0M85.6 418.0h0M86.1 438.5h0M86.3 425.3h0M86.4 436.8h0M86.2 438.8h0M86.6 416.0h0M85.6 411.2h0M87.0 430.3h0M86.2 421.5h0M86.4 422.2h0M87.0 417.1h0M86.5 435.8h0M85.4 427.7h0M85.6 433.5h0M85.4 431.9h0M87.3 424.0h0M87.0 430.6h0M87.0 437.8h0M85.8 419.4h0M85.5 409.4h0M86.2 411.3h0M85.9 406.0h0M86.5 433.1h0M88.0 437.1h0M88.2 436.5h0M87.8 419.9h0M88.1 420.0h0M88.0 426.0h0M87.9 424.3h0M87.9 436.6h0M87.7 418.9h0M88.1 439.0h0M87.5 438.0h0M87.4 428.6h0M88.0 436.0h0M87.5 415.9h0M88.3 438.8h0M88.5 433.2h0M88.4 416.3h0M88.4 435.6h0M88.3 409.2h0M88.3 433.5h0M88.4 409.8h0M88.4 438.1h0M105.3 439.1h0M104.1 439.1h0M103.7 433.5h0M104.0 436.7h0M104.8 437.8h0M104.6 423.2h0M104.4 425.8h0M105.0 437.7h0M105.5 419.4h0M105.0 425.0h0M103.9 438.9h0M105.0 425.6h0M104.4 424.6h0M105.4 429.6h0M104.1 413.7h0M103.7 429.9h0M105.4 436.0h0M105.4 423.9h0M104.9 438.7h0M104.1 433.1h0M104.3 433.1h0M104.8 431.8h0M104.3 417.7h0M103.9 432.6h0M104.9 423.8h0M103.8 429.5h0M103.9 435.3h0M104.3 420.6h0M105.1 414.6h0M104.0 437.0h0M103.7 439.1h0M104.3 417.7h0M104.5 418.3h0M105.6 434.6h0M106.4 435.2h0M105.9 439.0h0M106.7 437.5h0M106.4 412.3h0M106.0 430.0h0M106.7 430.0h0M105.7 438.9h0M105.8 430.9h0M106.8 437.0h0M106.9 434.5h0M105.7 431.1h0M105.9 439.1h0M106.5 411.6h0M106.8 433.4h0M105.7 439.0h0M106.7 429.6h0M106.3 434.1h0M106.5 439.0h0M105.8 420.8h0M105.7 415.9h0M105.9 429.4h0M106.9 425.0h0M106.2 422.5h0M106.4 439.0h0M106.1 412.0h0M106.0 420.2h0M106.8 416.1h0M108.8 436.4h0M107.7 435.1h0M108.5 432.2h0M107.6 435.5h0M107.2 439.1h0M108.3 438.8h0M107.9 432.2h0M107.3 437.6h0M107.4 436.9h0M108.5 435.3h0M107.6 432.4h0M108.8 429.4h0M108.7 434.1h0M108.9 434.6h0M108.2 434.3h0M108.8 433.0h0M107.9 433.7h0M109.9 432.6h0M109.8 435.4h0M109.5 409.6h0M109.5 438.4h0M109.9 426.8h0M109.8 414.2h0M109.9 417.4h0M109.0 418.6h0M110.1 436.9h0M109.8 422.5h0M109.9 419.9h0M109.5 434.8h0M109.1 438.0h0M109.8 419.5h0M109.7 429.9h0M109.5 423.1h0M109.7 435.4h0M109.5 409.5h0M109.6 415.1h0M109.9 436.7h0M110.0 437.6h0M109.9 419.3h0M109.3 435.0h0M110.0 420.0h0M111.3 433.9h0M110.3 429.8h0M110.3 425.3h0M110.6 429.2h0M110.3 416.3h0M111.1 432.0h0M110.3 433.6h0M110.9 438.5h0M111.1 432.1h0M110.6 421.1h0M111.3 436.4h0M110.6 427.9h0M111.1 424.5h0M110.5 416.5h0M110.5 428.1h0M110.2 438.1h0M110.4 423.8h0M110.8 426.0h0M110.3 436.2h0M110.1 428.8h0M110.5 426.8h0M110.8 429.9h0M110.1 431.8h0M112.2 435.1h0M111.8 438.6h0M111.6 424.6h0M112.1 436.8h0M112.3 424.0h0M112.5 439.0h0M112.3 429.3h0M112.9 424.8h0M112.3 424.4h0M112.2 432.8h0M111.6 430.4h0M111.6 425.6h0M112.1 429.6h0M111.5 434.2h0M112.6 431.0h0M111.7 435.3h0M113.8 432.0h0M113.9 437.3h0M114.1 413.0h0M112.9 419.8h0M114.3 436.1h0M113.6 431.0h0M113.2 438.6h0M113.1 437.7h0M113.1 423.7h0M113.8 424.3h0M113.2 428.2h0M114.1 430.1h0M113.0 429.3h0M114.2 435.0h0M113.3 421.1h0M114.3 416.5h0M113.8 426.6h0M114.0 435.8h0M113.9 428.0h0M113.0 419.8h0M113.8 434.5h0M113.0 416.4h0M113.0 436.2h0M113.2 438.5h0M113.8 433.8h0M114.3 428.0h0M113.9 419.8h0M115.4 425.8h0M114.5 417.1h0M115.7 434.9h0M114.9 438.5h0M114.7 432.6h0M114.4 433.3h0M115.5 432.1h0M115.4 437.0h0M115.3 432.3h0M115.3 429.8h0M115.6 439.1h0M115.2 439.0h0M114.4 437.8h0M114.9 423.5h0M114.6 433.5h0M114.7 434.3h0M115.1 437.9h0M115.4 427.1h0M114.8 433.0h0M115.3 438.9h0M114.8 438.3h0M117.0 434.9h0M116.2 423.2h0M116.2 438.6h0M117.5 436.9h0M117.3 439.0h0M116.4 438.8h0M116.6 421.2h0M117.0 436.0h0M117.6 436.6h0M116.2 438.8h0M116.6 418.2h0M117.3 422.1h0M116.2 426.2h0M116.2 432.0h0M115.8 433.9h0M116.6 437.3h0M116.3 435.6h0M116.7 437.7h0M117.5 420.2h0M115.9 437.4h0M116.8 436.0h0M116.4 420.2h0M116.3 432.1h0M117.2 438.2h0M115.9 424.9h0M116.3 429.5h0M115.9 420.1h0M117.0 423.0h0M118.7 422.1h0M117.9 416.3h0M118.6 430.8h0M118.1 424.5h0M117.8 425.7h0M117.8 429.7h0M118.4 438.8h0M118.3 421.1h0M118.6 432.1h0M117.9 438.9h0M118.1 439.1h0M118.0 439.0h0M118.8 418.9h0M118.6 424.8h0M118.2 414.9h0M118.3 423.5h0M118.2 437.1h0M118.2 417.7h0M118.4 437.7h0M118.7 433.9h0M118.6 438.9h0M118.8 421.4h0M119.1 418.5h0M118.9 432.8h0M119.7 431.3h0M119.8 437.7h0M119.3 437.7h0M119.1 419.5h0M118.9 408.1h0M119.3 430.6h0M119.5 411.6h0M119.1 427.4h0M119.0 430.0h0M119.2 431.3h0M119.5 433.6h0M119.8 428.0h0M119.4 421.7h0M119.0 428.8h0M119.3 431.1h0M119.6 418.0h0M119.2 433.3h0M119.1 431.1h0M120.8 426.2h0M120.1 425.5h0M120.7 425.5h0M120.1 432.2h0M120.6 436.2h0M120.2 434.1h0M120.8 413.5h0M120.1 417.3h0M121.0 427.8h0M120.2 438.1h0M120.5 413.9h0M120.3 434.5h0M120.9 430.4h0M120.4 425.6h0M120.6 428.1h0M120.5 427.0h0M120.4 425.5h0M120.8 427.2h0M120.2 428.6h0M120.8 415.4h0M121.4 435.5h0M121.6 423.8h0M121.4 433.6h0M121.0 431.8h0M121.0 435.6h0M121.1 437.2h0M121.3 428.2h0M121.3 437.2h0M121.6 439.0h0M122.1 435.4h0M121.8 436.3h0M122.4 428.2h0M122.0 427.1h0M122.5 431.0h0M122.0 426.7h0M121.8 422.1h0M121.8 434.9h0M121.9 434.2h0M121.9 429.5h0M121.9 432.2h0M122.7 414.5h0M123.6 431.4h0M122.9 420.9h0M124.1 419.0h0M123.2 422.5h0M122.8 439.0h0M123.9 424.6h0M122.8 431.6h0M122.6 439.1h0M122.7 426.4h0M123.7 437.0h0M122.7 420.1h0M123.0 419.8h0M123.8 435.1h0M123.4 431.1h0M122.8 433.5h0M123.1 436.5h0M122.9 430.8h0M122.7 418.8h0M123.7 418.5h0M122.6 426.9h0M123.7 414.5h0M124.0 433.1h0M123.8 436.5h0M123.8 438.1h0M122.8 438.8h0M124.0 437.0h0M123.4 438.3h0M123.5 412.2h0M123.9 419.4h0M123.7 418.3h0M124.0 437.8h0M122.7 438.5h0M123.6 428.9h0M123.5 421.6h0M122.5 433.9h0M124.8 430.3h0M124.8 427.1h0M124.7 433.2h0M125.1 418.6h0M125.1 425.7h0M124.4 425.7h0M124.9 430.8h0M124.7 419.4h0M125.0 432.7h0M124.9 437.2h0M125.0 415.2h0M124.8 408.2h0M124.5 427.6h0M124.7 411.4h0M125.0 423.6h0M124.7 438.8h0M124.9 420.9h0M126.3 426.7h0M125.9 439.1h0M125.3 421.8h0M125.8 434.8h0M125.2 435.2h0M125.4 427.8h0M125.9 437.8h0M125.9 438.7h0M126.2 424.9h0M125.7 434.3h0M125.9 432.3h0M125.4 436.7h0M126.1 435.1h0M125.7 433.0h0M126.0 424.5h0M125.9 421.9h0M126.4 422.1h0M127.6 415.4h0M127.6 417.4h0M127.2 438.7h0M126.9 438.8h0M127.1 436.6h0M127.2 414.4h0M126.8 423.3h0M127.6 415.4h0M127.1 415.0h0M126.6 436.2h0M126.4 416.6h0M127.4 419.2h0M127.1 425.7h0M127.6 433.3h0M126.7 414.6h0M126.7 417.5h0M127.6 436.2h0M126.6 410.9h0M127.4 438.1h0M126.9 439.0h0M126.6 436.0h0M126.9 438.5h0M126.8 439.0h0M127.2 413.5h0M127.3 413.9h0M126.5 436.2h0M127.9 438.2h0M127.7 438.9h0M127.8 439.0h0M103.9 423.3h0M103.9 427.2h0M105.4 418.7h0M103.9 411.5h0M103.6 432.9h0M104.7 400.6h0M105.6 434.8h0M105.4 431.9h0M106.2 430.1h0M105.8 426.3h0M106.1 427.2h0M107.3 428.2h0M107.8 423.7h0M107.6 423.0h0M108.6 406.2h0M108.2 421.0h0M108.3 415.9h0M108.5 407.5h0M109.3 409.6h0M109.2 410.9h0M109.5 407.1h0M109.0 409.6h0M109.9 420.0h0M110.1 417.2h0M110.5 418.7h0M111.1 414.9h0M110.8 415.4h0M110.1 418.0h0M111.3 432.5h0M110.3 435.1h0M112.1 424.1h0M112.2 422.7h0M112.4 401.7h0M112.2 394.2h0M112.9 399.2h0M111.9 407.9h0M113.2 434.7h0M113.4 434.4h0M113.9 425.0h0M114.0 429.1h0M114.7 418.0h0M115.3 408.5h0M115.8 430.6h0M115.4 414.6h0M115.3 437.5h0M115.2 391.4h0M114.4 406.8h0M114.8 427.2h0M117.9 430.1h0M116.7 423.0h0M117.6 412.0h0M117.5 437.2h0M118.1 437.1h0M117.2 429.7h0M118.7 410.1h0M118.6 421.6h0M118.5 413.8h0M119.2 419.2h0M120.2 432.7h0M121.1 428.4h0M119.4 438.5h0M120.1 410.7h0M119.6 412.0h0M119.5 408.0h0M123.1 434.1h0M121.7 409.0h0M122.2 414.7h0M121.7 407.7h0M121.6 433.8h0M123.0 416.5h0M124.1 401.0h0M124.4 415.7h0M123.6 394.3h0M124.2 427.1h0M123.6 409.3h0M124.7 429.9h0M124.1 422.1h0M123.6 396.1h0M125.2 428.3h0M125.4 412.0h0M125.9 396.0h0M125.9 424.3h0M126.3 424.9h0M126.2 412.0h0M125.8 401.2h0M125.2 396.1h0M127.0 397.2h0M126.8 426.7h0M126.6 430.6h0M126.7 416.2h0M127.4 415.4h0M127.7 429.1h0M127.7 403.0h0M127.9 437.2h0M135.3 427.8h0M134.8 439.1h0M134.6 431.4h0M133.9 426.6h0M134.6 438.3h0M134.8 424.8h0M135.2 427.2h0M134.3 437.7h0M135.0 432.5h0M133.7 425.2h0M134.4 415.8h0M134.3 424.0h0M134.5 438.3h0M134.6 429.6h0M134.8 438.0h0M133.9 432.9h0M134.3 427.9h0M133.9 433.5h0M134.3 438.7h0M135.2 431.3h0M134.0 437.2h0M134.1 436.1h0M133.7 438.5h0M133.8 419.7h0M134.2 417.2h0M134.8 422.3h0M133.8 438.7h0M134.2 417.9h0M134.9 429.4h0M137.0 432.9h0M135.8 436.5h0M136.0 434.3h0M136.2 427.3h0M136.9 426.7h0M135.6 437.1h0M135.9 430.9h0M136.0 439.0h0M136.0 431.8h0M136.9 435.0h0M136.2 427.3h0M135.5 439.1h0M135.5 439.0h0M136.5 437.3h0M136.8 437.5h0M137.2 428.9h0M136.6 426.6h0M137.4 439.0h0M135.7 436.2h0M136.3 438.7h0M137.5 424.0h0M138.9 438.9h0M138.4 419.9h0M137.8 425.7h0M137.5 425.1h0M138.4 432.6h0M138.6 439.1h0M138.4 438.8h0M138.5 435.4h0M138.1 436.5h0M138.4 425.4h0M138.7 432.3h0M137.5 436.5h0M138.1 433.2h0M137.6 423.0h0M138.5 421.5h0M138.4 424.5h0M138.9 421.7h0M138.9 419.3h0M137.6 437.1h0M137.5 424.5h0M137.7 428.4h0M139.6 431.5h0M139.1 424.5h0M139.1 438.9h0M139.5 429.4h0M139.5 421.5h0M139.2 437.9h0M139.0 436.9h0M139.2 437.6h0M139.0 438.9h0M139.4 423.7h0M139.9 429.7h0M140.1 439.1h0M139.9 428.8h0M140.0 425.8h0M140.0 430.2h0M140.3 437.4h0M139.9 439.1h0M140.4 416.4h0M139.9 431.9h0M140.2 438.0h0M140.4 438.6h0M139.9 432.6h0M141.9 435.3h0M141.6 427.7h0M141.7 426.9h0M141.8 439.1h0M141.7 415.4h0M141.2 439.0h0M141.1 423.8h0M141.1 431.8h0M141.6 437.7h0M141.3 434.6h0M141.9 433.6h0M142.2 438.4h0M141.4 437.3h0M141.8 414.0h0M142.2 439.1h0M141.5 422.2h0M140.7 418.9h0M141.8 424.0h0M141.6 439.0h0M141.1 426.9h0M142.2 433.6h0M142.1 437.7h0M141.6 434.6h0M141.9 422.3h0M140.7 416.7h0M142.1 427.1h0M140.7 419.4h0M141.5 427.4h0M142.0 420.3h0M143.2 436.9h0M142.8 438.9h0M142.3 423.6h0M142.6 437.8h0M143.5 423.6h0M143.7 430.5h0M143.9 423.6h0M142.8 438.3h0M143.8 438.3h0M142.8 435.9h0M142.8 432.5h0M144.1 438.5h0M143.7 424.5h0M144.1 438.8h0M142.6 435.7h0M143.3 439.0h0M144.0 429.8h0M142.6 436.8h0M142.6 432.2h0M143.4 439.0h0M144.1 435.3h0M144.2 419.1h0M144.5 437.4h0M144.6 415.1h0M144.8 417.4h0M144.3 426.2h0M145.0 435.4h0M144.9 436.4h0M145.2 437.1h0M145.2 438.2h0M144.5 425.4h0M144.4 435.8h0M144.5 425.8h0M144.8 432.1h0M144.5 433.4h0M144.5 435.5h0M144.5 434.9h0M144.3 416.0h0M144.8 425.9h0M144.4 417.8h0M144.9 437.4h0M145.6 438.0h0M145.8 439.1h0M145.7 427.4h0M145.6 435.7h0M145.9 437.5h0M145.9 428.5h0M146.0 433.8h0M145.7 429.4h0M145.5 424.9h0M145.5 419.4h0M145.4 431.0h0M147.0 438.1h0M147.0 436.9h0M146.5 436.6h0M146.3 422.4h0M146.9 438.7h0M146.4 438.4h0M146.8 433.3h0M146.1 419.0h0M147.0 424.1h0M146.5 433.6h0M146.5 430.5h0M146.5 424.9h0M146.9 433.8h0M146.6 420.5h0M146.2 432.9h0M146.2 420.5h0M146.3 416.9h0M146.2 437.6h0M147.2 435.2h0M147.4 434.3h0M147.7 438.6h0M147.9 435.8h0M147.4 437.9h0M148.1 438.5h0M147.5 439.0h0M147.4 437.6h0M147.0 430.1h0M147.6 436.6h0M147.0 438.5h0M148.0 439.1h0M148.0 438.0h0M148.3 426.5h0M148.4 430.8h0M148.3 434.8h0M134.2 413.5h0M134.7 437.2h0M133.6 429.2h0M133.9 436.1h0M133.7 434.6h0M134.4 434.4h0M135.6 423.3h0M135.3 395.9h0M135.8 434.5h0M136.1 403.8h0M136.5 421.2h0M136.1 438.1h0M135.6 406.9h0M136.6 412.6h0M136.7 432.2h0M138.0 436.5h0M136.8 429.8h0M137.6 401.7h0M138.1 435.8h0M138.9 437.4h0M139.0 416.6h0M139.6 399.8h0M139.3 402.8h0M138.3 433.7h0M138.5 432.3h0M139.8 425.6h0M139.2 410.8h0M140.7 423.2h0M141.0 404.1h0M140.2 436.2h0M140.1 417.0h0M141.4 421.1h0M141.4 436.6h0M142.9 422.7h0M142.2 416.4h0M142.1 415.1h0M142.7 424.9h0M143.2 403.2h0M144.5 435.3h0M143.5 401.1h0M143.1 417.0h0M143.1 424.2h0M143.9 405.1h0M144.2 421.8h0M145.4 426.4h0M145.9 411.5h0M145.8 404.2h0M145.9 403.0h0M145.2 400.9h0M146.3 426.8h0M146.7 421.6h0M147.0 404.5h0M147.1 400.2h0M146.6 398.7h0M146.5 395.3h0M147.4 388.3h0M147.6 437.5h0M147.8 411.3h0M148.2 434.1h0M147.7 409.1h0M147.6 398.8h0M165.8 430.6h0M164.7 438.5h0M164.8 423.6h0M165.3 437.4h0M164.7 431.2h0M165.2 431.7h0M165.2 435.1h0M165.5 418.3h0M165.5 435.9h0M165.4 417.4h0M164.8 425.7h0M165.3 434.1h0M165.0 431.9h0M165.3 438.3h0M165.7 414.5h0M165.4 424.7h0M166.1 427.6h0M165.4 418.0h0M164.7 419.2h0M165.0 434.5h0M165.0 417.3h0M164.7 419.2h0M165.9 435.7h0M165.8 438.9h0M164.7 420.9h0M165.2 435.8h0M165.7 436.5h0M166.4 418.0h0M166.7 414.0h0M166.2 429.4h0M166.8 432.0h0M166.5 438.9h0M166.8 435.1h0M166.5 435.1h0M166.7 420.0h0M166.5 420.8h0M166.7 437.5h0M166.4 432.1h0M166.6 435.9h0M166.4 433.1h0M166.4 430.3h0M166.5 419.5h0M166.9 438.8h0M167.1 436.5h0M167.6 436.2h0M167.3 436.3h0M167.5 422.2h0M168.4 436.4h0M168.1 425.2h0M168.0 439.0h0M167.3 438.1h0M167.4 419.5h0M168.2 432.7h0M168.1 436.3h0M168.0 436.3h0M168.4 426.7h0M167.9 419.3h0M168.3 438.9h0M167.5 426.6h0M167.5 435.3h0M167.1 439.0h0M167.7 439.1h0M165.6 436.1h0M164.7 422.3h0M165.0 438.5h0M165.4 435.5h0M165.3 420.5h0M166.6 423.2h0M166.1 427.3h0M166.1 408.5h0M166.4 416.8h0M167.0 436.6h0M167.9 404.3h0M167.7 405.2h0M167.7 431.6h0M168.4 422.6h0M168.0 421.7h0M168.4 415.8h0M181.1 439.1h0M182.0 435.5h0M181.1 428.5h0M182.3 435.9h0M182.5 438.7h0M181.7 438.1h0M182.0 438.5h0M182.1 432.6h0M181.3 438.8h0M181.6 439.1h0M182.1 435.1h0M183.5 432.4h0M182.9 439.1h0M183.2 439.0h0M183.4 439.0h0M182.7 439.0h0M183.3 427.7h0M183.3 438.7h0M183.1 436.6h0M185.5 428.7h0M184.8 436.2h0M185.0 439.0h0M185.0 437.5h0M185.5 429.8h0M185.1 437.4h0M185.5 432.9h0M185.1 438.5h0M184.3 434.9h0M184.3 433.8h0M184.1 424.0h0M184.0 438.2h0M184.7 439.0h0M184.1 436.8h0M185.8 437.4h0M186.8 426.3h0M186.1 420.0h0M186.1 421.5h0M186.0 430.0h0M187.3 439.1h0M186.8 424.1h0M185.9 429.5h0M187.1 414.1h0M186.5 439.0h0M186.0 430.6h0M187.1 425.0h0M187.0 438.4h0M186.7 427.3h0M185.8 427.6h0M186.8 434.1h0M185.7 436.2h0M187.0 435.4h0M186.3 428.7h0M186.5 430.4h0M186.1 432.1h0M185.7 436.5h0M187.1 438.6h0M186.8 415.3h0M188.6 437.3h0M188.2 438.6h0M188.8 429.1h0M188.5 439.0h0M188.4 425.2h0M188.0 438.5h0M188.4 437.9h0M188.4 431.6h0M188.5 437.6h0M188.2 432.3h0M188.9 428.1h0M192.2 435.0h0M192.9 435.5h0M191.9 435.2h0M192.4 427.6h0M192.4 438.7h0M192.5 437.4h0M192.9 428.9h0M192.4 438.3h0M192.2 436.4h0M192.8 439.0h0M192.2 427.2h0M193.7 420.0h0M193.9 427.1h0M193.6 420.0h0M193.5 433.1h0M193.6 429.9h0M193.4 412.5h0M193.3 437.5h0M194.0 409.0h0M193.6 437.9h0M193.0 413.1h0M193.5 433.5h0M193.3 432.5h0M193.0 425.4h0M193.0 424.7h0M193.9 419.9h0M193.3 427.7h0M193.2 438.6h0M193.1 424.9h0M193.3 413.3h0M193.8 439.0h0M194.0 435.6h0M194.6 430.5h0M194.5 434.2h0M194.5 419.6h0M194.4 427.1h0M194.2 439.0h0M194.5 432.8h0M194.4 434.2h0M194.1 420.9h0M194.3 435.7h0M194.0 429.7h0M194.6 438.8h0M196.2 421.3h0M195.4 409.4h0M194.7 421.4h0M195.4 416.3h0M195.6 424.0h0M195.5 438.2h0M195.4 411.4h0M195.1 422.4h0M195.0 413.4h0M195.9 439.0h0M194.8 434.0h0M196.1 419.6h0M196.4 422.4h0M196.1 434.2h0M195.3 433.2h0M194.9 427.1h0M195.9 427.8h0M195.6 428.0h0M196.0 436.2h0M195.2 415.2h0M194.9 439.0h0M196.4 430.1h0M194.9 437.0h0M194.9 434.6h0M195.2 410.2h0M195.8 422.6h0M195.5 438.2h0M194.7 439.1h0M195.0 432.5h0M195.3 430.4h0M195.3 421.9h0M195.1 412.7h0M195.9 409.9h0M195.8 422.9h0M195.7 416.5h0M196.7 414.5h0M197.1 428.6h0M197.0 438.3h0M196.8 421.2h0M197.0 439.1h0M197.0 434.3h0M196.9 424.8h0M197.2 423.2h0M197.7 416.1h0M196.8 434.2h0M197.4 431.3h0M197.0 428.0h0M197.3 426.1h0M197.4 420.7h0M197.2 412.5h0M197.1 431.4h0M196.6 429.0h0M196.8 414.2h0M196.6 422.5h0M196.9 438.4h0M197.3 439.0h0M197.7 418.8h0M197.0 414.5h0M197.4 439.1h0M197.1 414.2h0M197.0 415.7h0M198.5 439.0h0M198.0 418.1h0M198.0 438.3h0M198.4 438.8h0M197.8 435.5h0M198.4 436.8h0M198.1 435.0h0M198.5 417.8h0M197.8 430.0h0M198.1 420.3h0M198.3 427.1h0M198.6 414.4h0M199.0 434.2h0M198.9 415.6h0M198.8 439.1h0M199.2 430.3h0M198.6 436.5h0M199.6 409.1h0M198.7 417.2h0M199.5 436.0h0M199.5 426.6h0M198.7 439.1h0M199.4 437.2h0M198.6 411.8h0M199.4 423.6h0M198.5 438.2h0M199.1 414.8h0M199.1 417.1h0M199.1 420.1h0M199.5 418.4h0M199.2 424.5h0M198.9 427.6h0M201.0 439.1h0M199.8 431.9h0M199.7 430.5h0M200.6 408.6h0M201.2 435.8h0M201.0 435.5h0M201.2 431.4h0M199.7 403.6h0M201.3 428.0h0M200.8 433.6h0M200.8 435.8h0M199.7 437.2h0M200.4 439.1h0M200.1 433.3h0M199.6 430.0h0M199.7 438.7h0M199.8 433.9h0M201.4 431.7h0M200.5 438.0h0M200.4 415.2h0M200.6 438.6h0M201.5 438.7h0M201.2 426.2h0M201.1 424.0h0M200.5 439.0h0M201.1 412.6h0M201.3 438.0h0M200.0 436.2h0M199.6 435.3h0M200.6 427.2h0M199.9 438.8h0M201.4 417.2h0M199.6 437.8h0M199.9 424.8h0M199.7 437.7h0M201.1 435.6h0M200.8 420.9h0M201.2 435.0h0M199.7 415.4h0M200.4 413.6h0M201.1 426.4h0M200.5 410.3h0M200.9 415.1h0M201.3 438.9h0M202.2 438.4h0M201.9 439.1h0M202.8 406.4h0M201.9 437.5h0M202.7 413.0h0M202.0 426.0h0M202.7 422.7h0M202.7 406.2h0M202.0 429.6h0M202.3 438.9h0M202.8 438.0h0M202.0 425.3h0M202.8 426.0h0M202.8 426.3h0M201.8 418.1h0M201.9 423.3h0M201.7 427.8h0M201.8 433.6h0M202.1 425.8h0M202.4 430.6h0M201.7 409.1h0M202.7 423.7h0M201.7 438.9h0M202.4 427.8h0M202.7 406.1h0M201.8 434.2h0M202.5 434.8h0M202.9 432.6h0M201.6 414.7h0M202.2 437.6h0M204.0 427.2h0M204.5 431.0h0M204.3 410.3h0M203.2 429.1h0M203.6 421.9h0M203.4 437.8h0M203.6 438.5h0M203.2 434.4h0M204.3 439.1h0M203.4 419.0h0M203.9 436.0h0M204.6 434.6h0M204.1 438.3h0M204.0 416.9h0M203.6 433.5h0M204.3 427.4h0M203.9 433.9h0M203.8 429.1h0M203.9 428.2h0M203.4 428.0h0M204.1 412.6h0M203.6 437.9h0M203.3 432.0h0M203.4 436.2h0M203.6 438.3h0M203.6 439.1h0M204.2 436.5h0M203.9 422.0h0M204.2 438.5h0M204.3 431.9h0M204.7 437.5h0M204.6 433.0h0M204.0 433.4h0M203.1 414.9h0M204.6 439.1h0M203.0 438.7h0M203.4 434.3h0M205.0 437.3h0M205.8 439.1h0M205.6 437.6h0M206.3 438.7h0M206.2 430.3h0M204.8 435.6h0M206.0 409.4h0M204.8 410.3h0M204.9 433.2h0M205.5 425.5h0M205.9 419.2h0M204.9 436.9h0M204.8 438.2h0M206.0 438.1h0M206.6 439.0h0M206.4 413.3h0M206.1 428.8h0M204.9 420.2h0M206.2 438.3h0M206.5 438.4h0M205.1 429.0h0M206.1 438.3h0M205.4 432.6h0M206.3 438.5h0M204.9 437.6h0M205.0 434.8h0M204.9 437.5h0M206.4 435.8h0M206.5 417.8h0M204.8 426.3h0M205.5 439.0h0M205.9 428.6h0M205.9 424.7h0M206.0 424.8h0M206.7 439.1h0M206.0 436.1h0M206.0 437.1h0M205.8 438.9h0M206.2 435.1h0M206.8 435.7h0M206.8 439.0h0M206.8 437.1h0M192.5 398.6h0M192.5 431.0h0M192.3 431.5h0M192.1 389.5h0M192.1 394.9h0M192.7 406.5h0M192.2 431.6h0M194.5 404.6h0M193.3 415.9h0M193.7 389.4h0M194.0 387.1h0M194.3 424.7h0M194.6 400.6h0M193.3 403.3h0M194.5 393.5h0M194.4 386.6h0M194.9 409.5h0M194.9 435.8h0M195.1 412.3h0M196.0 428.1h0M195.6 427.4h0M195.5 414.5h0M196.4 414.2h0M196.3 413.9h0M196.9 436.2h0M197.9 390.9h0M197.5 409.3h0M197.8 411.9h0M197.5 429.5h0M197.2 426.2h0M196.9 437.0h0M198.0 428.3h0M198.5 421.4h0M198.5 414.6h0M199.5 406.8h0M199.2 426.3h0M199.3 413.9h0M199.7 412.8h0M199.9 413.9h0M200.3 393.4h0M200.4 418.5h0M200.6 387.5h0M200.5 412.8h0M200.3 434.8h0M200.2 406.6h0M201.3 409.8h0M200.9 438.9h0M202.5 407.8h0M201.2 420.3h0M202.1 401.8h0M202.0 416.4h0M201.8 433.5h0M202.8 433.1h0M202.9 426.7h0M203.8 390.4h0M203.5 407.7h0M203.6 433.0h0M203.9 394.5h0M204.2 415.0h0M204.4 403.1h0M206.0 398.0h0M205.0 433.2h0M204.0 414.0h0M204.2 402.4h0M204.9 412.4h0M204.5 416.4h0M204.9 429.9h0M206.1 408.4h0M206.4 431.4h0M206.6 406.7h0M229.0 438.1h0M229.6 405.7h0M230.4 426.3h0M229.4 437.4h0M229.7 435.6h0M228.8 426.9h0M228.9 437.7h0M229.3 418.6h0M229.3 439.0h0M229.0 422.2h0M230.3 419.4h0M229.0 432.8h0M230.0 396.5h0M230.4 415.4h0M229.8 437.6h0M229.3 433.9h0M229.3 419.8h0M230.4 437.1h0M229.9 431.1h0M229.5 438.5h0M229.2 416.1h0M228.6 398.3h0M229.6 422.5h0M229.8 396.8h0M229.3 399.0h0M229.4 430.7h0M229.8 438.8h0M229.9 414.3h0M228.8 398.9h0M229.0 427.9h0M229.6 435.6h0M229.2 437.6h0M229.9 400.6h0M229.6 422.2h0M229.9 414.4h0M229.8 428.1h0M230.4 413.2h0M230.4 431.4h0M229.0 402.6h0M229.1 437.5h0M230.1 416.5h0M230.2 399.7h0M230.4 436.0h0M228.7 419.6h0M229.8 438.2h0M230.4 438.7h0M230.1 436.7h0M230.1 426.6h0M230.3 401.3h0M231.3 428.1h0M230.7 400.5h0M231.3 439.1h0M231.6 403.4h0M231.4 438.0h0M231.4 404.1h0M230.6 407.0h0M231.2 430.8h0M231.5 439.1h0M231.1 411.8h0M231.3 427.5h0M231.2 431.6h0M230.5 407.2h0M230.8 435.0h0M230.7 416.9h0M230.6 432.0h0M231.2 416.3h0M231.4 422.6h0M230.5 432.7h0M231.1 438.8h0M231.5 434.9h0M231.4 438.5h0M231.5 429.7h0M230.5 428.1h0M230.8 403.0h0M231.4 438.8h0M231.2 423.7h0M230.6 401.5h0M249.3 439.1h0M249.6 439.1h0M250.9 436.5h0M250.4 436.4h0M249.9 438.5h0M250.3 431.4h0M250.3 438.4h0M250.2 437.7h0M250.6 426.0h0M250.1 434.0h0M249.9 439.1h0M249.0 439.1h0M249.8 435.9h0M250.5 438.6h0M250.2 422.7h0M250.6 439.1h0M250.4 438.9h0M249.6 417.6h0M249.8 438.9h0M249.8 432.4h0M249.4 438.9h0M249.7 434.8h0M250.9 437.9h0M250.3 420.5h0M251.4 439.0h0M251.4 439.1h0M251.2 430.6h0M252.1 427.9h0M252.1 435.7h0M251.3 437.3h0M252.4 436.2h0M251.5 437.7h0M252.2 420.1h0M251.1 434.4h0M251.0 432.6h0M252.1 435.8h0M252.5 439.1h0M251.1 439.1h0M252.5 439.1h0M251.0 438.7h0M251.6 439.1h0M252.3 420.6h0M252.8 429.5h0M252.9 432.8h0M253.3 428.1h0M252.8 438.9h0M252.7 439.1h0M253.7 438.4h0M253.8 421.9h0M254.2 439.1h0M254.0 436.0h0M253.7 439.1h0M254.2 438.1h0M254.8 438.5h0M254.4 439.0h0M254.7 436.4h0M254.7 420.3h0M255.4 438.2h0M255.4 439.0h0M254.7 439.1h0M254.4 434.8h0M254.6 437.9h0M254.8 438.7h0M254.7 433.4h0M254.4 435.3h0M255.7 438.5h0M256.3 426.6h0M255.8 438.8h0M256.7 419.5h0M255.8 437.0h0M256.1 430.9h0M255.8 433.7h0M256.1 439.0h0M255.9 432.2h0M257.0 436.7h0M256.7 438.0h0M255.6 425.7h0M256.9 432.5h0M255.5 439.0h0M256.1 436.2h0M258.0 438.9h0M258.1 437.5h0M257.7 434.1h0M257.1 439.0h0M257.7 437.3h0M257.4 435.6h0M258.5 434.0h0M258.7 438.6h0M257.4 439.1h0M258.7 426.4h0M257.0 433.3h0M258.4 434.1h0M257.6 426.6h0M258.1 438.9h0M257.9 418.5h0M257.3 432.6h0M257.5 435.8h0M258.3 437.5h0M257.1 424.8h0M257.4 423.9h0M258.4 435.4h0M258.6 438.7h0M259.2 439.0h0M257.6 434.4h0M258.9 435.2h0M257.9 415.3h0M259.7 438.5h0M259.7 435.9h0M260.6 432.2h0M260.1 439.1h0M259.5 434.2h0M259.4 438.5h0M260.1 438.9h0M259.8 438.4h0M260.8 439.1h0M261.2 438.4h0M260.7 429.1h0M259.5 438.3h0M260.2 428.4h0M260.5 439.1h0M259.4 439.0h0M260.2 438.7h0M260.4 437.3h0M260.0 420.0h0M259.7 432.8h0M260.9 433.1h0M261.0 430.1h0M261.1 428.9h0M259.9 439.1h0M259.3 436.7h0M260.1 438.0h0M261.8 438.6h0M261.4 439.1h0M262.0 433.6h0M261.5 438.5h0M261.9 438.8h0M261.9 439.1h0M261.4 425.7h0M261.8 436.9h0M261.3 439.0h0M261.5 439.1h0M262.1 434.7h0M261.6 420.8h0M261.8 433.9h0M261.5 437.5h0M261.9 439.0h0M263.5 438.7h0M263.2 436.5h0M262.3 439.1h0M263.6 439.1h0M263.3 439.0h0M262.7 439.1h0M263.1 438.9h0M262.3 437.5h0M262.7 431.6h0M262.9 438.0h0M263.8 439.1h0M263.8 439.1h0M264.4 438.1h0M266.0 433.4h0M264.7 434.9h0M265.0 410.2h0M265.7 438.6h0M264.5 420.6h0M264.9 439.1h0M265.0 436.9h0M265.1 435.3h0M266.5 423.5h0M265.2 426.1h0M266.2 438.5h0M266.3 439.1h0M266.0 413.4h0M265.4 438.1h0M266.1 427.0h0M265.0 419.6h0M264.5 417.2h0M266.3 439.1h0M266.4 438.5h0M264.8 439.1h0M265.5 435.1h0M265.2 438.6h0M265.8 439.1h0M264.9 437.2h0M265.9 438.9h0M266.4 427.6h0M266.0 438.4h0M264.6 432.1h0M265.4 436.3h0M264.9 420.8h0M266.6 435.9h0M267.2 431.4h0M268.7 436.9h0M266.6 439.1h0M268.6 434.7h0M266.7 428.0h0M268.6 435.0h0M267.5 439.1h0M268.3 435.9h0M267.7 423.2h0M267.1 427.3h0M268.3 412.5h0M268.3 439.1h0M267.0 426.0h0M267.2 420.3h0M267.5 423.4h0M267.8 436.8h0M267.5 439.1h0M267.5 436.0h0M268.3 418.6h0M268.2 436.5h0M268.4 435.7h0M266.8 439.0h0M266.8 418.8h0M267.5 439.1h0M266.7 420.3h0M267.8 427.9h0M269.7 439.0h0M268.7 438.6h0M268.9 439.0h0M269.4 437.2h0M269.5 421.0h0M269.8 434.6h0M269.1 436.6h0M268.9 439.1h0M269.3 436.5h0M268.8 438.8h0M269.7 439.1h0M269.4 438.9h0M270.3 439.1h0M270.0 424.4h0M270.1 439.1h0M270.6 410.6h0M270.0 425.9h0M270.5 415.5h0M270.7 413.8h0M270.7 439.1h0M270.0 405.6h0M270.3 412.6h0M270.5 412.1h0M270.5 430.4h0M270.2 438.5h0M270.9 438.9h0M249.0 426.3h0M249.8 428.2h0M250.4 437.3h0M249.1 400.3h0M249.1 411.7h0M249.7 399.1h0M249.8 399.0h0M250.1 402.4h0M249.7 403.7h0M251.7 432.0h0M252.1 437.3h0M251.5 424.0h0M251.1 408.5h0M251.3 400.5h0M253.4 417.4h0M252.4 438.2h0M253.1 410.4h0M253.5 406.5h0M253.0 423.9h0M253.1 418.1h0M255.3 432.2h0M254.5 438.9h0M255.3 426.2h0M254.0 399.1h0M255.3 414.8h0M254.4 407.7h0M254.1 426.5h0M254.8 432.3h0M255.4 435.6h0M256.1 422.4h0M255.7 401.1h0M255.8 404.8h0M256.8 429.0h0M257.3 435.1h0M257.7 431.7h0M256.3 427.2h0M256.4 420.2h0M256.1 435.7h0M258.1 430.8h0M258.6 427.1h0M258.6 403.9h0M258.7 402.0h0M258.9 432.3h0M258.8 438.5h0M259.1 402.6h0M259.8 420.1h0M259.7 438.4h0M259.6 406.4h0M261.4 415.9h0M260.9 402.2h0M261.3 428.7h0M261.0 416.1h0M260.5 407.1h0M260.3 405.8h0M260.9 414.3h0M262.2 415.7h0M262.2 427.9h0M261.8 406.5h0M262.6 435.1h0M262.9 400.0h0M264.3 404.5h0M263.5 437.1h0M264.1 413.1h0M264.3 437.4h0M263.9 411.5h0M265.0 430.5h0M264.8 402.3h0M264.7 421.2h0M264.9 432.1h0M265.5 404.4h0M265.7 384.6h0M265.8 408.1h0M265.8 423.4h0M267.5 391.5h0M267.0 408.8h0M267.0 428.6h0M267.1 424.4h0M267.4 426.6h0M267.1 415.8h0M267.2 404.6h0M266.2 428.5h0M267.0 397.4h0M267.3 410.6h0M268.6 407.6h0M268.3 417.0h0M268.0 433.5h0M268.3 431.9h0M269.9 408.6h0M269.3 425.6h0M269.6 407.5h0M269.6 424.4h0M270.0 404.0h0M269.1 423.5h0M270.8 434.9h0M270.5 408.9h0M270.7 406.5h0M270.6 412.6h0M270.5 420.9h0M273.7 427.5h0M273.7 424.7h0M273.2 434.9h0M273.4 436.5h0M273.8 427.1h0M273.1 438.0h0M273.6 436.8h0M273.8 422.0h0M273.6 428.8h0M273.2 421.5h0M273.4 422.5h0M273.3 438.8h0M273.7 439.1h0M273.9 435.3h0M274.7 423.8h0M274.4 436.1h0M274.0 429.0h0M274.4 431.1h0M274.3 435.1h0M275.1 425.1h0M275.2 438.8h0M274.6 438.4h0M274.9 439.1h0M274.9 438.0h0M274.0 438.7h0M274.0 439.0h0M274.2 426.0h0M276.0 437.5h0M275.4 431.2h0M275.6 429.0h0M275.9 418.5h0M275.9 423.2h0M275.5 433.9h0M275.4 432.9h0M275.7 433.6h0M275.9 438.6h0M276.1 425.2h0M276.0 426.8h0M275.5 438.9h0M275.4 415.1h0M275.9 438.0h0M275.5 431.3h0M276.3 436.1h0M276.2 429.7h0M277.1 431.4h0M277.1 438.1h0M276.2 438.6h0M276.3 436.5h0M277.9 422.7h0M277.3 427.1h0M276.9 437.9h0M276.6 438.8h0M276.9 437.6h0M276.3 436.6h0M276.9 437.5h0M277.7 426.5h0M276.4 419.7h0M277.8 419.8h0M276.3 438.7h0M276.8 427.2h0M276.7 428.9h0M277.5 438.7h0M277.6 422.0h0M277.1 417.8h0M276.9 423.7h0M276.3 422.2h0M277.4 437.4h0M278.1 424.8h0M277.3 438.7h0M276.4 436.5h0M277.6 416.2h0M277.5 424.6h0M278.4 426.1h0M278.8 419.4h0M278.3 429.4h0M278.2 438.6h0M279.0 424.8h0M278.3 439.0h0M278.2 421.9h0M278.1 420.8h0M278.5 418.7h0M278.4 434.9h0M278.8 438.0h0M278.4 417.5h0M278.2 425.8h0M278.2 427.2h0M279.2 430.5h0M280.1 438.7h0M280.7 435.2h0M280.2 434.6h0M279.8 438.4h0M279.9 439.1h0M280.5 437.4h0M279.3 422.1h0M280.1 414.4h0M280.8 434.0h0M279.8 437.2h0M279.8 435.9h0M280.2 433.5h0M279.7 428.6h0M279.9 427.2h0M280.5 420.1h0M280.1 429.0h0M279.8 438.1h0M279.2 438.7h0M279.1 439.0h0M280.3 439.1h0M279.3 421.4h0M280.8 428.3h0M280.2 438.1h0M279.5 420.0h0M280.1 439.0h0M280.2 435.1h0M280.4 413.5h0M279.5 419.7h0M281.5 432.4h0M282.1 438.7h0M281.1 433.0h0M282.4 430.3h0M281.1 438.9h0M282.8 437.5h0M281.5 435.6h0M281.7 423.1h0M281.2 420.1h0M281.0 438.3h0M281.3 428.7h0M282.9 422.9h0M282.2 422.7h0M282.8 436.8h0M282.5 431.4h0M282.2 428.7h0M281.2 439.1h0M281.6 431.5h0M282.7 438.9h0M281.3 422.0h0M282.6 431.6h0M281.8 429.9h0M281.5 427.2h0M281.1 438.9h0M281.4 427.9h0M282.2 429.7h0M282.7 431.1h0M283.9 425.3h0M283.1 430.0h0M283.0 430.7h0M284.1 431.4h0M283.0 428.7h0M283.1 434.8h0M283.8 436.9h0M283.2 438.4h0M284.2 427.5h0M284.1 439.0h0M283.0 422.5h0M283.4 438.5h0M283.6 438.9h0M283.9 424.7h0M284.6 435.6h0M284.9 437.1h0M285.3 438.3h0M285.5 431.5h0M284.8 430.8h0M285.8 425.0h0M284.8 427.2h0M284.8 433.6h0M284.3 439.0h0M285.8 432.9h0M285.8 429.0h0M284.3 425.8h0M285.4 431.7h0M285.1 427.7h0M284.9 429.8h0M284.5 438.7h0M285.7 434.7h0M285.9 436.0h0M286.1 438.7h0M286.6 437.5h0M286.3 428.6h0M287.0 438.0h0M286.0 438.5h0M286.9 435.0h0M286.3 436.6h0M286.7 438.6h0M286.7 434.2h0M286.5 429.6h0M286.0 438.6h0M286.8 427.3h0M286.7 431.3h0M286.3 434.2h0M287.6 437.4h0M287.3 424.9h0M287.4 438.9h0M287.3 430.3h0M287.3 418.8h0M287.3 435.4h0M287.4 439.0h0M287.3 428.0h0M287.5 438.6h0M287.4 435.3h0M287.8 423.1h0M288.0 424.6h0M287.8 431.4h0M273.5 428.8h0M273.1 397.6h0M273.4 428.8h0M274.1 432.8h0M273.8 417.7h0M274.3 419.4h0M274.9 437.1h0M275.4 429.5h0M274.5 427.1h0M274.6 424.1h0M275.2 404.9h0M275.7 432.4h0M277.1 419.8h0M277.1 436.8h0M276.6 432.1h0M275.9 423.1h0M277.4 418.9h0M277.9 432.4h0M278.3 426.4h0M278.7 435.6h0M278.7 397.8h0M278.9 407.7h0M280.4 407.5h0M279.8 410.2h0M279.8 408.4h0M280.1 419.1h0M279.8 412.6h0M280.0 419.1h0M279.4 403.6h0M279.9 408.2h0M281.7 413.0h0M283.0 415.3h0M281.5 432.2h0M283.2 420.0h0M282.9 431.6h0M282.1 415.8h0M281.7 418.2h0M284.1 420.0h0M284.3 429.1h0M283.3 417.7h0M283.4 403.4h0M284.9 429.3h0M284.6 421.8h0M285.1 419.4h0M285.6 421.1h0M285.9 403.2h0M286.1 413.7h0M285.6 431.8h0M286.3 425.7h0M287.0 430.3h0M287.1 426.0h0M286.3 414.1h0M287.2 419.4h0M287.9 414.3h0M305.4 430.6h0M306.3 412.7h0M305.3 419.5h0M305.0 423.2h0M305.5 421.1h0M306.6 417.9h0M306.6 433.8h0M305.6 408.2h0M306.2 432.8h0M306.2 416.3h0M306.1 434.8h0M306.4 430.6h0M305.3 412.5h0M306.4 429.9h0M305.0 433.9h0M306.2 438.8h0M305.2 434.8h0M306.5 424.2h0M306.2 414.2h0M305.7 416.3h0M305.5 424.2h0M306.0 407.3h0M305.4 435.2h0M306.2 428.8h0M306.1 409.8h0M306.4 437.3h0M306.1 415.9h0M305.8 418.2h0M306.6 432.0h0M305.5 425.6h0M305.8 435.5h0M305.0 407.7h0M305.8 411.8h0M306.5 416.1h0M306.1 431.7h0M307.1 437.6h0M307.0 428.7h0M307.2 418.2h0M307.1 433.7h0M307.2 432.9h0M307.0 405.5h0M306.9 403.7h0M306.7 432.4h0M307.0 438.8h0M307.2 420.1h0M306.8 433.2h0M307.0 408.4h0M306.7 421.2h0M307.2 423.9h0M307.0 417.7h0M307.9 433.2h0M307.6 439.1h0M308.3 434.4h0M307.7 433.5h0M307.5 432.7h0M307.4 427.4h0M307.4 436.6h0M307.7 436.2h0M308.1 420.0h0M308.0 418.7h0M308.1 433.3h0M307.4 436.3h0M308.0 417.1h0M307.7 419.4h0M307.8 419.2h0M307.9 416.4h0M307.6 438.3h0M306.2 426.1h0M306.2 406.1h0M305.3 402.9h0M306.7 408.7h0M305.9 428.5h0M305.5 410.9h0M305.9 436.2h0M305.3 423.3h0M305.7 427.1h0M306.4 422.3h0M307.4 392.0h0M307.1 414.7h0M307.8 398.2h0M307.9 425.7h0M307.8 405.9h0M308.3 420.3h0M308.2 399.1h0M307.7 413.3h0M307.3 429.3h0M307.1 392.3h0M44.5 394.2h0M44.2 393.9h0M44.5 421.6h0M44.0 439.0h0M44.7 428.9h0M44.0 428.4h0M44.4 435.2h0M44.4 416.4h0M44.7 420.2h0M44.6 419.4h0M44.4 420.2h0M44.7 399.6h0M46.9 388.9h0M46.7 430.2h0M46.3 418.5h0M47.0 405.8h0M46.0 397.5h0M47.0 394.2h0M47.2 417.2h0M46.1 416.8h0M46.6 412.8h0M46.0 424.3h0M46.6 419.9h0M46.8 406.3h0M49.0 401.6h0M49.9 430.2h0M50.0 434.0h0M49.6 400.1h0M49.2 438.9h0M49.3 386.8h0M49.9 426.2h0M49.0 396.2h0M49.8 425.9h0M49.1 424.4h0M49.9 425.1h0M48.9 436.3h0M49.8 400.0h0M34.3 416.3h0M34.9 425.1h0M35.1 395.8h0M34.5 437.6h0M35.0 430.5h0M34.9 420.5h0M34.6 432.7h0M34.5 414.0h0M34.4 392.1h0M34.8 422.6h0M34.3 418.1h0M34.9 405.4h0M34.6 401.0h0M117.1 422.3h0M116.7 431.2h0M117.4 399.0h0M117.0 438.0h0M117.8 400.5h0M116.7 437.9h0M117.7 430.8h0M117.0 414.1h0M117.7 432.0h0M117.4 420.9h0M117.2 398.1h0M128.1 424.1h0M127.6 433.6h0M127.7 404.9h0M127.5 416.8h0M127.7 425.4h0M127.6 410.5h0M127.5 431.3h0M128.1 431.0h0M127.9 434.5h0M127.6 417.3h0M116.0 427.5h0M116.3 401.8h0M116.7 422.5h0M116.0 424.4h0M116.4 408.2h0M115.9 422.4h0M116.7 414.0h0M117.0 421.6h0M116.8 394.0h0M116.8 412.4h0M116.0 402.7h0M126.3 412.7h0M125.4 391.4h0M126.2 428.8h0M126.1 406.0h0M125.8 399.0h0M126.0 424.8h0M126.3 401.9h0M125.6 411.6h0M126.2 393.1h0M125.4 408.7h0M126.3 420.6h0M126.2 420.8h0M143.9 388.3h0M144.2 391.2h0M143.9 415.0h0M143.2 409.8h0M144.0 435.9h0M143.4 431.9h0M143.8 436.7h0M143.6 390.2h0M143.5 419.3h0M144.3 435.1h0M143.1 433.4h0M143.5 432.8h0M145.2 422.9h0M145.3 428.1h0M144.0 428.9h0M144.7 410.5h0M144.5 424.0h0M144.2 411.4h0M145.0 407.2h0M144.7 423.9h0M144.4 399.3h0M145.2 411.4h0M138.6 408.6h0M138.3 420.3h0M138.8 416.9h0M138.5 418.0h0M138.7 420.8h0M138.3 431.5h0M138.6 406.8h0M138.7 410.2h0M138.6 434.6h0M144.4 420.7h0M144.8 430.6h0M144.4 438.5h0M144.6 411.2h0M145.2 430.7h0M145.3 432.3h0M145.2 416.1h0M144.7 432.2h0M145.0 407.3h0M167.1 412.3h0M167.0 400.4h0M166.9 430.8h0M167.3 412.2h0M167.0 426.0h0M167.2 393.0h0M167.1 424.1h0M167.1 396.1h0M166.8 427.2h0M167.1 408.9h0M167.3 431.5h0M167.1 404.7h0M181.4 423.1h0M181.0 423.0h0M181.5 420.3h0M182.1 434.2h0M181.3 425.7h0M181.0 423.9h0M186.2 412.5h0M186.1 432.2h0M185.7 427.2h0M186.1 433.1h0M185.9 415.1h0M186.0 412.5h0M186.3 436.2h0M197.3 421.6h0M197.3 436.4h0M196.5 402.8h0M196.7 426.9h0M196.6 403.0h0M196.7 409.9h0M197.4 431.4h0M196.9 431.8h0M196.9 405.1h0M197.4 428.2h0M197.3 411.1h0M197.1 398.4h0M197.6 424.0h0M196.2 437.2h0M196.5 392.4h0M197.2 438.6h0M197.1 432.7h0M197.6 405.9h0M196.4 435.2h0M196.6 432.0h0M197.0 403.2h0M205.8 425.5h0M205.5 423.7h0M205.9 427.5h0M206.5 411.5h0M205.6 432.8h0M206.3 399.0h0M206.5 394.9h0M205.1 432.7h0M205.7 426.9h0M205.6 430.2h0M206.0 425.1h0M206.4 424.0h0M206.9 421.4h0M207.0 413.2h0M206.9 408.8h0M207.0 406.3h0M207.7 387.8h0M207.6 422.9h0M207.6 387.5h0M206.9 411.9h0M206.6 394.8h0M207.0 422.0h0M207.4 413.0h0M206.6 433.6h0M229.2 424.9h0M229.2 435.2h0M229.3 401.9h0M229.0 427.2h0M229.7 413.4h0M229.7 407.5h0M229.5 413.3h0M229.7 422.8h0M229.7 426.7h0M229.1 437.6h0M264.8 423.0h0M264.5 430.8h0M264.9 435.3h0M264.5 433.9h0M264.6 418.9h0M264.9 423.7h0M265.0 434.7h0M264.6 415.1h0M264.6 396.5h0M269.1 401.5h0M268.9 386.5h0M268.7 425.8h0M269.1 387.7h0M268.3 418.4h0M268.8 432.4h0M268.4 421.5h0M269.3 384.1h0M269.1 391.6h0M269.5 396.8h0M268.2 388.3h0M266.4 387.9h0M267.1 430.3h0M267.1 405.2h0M266.1 422.5h0M266.6 394.0h0M266.3 398.2h0M266.4 410.5h0M266.5 384.0h0M266.3 432.9h0M266.7 409.3h0M266.1 388.8h0M254.0 428.4h0M253.8 424.6h0M254.1 381.4h0M253.4 384.5h0M253.6 414.7h0M253.8 400.0h0M253.7 406.5h0M253.4 384.5h0M253.7 407.2h0M254.1 432.2h0M253.4 437.9h0M269.4 391.2h0M269.5 411.3h0M269.8 420.9h0M269.7 419.5h0M270.4 412.7h0M269.6 395.3h0M270.4 428.5h0M270.5 433.5h0M270.4 401.6h0M270.6 398.4h0M279.2 412.8h0M279.5 427.5h0M279.6 438.7h0M279.2 424.0h0M278.6 420.1h0M279.3 411.1h0M278.6 426.6h0M279.2 437.4h0M282.6 415.3h0M282.9 421.3h0M283.0 419.1h0M282.8 415.7h0M283.0 432.4h0M283.0 436.3h0M283.1 417.1h0M283.3 436.7h0M283.5 431.3h0M283.5 410.0h0M283.4 418.9h0M283.5 424.1h0M283.4 428.8h0M283.5 400.2h0M283.5 418.4h0M283.6 419.0h0M283.7 408.2h0M307.5 397.1h0M307.6 388.8h0M307.4 417.6h0M307.7 385.4h0M307.1 412.0h0M307.2 438.8h0M307.2 389.6h0M307.1 436.6h0M307.5 412.8h0M307.5 419.7h0M307.2 433.4h0M307.2 433.6h0M307.2 391.6h0M307.6 401.8h0" stroke="#ff0000" stroke-width="2.30" stroke-linecap="round" fill="none"/><path d="M81.0 372.0h0M81.0 382.6h0M81.0 391.7h0M81.0 394.7h0M81.0 398.5h0M81.0 400.8h0M81.0 404.6h0M81.0 406.8h0M81.0 409.9h0M54.5 343.4h0M81.8 371.7h0M101.9 303.0h0M101.9 319.4h0M101.9 324.5h0M101.9 345.0h0M101.9 346.7h0M101.9 377.3h0M101.9 388.0h0M101.9 395.0h0M101.9 398.0h0M101.9 400.0h0M101.9 405.0h0M101.9 410.0h0M89.7 389.0h0M88.6 400.0h0M91.0 405.0h0M97.0 399.3h0M95.0 407.0h0M129.1 347.2h0M129.1 367.9h0M154.1 362.2h0M217.7 368.7h0M221.2 367.0h0M220.0 368.8h0M221.5 369.5h0M221.5 371.7h0M221.5 375.2h0M208.6 386.2h0M226.3 388.0h0M218.0 388.0h0M219.5 390.0h0M221.0 367.2h0M225.9 357.8h0M240.7 277.2h0M240.7 290.8h0M240.7 300.9h0M240.7 309.4h0M240.7 310.2h0M240.7 315.8h0M240.7 320.3h0M240.7 322.9h0M240.7 328.7h0M240.7 331.7h0M240.7 333.8h0M240.7 338.4h0M240.7 339.6h0M240.7 342.9h0M240.7 347.2h0M240.7 352.0h0M240.7 355.8h0M240.7 363.4h0M240.7 364.1h0M240.7 367.9h0M234.8 312.0h0M234.7 344.9h0M238.0 347.0h0M232.4 352.0h0M246.8 358.1h0M243.0 358.8h0M241.1 352.2h0M245.0 369.0h0M245.0 372.4h0M245.0 378.6h0M239.0 367.5h0M270.2 374.5h0M289.5 387.5h0M288.5 388.5h0M52.1 433.6h0M51.7 438.6h0M52.2 434.6h0M51.8 422.2h0M51.6 420.9h0M51.6 432.6h0M52.3 438.2h0M52.5 438.3h0M52.2 424.6h0M51.8 433.5h0M51.9 437.3h0M51.8 426.9h0M52.0 430.0h0M52.9 437.1h0M53.1 430.8h0M53.2 438.1h0M52.8 434.9h0M52.7 439.1h0M52.9 426.2h0M53.1 434.1h0M54.8 439.1h0M53.6 421.9h0M53.6 438.6h0M53.3 426.2h0M54.8 427.5h0M54.9 434.8h0M54.6 436.9h0M53.3 431.0h0M54.6 419.2h0M54.9 421.6h0M53.4 425.6h0M53.8 415.3h0M54.6 417.4h0M54.7 439.1h0M53.6 433.1h0M53.4 438.1h0M55.0 437.6h0M53.5 430.9h0M53.7 436.9h0M54.4 430.3h0M54.5 430.4h0M54.6 438.7h0M53.5 436.5h0M56.8 438.9h0M56.2 438.5h0M56.4 439.0h0M55.1 432.4h0M56.1 439.1h0M55.8 438.1h0M55.9 438.6h0M55.3 438.7h0M56.0 438.9h0M56.7 421.1h0M55.2 420.4h0M55.5 434.7h0M55.5 436.8h0M55.9 438.2h0M55.6 439.1h0M55.4 437.6h0M55.9 425.0h0M55.6 414.6h0M55.5 436.5h0M56.5 436.7h0M55.3 427.4h0M55.4 439.1h0M56.6 431.8h0M56.8 420.9h0M57.4 439.0h0M57.1 422.4h0M58.7 429.4h0M58.7 433.8h0M58.8 434.5h0M57.4 438.1h0M58.8 435.9h0M57.3 436.7h0M58.2 434.1h0M57.9 438.0h0M57.4 430.5h0M57.9 437.6h0M57.1 427.8h0M58.5 438.2h0M57.6 438.7h0M57.1 438.8h0M58.0 439.1h0M59.6 436.1h0M60.6 436.6h0M60.2 433.7h0M60.7 431.1h0M59.9 437.2h0M59.4 434.4h0M59.9 435.3h0M59.3 436.4h0M62.6 439.0h0M62.6 438.0h0M61.6 413.7h0M62.9 428.0h0M63.3 422.7h0M62.5 427.9h0M61.5 435.9h0M62.6 429.4h0M61.8 438.9h0M62.2 437.2h0M63.3 439.1h0M62.4 438.2h0M63.0 433.6h0M63.3 439.1h0M61.6 438.1h0M62.0 436.0h0M61.8 439.1h0M61.8 434.7h0M63.3 434.1h0M61.9 439.1h0M62.1 428.6h0M62.9 436.4h0M62.9 416.0h0M62.7 435.7h0M61.5 439.1h0M61.6 438.7h0M63.6 421.5h0M63.8 416.9h0M63.7 418.5h0M64.3 426.6h0M63.8 434.9h0M64.2 419.2h0M64.9 439.0h0M64.6 417.4h0M63.9 438.6h0M63.5 431.6h0M64.1 438.6h0M64.0 434.0h0M64.7 438.7h0M63.6 438.2h0M64.2 424.2h0M64.1 425.9h0M64.7 431.3h0M65.2 433.5h0M65.7 438.0h0M66.0 439.1h0M65.0 437.0h0M65.9 436.5h0M65.1 435.6h0M65.9 437.3h0M66.1 429.7h0M65.7 434.8h0M67.2 435.4h0M67.9 436.7h0M66.9 434.1h0M67.2 437.3h0M67.0 428.7h0M67.3 433.2h0M67.2 439.0h0M67.3 423.6h0M66.7 434.4h0M67.3 423.6h0M66.7 439.1h0M67.3 425.7h0M67.6 438.9h0M66.9 437.0h0M67.5 438.2h0M68.2 434.1h0M69.5 438.3h0M69.7 439.1h0M68.3 438.9h0M68.1 437.5h0M69.2 431.2h0M69.5 410.7h0M69.1 438.3h0M69.3 437.8h0M69.2 412.3h0M68.1 419.9h0M68.2 417.4h0M69.1 438.8h0M68.6 436.1h0M69.5 421.4h0M69.6 423.9h0M68.6 426.5h0M69.2 439.0h0M68.3 429.9h0M69.7 436.9h0M68.9 438.0h0M68.9 432.1h0M69.0 438.1h0M68.1 439.1h0M69.4 421.1h0M69.7 431.0h0M69.7 434.5h0M68.5 428.7h0M70.0 435.3h0M70.2 419.0h0M70.9 416.5h0M70.9 413.8h0M71.6 438.9h0M71.1 437.1h0M70.1 432.1h0M69.9 414.9h0M71.7 416.2h0M71.5 416.3h0M70.8 422.9h0M71.1 418.5h0M70.7 426.7h0M70.4 433.0h0M70.3 420.5h0M70.5 414.8h0M71.3 427.2h0M71.6 438.5h0M70.7 413.7h0M70.8 431.6h0M69.8 427.7h0M71.4 438.9h0M71.2 433.4h0M71.1 438.3h0M70.7 431.9h0M71.9 429.5h0M72.0 433.6h0M72.1 430.7h0M72.0 438.5h0M73.2 437.1h0M72.7 432.8h0M72.8 438.4h0M72.8 428.6h0M74.2 435.6h0M74.3 438.8h0M74.3 436.5h0M74.5 435.7h0M74.9 431.4h0M74.1 439.0h0M74.5 438.8h0M74.6 426.2h0M74.8 432.5h0M73.7 436.3h0M74.9 437.0h0M74.3 427.7h0M73.8 431.3h0M75.7 438.0h0M75.3 424.1h0M75.3 439.1h0M75.6 434.4h0M75.3 439.0h0M75.3 421.9h0M75.8 427.4h0M75.5 438.3h0M76.3 435.8h0M76.3 439.0h0M76.1 439.1h0M76.1 438.8h0M76.2 421.7h0M76.0 439.1h0M76.4 424.3h0M76.2 439.0h0M76.5 438.8h0M76.9 438.9h0M78.0 438.0h0M77.7 421.2h0M77.6 435.1h0M78.2 439.1h0M77.4 421.4h0M78.0 422.0h0M77.9 420.7h0M78.1 425.8h0M76.6 426.3h0M77.9 437.2h0M76.6 431.4h0M78.0 439.1h0M77.7 436.1h0M76.6 439.1h0M80.1 438.0h0M78.4 438.2h0M80.1 438.5h0M79.0 438.1h0M79.0 427.7h0M79.1 435.3h0M79.2 437.0h0M79.8 435.0h0M78.8 439.0h0M79.7 428.9h0M78.9 436.1h0M80.1 439.1h0M78.9 436.9h0M78.3 436.0h0M78.7 439.0h0M81.1 409.4h0M81.1 437.8h0M81.4 423.1h0M81.3 434.6h0M80.4 439.1h0M80.5 436.2h0M80.8 435.6h0M80.4 430.8h0M81.1 412.2h0M80.8 434.0h0M81.5 432.3h0M81.4 413.8h0M80.9 417.7h0M81.5 438.8h0M80.8 436.0h0M80.7 427.5h0M81.4 424.7h0M80.3 437.5h0M81.2 414.8h0M81.0 413.3h0M81.5 420.4h0M51.6 438.0h0M51.8 423.2h0M51.8 421.2h0M53.7 432.9h0M53.6 408.1h0M53.2 411.4h0M53.4 406.2h0M52.6 427.9h0M53.8 436.6h0M54.0 432.9h0M54.5 424.4h0M54.5 407.4h0M54.8 411.7h0M54.9 422.6h0M55.8 416.8h0M56.0 438.4h0M55.4 423.8h0M56.8 433.3h0M57.2 415.8h0M57.4 434.3h0M58.1 418.2h0M58.7 438.8h0M58.1 416.9h0M58.7 411.9h0M59.5 427.0h0M59.2 425.0h0M59.8 429.4h0M60.2 433.3h0M60.6 424.5h0M61.3 405.7h0M60.9 428.9h0M60.8 404.8h0M61.2 433.9h0M63.0 431.2h0M62.5 420.0h0M63.0 417.5h0M62.4 434.9h0M63.1 411.0h0M63.5 410.9h0M63.1 425.7h0M63.4 424.2h0M63.2 411.2h0M64.9 425.7h0M64.9 422.2h0M65.5 415.0h0M65.3 412.0h0M64.9 402.6h0M66.3 438.8h0M66.2 420.8h0M66.7 422.2h0M67.4 417.7h0M67.1 411.1h0M67.2 417.8h0M67.0 430.5h0M68.6 421.8h0M68.0 408.7h0M67.9 431.5h0M68.2 407.0h0M70.0 430.1h0M69.8 420.4h0M69.5 405.0h0M69.7 417.3h0M69.3 435.4h0M71.1 437.8h0M70.9 430.1h0M71.0 423.1h0M72.2 411.4h0M71.3 438.8h0M71.8 439.0h0M72.2 411.6h0M72.1 417.5h0M72.8 416.3h0M73.1 433.3h0M72.8 417.9h0M73.2 421.9h0M73.5 403.3h0M73.9 401.3h0M73.4 423.9h0M73.4 411.0h0M75.3 413.7h0M75.3 405.5h0M75.5 415.1h0M75.5 424.1h0M75.7 402.1h0M75.6 408.9h0M76.1 430.9h0M77.0 422.2h0M76.4 437.1h0M77.5 432.3h0M77.5 416.3h0M77.7 427.8h0M77.9 419.2h0M79.7 414.0h0M78.9 423.5h0M79.6 415.5h0M79.2 422.8h0M80.4 401.3h0M80.6 399.6h0M80.7 407.7h0M80.8 405.0h0M81.2 434.9h0M81.0 437.9h0M81.0 405.5h0M90.4 433.6h0M89.4 428.1h0M88.7 430.1h0M89.9 439.0h0M89.7 439.1h0M89.6 436.5h0M89.4 427.8h0M90.2 436.3h0M88.6 438.2h0M89.7 427.2h0M89.5 437.6h0M90.5 439.1h0M90.3 423.4h0M89.1 439.0h0M89.4 435.5h0M88.6 438.8h0M88.8 433.5h0M90.7 438.4h0M90.9 432.9h0M91.8 438.3h0M91.6 436.6h0M90.8 436.1h0M91.6 438.5h0M92.4 436.6h0M92.8 438.0h0M92.9 433.9h0M92.5 439.1h0M92.0 436.8h0M92.6 438.0h0M92.7 434.6h0M93.0 438.8h0M94.3 439.1h0M94.1 437.5h0M94.7 437.4h0M93.2 436.8h0M93.7 433.9h0M96.1 436.7h0M95.5 438.0h0M95.9 439.1h0M95.8 439.1h0M95.9 435.9h0M95.5 437.8h0M96.0 429.6h0M96.6 439.0h0M97.1 437.9h0M97.6 414.7h0M97.3 435.7h0M98.2 438.4h0M97.7 415.8h0M98.3 414.1h0M98.4 415.5h0M98.4 430.7h0M96.4 436.5h0M97.9 438.7h0M97.5 428.2h0M97.0 435.5h0M96.7 430.8h0M96.5 439.0h0M98.1 432.4h0M97.0 432.0h0M98.3 439.0h0M96.4 421.7h0M98.3 438.1h0M96.8 419.7h0M98.5 439.0h0M97.7 438.6h0M97.2 438.8h0M97.1 439.1h0M98.4 433.4h0M97.1 437.5h0M99.8 438.9h0M99.1 432.9h0M98.5 438.6h0M99.9 438.2h0M99.6 429.5h0M99.1 438.9h0M99.9 419.2h0M100.1 431.2h0M99.6 414.1h0M98.8 439.1h0M99.6 409.4h0M100.0 405.6h0M98.8 422.0h0M98.8 421.8h0M99.5 419.2h0M98.8 418.6h0M98.6 411.1h0M99.7 438.8h0M99.2 431.1h0M98.7 439.1h0M99.5 430.6h0M100.2 437.3h0M99.1 414.8h0M100.0 436.2h0M98.5 437.6h0M99.2 439.1h0M99.8 414.5h0M99.9 439.1h0M99.0 438.8h0M100.2 408.7h0M100.5 432.9h0M101.0 424.4h0M100.8 437.2h0M101.6 427.7h0M101.1 438.5h0M101.3 429.7h0M100.5 431.1h0M100.7 430.4h0M100.4 434.5h0M100.9 436.2h0M101.0 436.1h0M100.9 432.7h0M101.3 429.5h0M102.6 428.1h0M101.7 438.3h0M102.9 439.0h0M103.0 439.1h0M102.1 418.1h0M102.4 439.1h0M101.7 439.0h0M103.4 430.0h0M102.3 437.6h0M101.8 425.2h0M102.3 439.0h0M102.4 439.1h0M103.0 425.4h0M102.4 418.7h0M103.1 439.1h0M103.1 439.1h0M102.7 436.4h0M102.0 435.7h0M101.9 430.8h0M102.1 437.7h0M102.0 438.7h0M90.5 436.1h0M90.1 431.1h0M89.3 404.1h0M89.5 404.6h0M89.3 427.4h0M89.8 428.1h0M89.9 421.9h0M89.6 422.1h0M90.8 417.3h0M91.4 410.4h0M91.2 416.7h0M90.7 415.7h0M91.1 408.9h0M93.2 410.9h0M92.2 417.0h0M93.0 424.7h0M92.5 428.5h0M92.1 420.1h0M92.2 431.8h0M94.6 433.4h0M94.2 437.0h0M94.5 420.6h0M95.0 433.6h0M95.1 436.4h0M94.7 414.7h0M95.8 436.5h0M96.9 414.4h0M96.2 438.4h0M95.7 432.4h0M96.6 422.9h0M98.6 402.7h0M98.5 431.0h0M98.2 423.5h0M98.2 414.7h0M98.6 404.0h0M97.6 428.5h0M97.3 410.9h0M99.0 410.2h0M99.6 413.5h0M99.4 427.7h0M100.0 422.6h0M99.3 425.4h0M100.2 423.3h0M101.5 431.8h0M100.7 427.7h0M101.2 423.4h0M101.5 434.4h0M102.6 426.3h0M102.0 420.9h0M102.0 436.6h0M103.1 415.4h0M103.0 418.9h0M128.4 437.8h0M128.2 439.1h0M128.6 433.5h0M128.1 436.9h0M128.2 426.5h0M128.5 438.9h0M128.1 426.5h0M128.8 436.0h0M128.1 426.5h0M128.8 439.1h0M130.1 437.2h0M129.0 434.7h0M130.3 430.3h0M130.1 438.2h0M129.4 430.9h0M128.9 436.6h0M130.3 439.1h0M130.4 435.3h0M129.8 427.0h0M129.6 437.4h0M130.6 429.9h0M129.4 438.8h0M129.4 433.2h0M130.7 438.9h0M130.9 436.8h0M131.2 435.4h0M131.0 430.6h0M130.7 438.0h0M131.2 434.8h0M131.6 438.6h0M131.6 436.8h0M133.2 439.1h0M131.7 437.3h0M133.3 421.7h0M132.9 437.3h0M132.2 438.8h0M133.4 435.5h0M131.7 439.0h0M131.6 426.2h0M132.1 430.7h0M131.7 427.3h0M131.9 430.7h0M133.2 439.1h0M132.9 439.1h0M133.1 427.2h0M132.3 438.7h0M132.9 423.4h0M132.9 434.3h0M132.7 439.1h0M133.5 439.0h0M128.4 421.0h0M129.4 433.5h0M129.3 435.2h0M128.4 406.3h0M129.3 429.0h0M128.8 422.9h0M130.7 438.7h0M130.0 408.2h0M130.6 408.7h0M130.5 415.5h0M130.5 416.5h0M130.8 412.8h0M131.7 426.9h0M131.8 420.5h0M131.7 423.5h0M132.2 425.5h0M132.0 432.9h0M133.1 412.4h0M133.0 433.6h0M133.1 413.8h0M133.4 416.8h0M148.6 426.4h0M148.5 428.9h0M149.5 438.9h0M149.7 429.8h0M150.0 434.7h0M149.5 435.1h0M148.8 434.8h0M150.4 426.7h0M148.6 439.1h0M150.0 418.7h0M149.9 435.1h0M148.6 439.1h0M149.1 438.0h0M149.2 423.8h0M150.0 438.8h0M148.6 419.2h0M149.4 429.7h0M150.4 433.1h0M149.9 439.1h0M150.4 417.6h0M150.4 420.0h0M149.4 434.8h0M150.1 439.1h0M149.9 436.8h0M149.3 436.1h0M148.8 416.5h0M150.3 438.9h0M150.4 431.7h0M148.5 416.5h0M150.7 437.4h0M151.3 433.3h0M151.3 438.9h0M151.1 432.4h0M150.9 433.7h0M150.8 430.5h0M151.2 431.1h0M151.9 435.6h0M150.9 427.2h0M150.9 431.7h0M152.1 428.2h0M152.0 438.7h0M151.7 419.1h0M151.2 423.5h0M150.8 405.2h0M150.7 434.4h0M150.7 424.2h0M151.1 415.6h0M150.9 410.6h0M151.3 437.8h0M151.0 435.0h0M151.6 409.2h0M150.7 405.1h0M151.3 432.5h0M151.7 433.0h0M152.0 426.2h0M150.6 413.3h0M150.9 437.6h0M152.0 423.8h0M151.4 438.0h0M151.4 407.8h0M151.6 438.2h0M152.2 437.3h0M152.3 418.0h0M152.7 434.0h0M153.3 419.3h0M152.4 411.3h0M153.2 409.5h0M152.1 411.2h0M153.4 426.6h0M152.7 434.4h0M152.7 439.1h0M152.7 439.0h0M152.1 425.6h0M152.2 419.0h0M152.4 434.6h0M152.7 438.8h0M153.3 408.8h0M153.3 409.8h0M153.0 407.4h0M152.7 438.0h0M153.0 436.2h0M152.2 425.3h0M153.4 419.6h0M153.4 425.3h0M153.0 429.6h0M153.1 438.0h0M153.2 433.2h0M152.8 438.3h0M153.2 438.9h0M154.8 420.6h0M154.8 414.9h0M155.0 439.0h0M154.9 429.8h0M153.8 434.7h0M155.0 418.3h0M153.7 437.9h0M154.7 419.7h0M154.6 432.2h0M154.8 437.7h0M155.0 436.2h0M154.3 439.1h0M155.1 425.0h0M154.3 428.5h0M154.5 404.4h0M154.9 434.1h0M154.6 412.4h0M154.5 430.8h0M154.5 438.6h0M154.5 434.3h0M155.0 435.1h0M155.1 404.3h0M154.1 439.0h0M154.6 439.0h0M153.6 401.4h0M155.2 437.6h0M155.2 402.3h0M154.9 437.8h0M155.0 431.1h0M153.6 431.1h0M154.4 406.2h0M154.4 422.9h0M154.1 428.6h0M154.2 409.5h0M154.4 438.7h0M154.1 430.5h0M153.5 430.4h0M154.4 419.5h0M154.2 425.3h0M154.2 416.4h0M154.0 417.6h0M155.1 405.7h0M154.2 414.1h0M155.6 427.3h0M155.6 437.4h0M155.6 439.0h0M155.6 435.0h0M155.6 417.0h0M155.7 415.8h0M155.8 438.9h0M155.3 414.5h0M155.5 438.9h0M155.6 431.3h0M155.6 438.9h0M155.8 430.9h0M155.5 438.5h0M156.1 435.6h0M157.5 435.9h0M156.2 438.9h0M156.2 430.6h0M156.3 406.7h0M156.4 429.4h0M156.1 421.1h0M155.9 437.8h0M156.6 438.8h0M157.7 439.1h0M157.4 410.1h0M156.2 437.6h0M156.0 435.3h0M157.4 419.6h0M157.0 406.5h0M157.1 403.0h0M156.9 438.6h0M156.1 422.1h0M157.6 439.1h0M157.2 415.1h0M156.5 438.3h0M156.5 438.3h0M156.3 419.4h0M157.1 430.7h0M156.4 405.3h0M156.9 430.4h0M156.8 438.9h0M157.1 439.1h0M157.0 409.5h0M156.5 432.4h0M156.6 424.7h0M156.3 426.3h0M157.6 439.1h0M157.5 433.0h0M156.6 425.6h0M156.7 420.6h0M156.4 438.7h0M157.1 411.8h0M157.3 422.4h0M156.9 404.0h0M157.9 429.0h0M157.9 432.3h0M157.9 413.1h0M157.9 428.1h0M158.4 401.0h0M158.0 436.1h0M158.1 437.0h0M158.0 427.6h0M158.5 435.9h0M157.8 416.7h0M158.3 410.2h0M158.5 421.3h0M157.7 438.6h0M158.0 438.4h0M158.2 431.5h0M157.7 438.7h0M157.7 400.1h0M158.1 413.3h0M157.7 414.7h0M157.9 421.0h0M159.9 431.5h0M158.9 431.6h0M159.6 420.0h0M159.8 421.4h0M159.7 431.5h0M160.2 416.3h0M159.8 423.8h0M158.6 427.3h0M158.7 420.7h0M158.5 436.3h0M160.3 439.0h0M160.2 422.1h0M159.2 438.6h0M158.6 435.7h0M159.5 439.1h0M159.7 424.9h0M158.9 436.4h0M159.5 438.9h0M159.5 421.4h0M158.9 439.0h0M159.6 424.3h0M159.4 425.0h0M159.2 426.4h0M159.0 439.1h0M161.8 437.6h0M161.1 430.9h0M162.3 425.3h0M160.5 438.9h0M161.5 431.6h0M162.0 430.9h0M162.1 427.3h0M162.3 438.3h0M160.6 437.6h0M161.6 434.4h0M162.1 439.0h0M161.9 432.2h0M160.6 428.0h0M162.3 431.7h0M161.9 431.3h0M161.3 422.4h0M161.7 437.2h0M160.9 438.6h0M162.1 437.8h0M161.4 439.1h0M161.8 426.6h0M162.9 424.4h0M162.7 428.7h0M163.0 438.7h0M163.8 431.4h0M164.3 426.9h0M164.5 432.3h0M164.2 438.0h0M163.1 426.6h0M163.2 424.1h0M163.8 438.8h0M163.4 417.3h0M164.0 432.2h0M162.6 437.8h0M162.7 433.8h0M163.4 439.0h0M163.0 438.4h0M163.4 435.5h0M164.0 429.7h0M163.5 437.7h0M162.4 434.4h0M163.4 434.1h0M162.9 426.8h0M164.1 437.5h0M164.0 426.3h0M163.6 438.7h0M162.5 437.1h0M163.6 439.1h0M163.3 437.9h0M163.8 418.5h0M162.7 420.5h0M164.5 431.7h0M164.4 420.0h0M163.1 439.1h0M149.0 435.9h0M148.8 429.2h0M149.9 423.2h0M149.9 422.9h0M150.5 429.5h0M150.0 405.5h0M149.2 435.3h0M150.5 407.8h0M151.0 418.9h0M151.4 423.7h0M150.7 421.5h0M151.2 427.7h0M151.2 404.8h0M152.0 398.6h0M151.8 428.8h0M151.9 420.9h0M152.8 409.0h0M151.8 430.1h0M151.9 420.8h0M152.1 408.3h0M152.4 397.7h0M154.6 407.7h0M153.5 437.9h0M154.3 394.3h0M153.4 395.8h0M154.7 436.6h0M153.4 430.0h0M154.6 391.0h0M153.9 412.9h0M154.8 393.6h0M155.5 436.2h0M155.6 411.4h0M156.4 431.3h0M156.5 435.7h0M156.0 429.1h0M156.8 414.1h0M156.8 420.1h0M156.7 423.4h0M158.2 398.8h0M158.6 435.1h0M158.5 424.9h0M158.5 403.5h0M158.5 412.4h0M158.5 411.5h0M157.9 421.7h0M159.6 424.5h0M159.6 420.4h0M159.1 424.0h0M159.7 408.6h0M160.0 427.5h0M160.1 428.1h0M160.3 422.5h0M162.0 397.7h0M161.6 429.9h0M161.4 427.7h0M162.0 434.4h0M161.6 410.1h0M161.6 398.5h0M162.8 420.0h0M163.1 437.6h0M162.7 398.5h0M163.1 432.5h0M162.6 420.8h0M162.6 407.6h0M163.8 414.9h0M163.8 405.8h0M164.0 436.2h0M164.3 428.1h0M164.4 429.6h0M169.3 435.3h0M169.3 432.5h0M169.4 438.1h0M168.7 437.9h0M169.0 436.4h0M168.9 433.4h0M169.4 438.3h0M171.2 439.1h0M170.7 432.9h0M170.2 421.6h0M171.0 438.4h0M169.8 436.2h0M169.8 438.5h0M171.2 439.0h0M169.7 418.1h0M170.4 430.8h0M169.6 438.6h0M170.4 438.2h0M169.7 421.2h0M171.3 430.6h0M170.0 424.7h0M170.1 415.3h0M170.6 438.7h0M171.1 426.1h0M171.0 438.1h0M171.0 424.9h0M169.9 437.3h0M170.4 428.2h0M170.8 439.0h0M170.2 421.8h0M169.7 432.5h0M172.9 433.1h0M172.8 430.6h0M172.1 433.2h0M172.1 438.5h0M171.9 428.8h0M171.4 437.1h0M171.8 434.4h0M172.6 438.9h0M172.4 437.8h0M171.5 436.2h0M171.9 438.9h0M171.4 425.6h0M171.5 436.3h0M172.9 429.7h0M172.7 431.3h0M172.0 423.5h0M172.6 437.9h0M171.9 438.5h0M171.6 419.3h0M171.5 421.4h0M171.8 435.8h0M173.5 434.5h0M174.1 435.7h0M174.4 437.7h0M174.8 435.4h0M173.9 430.9h0M173.7 422.8h0M173.9 432.8h0M174.5 433.9h0M174.6 417.6h0M173.9 423.5h0M174.0 434.0h0M174.7 431.8h0M173.6 437.3h0M174.0 439.0h0M173.1 415.5h0M174.2 438.7h0M174.8 433.9h0M173.3 427.7h0M173.4 417.9h0M174.5 433.7h0M174.7 434.2h0M173.6 434.9h0M174.7 437.7h0M175.0 420.9h0M175.0 420.7h0M173.6 417.0h0M173.6 433.6h0M173.4 438.8h0M174.6 434.2h0M175.1 438.6h0M175.9 437.6h0M175.9 437.8h0M175.7 421.0h0M175.1 431.9h0M175.6 435.1h0M175.3 419.4h0M175.9 431.8h0M175.2 434.6h0M175.5 435.2h0M176.2 431.5h0M175.2 438.2h0M175.2 416.5h0M176.2 439.0h0M176.0 434.3h0M175.5 436.3h0M175.1 415.8h0M176.1 420.8h0M176.1 435.3h0M176.3 429.1h0M177.1 425.9h0M176.6 436.2h0M176.5 413.8h0M177.1 439.0h0M177.5 439.1h0M177.2 424.3h0M177.0 417.0h0M176.5 439.1h0M176.7 431.4h0M176.6 437.9h0M177.1 427.0h0M176.9 438.8h0M176.3 437.4h0M177.0 416.9h0M177.2 422.0h0M176.9 431.4h0M176.3 438.9h0M177.2 436.4h0M176.5 425.1h0M178.0 437.8h0M178.9 409.0h0M177.7 423.9h0M178.4 438.7h0M177.9 422.7h0M178.3 429.6h0M178.7 435.1h0M177.7 438.2h0M178.5 439.0h0M177.8 409.6h0M177.7 419.7h0M178.8 422.9h0M178.2 430.7h0M178.6 414.9h0M178.0 418.4h0M177.6 436.4h0M177.6 417.3h0M178.1 438.5h0M178.2 430.0h0M178.5 438.5h0M178.8 424.1h0M178.3 418.4h0M178.3 420.1h0M178.3 437.4h0M178.0 409.7h0M179.4 429.6h0M179.1 430.1h0M179.1 425.5h0M179.1 437.9h0M179.5 432.7h0M179.4 426.5h0M179.5 437.9h0M179.0 435.4h0M179.3 415.3h0M179.3 436.3h0M179.5 431.2h0M179.8 432.0h0M180.9 430.7h0M180.1 438.6h0M179.9 430.4h0M180.9 439.1h0M180.2 438.7h0M180.5 437.8h0M180.3 436.5h0M179.8 438.4h0M180.4 433.4h0M180.3 438.7h0M180.1 433.5h0M179.8 438.6h0M168.8 411.6h0M168.5 413.7h0M169.1 407.4h0M170.7 428.0h0M171.3 421.5h0M169.3 406.9h0M170.1 425.5h0M169.7 423.0h0M170.8 432.1h0M171.2 415.4h0M169.6 414.9h0M171.3 419.1h0M172.5 424.3h0M172.4 437.7h0M171.5 407.0h0M172.5 436.4h0M171.4 407.5h0M173.5 420.5h0M173.1 434.2h0M173.6 410.0h0M173.5 413.7h0M172.6 430.7h0M174.8 419.4h0M175.0 418.4h0M174.8 429.2h0M174.2 415.3h0M174.3 394.1h0M175.1 408.6h0M175.5 410.5h0M175.4 435.8h0M176.4 385.4h0M175.8 422.9h0M175.9 411.3h0M176.3 403.9h0M175.5 389.8h0M176.9 432.8h0M177.4 410.4h0M177.5 408.2h0M176.9 410.8h0M179.1 432.2h0M179.9 426.2h0M178.9 402.1h0M177.9 396.8h0M179.7 413.7h0M179.4 418.5h0M179.3 402.2h0M179.6 426.4h0M178.5 438.6h0M179.9 409.1h0M180.4 424.8h0M179.9 394.2h0M180.8 430.0h0M180.9 409.3h0M189.5 427.1h0M189.1 409.1h0M189.4 403.7h0M189.5 429.1h0M189.2 428.0h0M189.1 432.7h0M189.3 436.2h0M189.2 438.0h0M189.4 406.1h0M189.6 423.6h0M189.5 404.5h0M189.3 424.3h0M189.2 429.2h0M189.1 426.1h0M189.9 418.6h0M190.0 438.9h0M190.9 409.1h0M191.0 421.7h0M190.6 424.9h0M190.1 426.6h0M190.5 428.7h0M189.9 420.0h0M190.5 435.2h0M191.0 435.6h0M190.0 433.6h0M189.9 396.0h0M190.2 439.1h0M190.2 438.1h0M189.6 432.1h0M189.7 402.8h0M189.8 433.0h0M189.8 418.9h0M190.1 438.4h0M190.8 417.2h0M190.4 417.2h0M190.5 408.8h0M191.0 439.0h0M190.5 409.8h0M190.6 417.6h0M190.3 412.0h0M190.7 431.5h0M189.9 426.8h0M190.9 433.9h0M190.2 438.0h0M191.0 402.6h0M190.6 435.7h0M190.4 431.0h0M191.0 436.8h0M190.7 408.6h0M191.1 434.3h0M191.1 410.7h0M191.0 436.7h0M189.9 403.6h0M191.0 432.4h0M190.3 407.4h0M189.8 413.9h0M191.2 404.7h0M191.2 429.7h0M191.4 405.0h0M191.6 426.6h0M191.2 437.5h0M191.7 431.0h0M191.7 432.7h0M191.2 410.5h0M191.4 439.1h0M191.2 410.1h0M191.1 421.0h0M191.3 403.7h0M191.3 414.2h0M191.3 402.5h0M191.1 430.3h0M191.6 393.7h0M191.3 403.3h0M191.4 421.9h0M191.1 425.5h0M207.3 421.4h0M207.9 438.4h0M207.5 437.4h0M207.7 435.5h0M207.2 438.9h0M207.4 438.0h0M207.3 434.8h0M208.4 433.4h0M207.4 429.0h0M207.8 428.3h0M207.8 439.1h0M207.8 411.5h0M208.1 435.6h0M207.5 414.9h0M207.1 437.9h0M207.4 410.4h0M208.3 416.2h0M207.6 439.0h0M207.2 427.1h0M208.0 422.6h0M207.5 438.9h0M208.2 428.0h0M207.6 438.0h0M208.3 439.1h0M207.0 438.8h0M208.0 435.0h0M207.2 421.0h0M207.8 438.3h0M208.2 436.0h0M209.5 420.9h0M208.4 423.5h0M208.6 411.5h0M209.6 436.3h0M209.2 437.9h0M209.8 432.8h0M208.6 432.4h0M209.6 437.5h0M208.5 423.3h0M209.9 433.5h0M208.5 409.7h0M209.8 415.1h0M209.7 404.3h0M209.3 411.8h0M209.5 426.7h0M209.1 403.6h0M208.8 436.5h0M208.6 437.4h0M208.8 428.4h0M209.3 436.9h0M208.5 427.1h0M208.8 427.0h0M208.8 405.6h0M209.2 405.2h0M208.7 438.2h0M209.3 438.9h0M209.6 439.0h0M209.6 415.4h0M208.7 439.0h0M208.4 413.3h0M209.6 432.0h0M208.5 422.5h0M209.4 429.8h0M208.8 433.3h0M210.3 437.8h0M210.6 431.2h0M211.5 437.1h0M211.2 432.6h0M211.5 424.6h0M211.4 438.6h0M210.6 426.4h0M210.2 436.1h0M211.2 433.2h0M210.3 429.4h0M210.4 427.8h0M210.6 424.2h0M211.4 427.5h0M210.7 437.7h0M210.2 436.0h0M211.6 434.6h0M212.1 404.7h0M212.3 438.9h0M211.7 438.7h0M212.0 429.4h0M212.1 438.7h0M212.3 411.0h0M212.4 406.2h0M212.0 410.5h0M212.2 426.5h0M212.2 425.9h0M211.9 432.6h0M212.1 422.3h0M212.5 438.2h0M211.7 438.5h0M211.6 437.5h0M212.2 436.6h0M211.7 409.5h0M212.0 434.0h0M212.5 435.3h0M211.6 433.6h0M212.5 419.9h0M212.4 437.8h0M211.6 437.9h0M213.3 438.6h0M214.0 437.1h0M212.6 422.1h0M213.9 436.6h0M213.0 437.9h0M214.0 406.9h0M213.7 439.1h0M213.6 438.7h0M213.9 409.9h0M213.3 416.5h0M213.7 438.3h0M213.2 413.7h0M214.2 429.0h0M213.4 412.2h0M214.4 432.7h0M212.7 438.5h0M213.6 438.8h0M212.8 436.2h0M214.5 415.0h0M214.0 432.7h0M214.1 406.3h0M212.9 424.0h0M213.1 438.4h0M214.3 421.0h0M213.6 418.1h0M214.2 433.0h0M214.0 410.4h0M214.4 405.5h0M212.7 429.4h0M212.7 437.7h0M214.1 413.6h0M213.7 438.1h0M213.8 434.6h0M212.7 420.7h0M214.0 407.3h0M212.9 418.7h0M213.4 438.4h0M213.2 412.3h0M212.7 438.6h0M214.4 428.0h0M215.2 437.8h0M215.1 418.9h0M214.5 415.7h0M215.8 416.1h0M216.3 415.3h0M215.6 426.4h0M214.9 438.9h0M214.8 422.7h0M215.0 436.7h0M214.7 427.4h0M215.7 419.4h0M215.8 432.3h0M215.8 436.3h0M215.2 424.1h0M214.7 432.1h0M215.0 429.8h0M215.2 436.2h0M214.6 421.6h0M215.6 427.7h0M214.8 412.3h0M215.3 436.2h0M214.8 432.5h0M215.2 433.8h0M214.7 439.0h0M214.8 430.5h0M214.9 435.9h0M216.4 414.8h0M216.2 433.4h0M215.4 438.4h0M214.9 437.8h0M215.0 438.8h0M215.3 424.8h0M216.5 430.9h0M217.0 417.3h0M217.2 437.4h0M217.0 438.2h0M216.7 429.3h0M217.0 427.0h0M216.9 437.2h0M216.8 437.8h0M216.6 430.9h0M216.7 425.7h0M217.2 437.7h0M216.7 433.4h0M217.3 429.7h0M217.1 409.5h0M217.2 421.3h0M216.4 434.6h0M216.5 420.4h0M217.1 438.1h0M216.9 433.9h0M216.6 402.9h0M217.1 405.4h0M216.5 438.2h0M216.6 425.1h0M217.2 433.9h0M217.0 437.7h0M219.3 426.7h0M218.5 435.4h0M218.8 416.3h0M218.1 428.0h0M218.8 431.0h0M218.6 438.7h0M218.7 432.3h0M219.0 428.2h0M219.3 435.9h0M219.0 434.5h0M218.8 405.3h0M219.1 429.9h0M218.2 411.7h0M218.0 406.3h0M217.9 434.5h0M217.5 438.5h0M218.9 408.6h0M219.3 414.7h0M218.4 433.2h0M217.8 438.4h0M218.1 405.1h0M218.5 430.8h0M218.2 428.9h0M219.0 420.4h0M217.6 434.3h0M218.4 434.5h0M219.2 438.9h0M218.4 419.1h0M218.6 438.5h0M219.3 415.8h0M219.3 417.6h0M218.3 433.6h0M217.7 424.3h0M218.2 422.8h0M218.7 430.4h0M219.3 437.5h0M219.2 427.1h0M217.5 437.9h0M218.0 429.7h0M219.3 421.6h0M219.0 411.2h0M218.7 436.0h0M219.2 408.1h0M219.6 439.0h0M219.5 428.8h0M220.7 438.4h0M220.0 419.4h0M220.6 402.6h0M220.2 437.9h0M219.8 400.5h0M220.7 432.7h0M220.0 425.3h0M219.8 438.8h0M219.5 427.4h0M219.8 437.5h0M220.9 422.1h0M219.6 420.2h0M220.5 438.8h0M220.9 435.7h0M220.7 404.6h0M219.7 424.8h0M220.4 439.1h0M221.0 435.4h0M220.5 413.0h0M221.0 406.0h0M220.7 423.5h0M220.5 400.4h0M220.5 436.5h0M220.1 435.4h0M220.7 428.6h0M220.4 438.4h0M220.2 426.5h0M220.7 431.2h0M220.9 399.1h0M221.0 399.2h0M219.5 432.4h0M220.4 438.9h0M219.5 407.6h0M220.1 431.0h0M221.0 426.5h0M220.0 420.3h0M219.5 436.0h0M221.1 430.2h0M220.0 433.2h0M219.4 414.4h0M220.2 434.0h0M219.5 416.1h0M221.1 428.4h0M220.8 415.6h0M222.4 435.1h0M222.1 438.5h0M221.5 419.8h0M221.3 419.3h0M222.6 437.9h0M222.3 438.6h0M221.4 431.9h0M222.1 424.6h0M221.6 435.7h0M221.7 412.4h0M221.9 424.4h0M221.7 437.7h0M222.2 434.8h0M222.6 439.1h0M221.5 436.9h0M221.8 437.9h0M221.2 419.0h0M221.8 436.9h0M222.0 434.2h0M221.4 410.3h0M221.2 417.5h0M221.4 429.3h0M221.9 412.9h0M222.2 429.7h0M222.2 413.9h0M222.5 433.3h0M222.5 431.6h0M223.6 431.0h0M223.3 427.3h0M223.5 424.9h0M222.7 439.1h0M222.9 406.4h0M222.9 429.6h0M223.5 417.0h0M223.0 427.7h0M222.9 435.1h0M223.7 437.1h0M223.7 419.2h0M222.8 407.3h0M223.7 411.4h0M222.8 411.4h0M223.1 432.5h0M223.4 428.8h0M223.6 437.7h0M223.7 409.9h0M223.3 413.1h0M222.8 419.5h0M223.5 426.0h0M223.2 438.9h0M223.7 438.4h0M223.5 428.6h0M222.9 408.1h0M223.6 412.6h0M223.8 434.9h0M224.8 424.5h0M224.1 438.8h0M223.9 423.8h0M224.7 426.5h0M224.9 434.5h0M224.0 419.4h0M224.0 438.8h0M224.8 433.5h0M224.8 438.5h0M224.7 431.9h0M225.0 422.8h0M224.9 423.3h0M224.3 417.1h0M224.1 438.8h0M224.3 432.8h0M225.0 437.2h0M223.9 427.4h0M225.6 434.9h0M225.1 421.5h0M225.6 424.1h0M225.0 436.4h0M225.1 437.7h0M226.1 436.2h0M225.4 425.0h0M225.4 438.8h0M225.6 433.6h0M225.5 427.8h0M226.1 423.8h0M225.8 415.4h0M225.6 423.5h0M225.5 420.1h0M225.7 422.5h0M225.0 436.2h0M225.1 427.2h0M225.8 421.4h0M227.1 430.0h0M227.4 429.9h0M226.9 434.2h0M227.3 437.4h0M226.4 438.8h0M227.0 439.1h0M227.5 412.0h0M227.1 438.8h0M226.7 406.8h0M227.9 438.1h0M227.9 436.3h0M226.6 437.3h0M228.3 434.2h0M227.3 425.1h0M227.0 422.5h0M227.1 437.5h0M228.3 438.8h0M228.3 407.9h0M227.7 430.3h0M227.7 412.0h0M226.7 410.9h0M227.1 407.7h0M226.2 420.6h0M227.0 420.1h0M226.5 433.2h0M228.0 434.0h0M226.8 417.7h0M227.8 439.0h0M227.4 428.1h0M228.0 439.1h0M226.8 421.7h0M227.3 420.3h0M228.0 432.3h0M228.1 431.0h0M227.5 439.0h0M227.5 432.3h0M227.8 438.9h0M227.3 438.6h0M227.4 418.3h0M227.8 437.0h0M226.2 435.6h0M228.1 428.2h0M226.6 439.1h0M228.4 414.4h0M228.3 438.1h0M228.4 437.1h0M228.5 413.5h0M228.5 438.2h0M228.5 435.0h0M207.4 412.7h0M208.0 405.8h0M207.4 423.4h0M207.8 421.1h0M207.4 415.6h0M208.7 425.7h0M209.4 402.9h0M209.8 413.6h0M209.6 437.1h0M208.4 418.5h0M209.0 402.1h0M209.3 405.6h0M211.0 434.2h0M210.6 428.6h0M211.6 411.5h0M211.4 420.6h0M210.8 438.7h0M211.3 405.6h0M211.8 412.1h0M212.0 410.5h0M212.5 423.8h0M212.3 420.5h0M212.6 433.4h0M213.6 413.5h0M213.3 399.9h0M213.8 432.4h0M213.5 400.4h0M213.3 436.0h0M214.4 416.9h0M214.7 409.9h0M214.8 426.8h0M217.0 411.5h0M215.2 413.6h0M215.2 434.4h0M215.9 428.4h0M216.5 400.2h0M216.1 434.9h0M216.3 420.4h0M216.8 409.8h0M217.0 412.7h0M217.1 411.0h0M218.5 425.2h0M218.5 407.3h0M218.5 413.6h0M218.5 431.3h0M217.7 420.0h0M218.1 434.4h0M218.9 437.3h0M219.3 399.7h0M219.3 416.6h0M219.0 430.2h0M220.1 425.0h0M220.8 414.7h0M220.0 412.3h0M220.5 425.7h0M220.4 425.8h0M221.2 406.6h0M220.9 424.0h0M221.5 435.5h0M221.2 395.0h0M222.4 428.8h0M221.7 412.7h0M222.7 412.0h0M222.9 418.4h0M221.7 410.5h0M225.1 423.1h0M223.6 422.3h0M225.2 436.7h0M225.4 437.0h0M223.8 418.2h0M224.8 414.5h0M226.4 417.5h0M227.1 426.1h0M226.6 433.6h0M227.2 437.3h0M226.1 420.3h0M227.7 415.5h0M227.8 429.5h0M228.4 417.1h0M232.2 438.5h0M232.0 414.2h0M231.8 438.2h0M232.2 427.6h0M231.9 422.4h0M231.7 437.1h0M232.2 423.7h0M232.3 425.7h0M232.0 422.0h0M232.1 436.9h0M232.2 427.3h0M232.1 426.9h0M231.7 413.2h0M231.6 425.0h0M231.8 432.1h0M233.4 422.4h0M232.8 426.4h0M232.9 435.5h0M233.3 437.3h0M232.5 434.7h0M232.9 422.7h0M233.3 438.2h0M233.9 431.1h0M233.9 439.1h0M232.8 432.9h0M233.8 434.4h0M233.1 426.1h0M232.6 437.0h0M232.4 416.5h0M232.7 415.7h0M232.6 418.7h0M233.7 417.1h0M233.2 421.3h0M233.5 435.7h0M233.8 437.2h0M233.0 435.9h0M232.9 436.4h0M233.1 435.9h0M232.3 432.7h0M233.3 434.4h0M233.7 423.5h0M233.1 439.1h0M233.7 423.5h0M233.2 419.4h0M235.0 437.3h0M234.9 417.6h0M235.1 437.9h0M235.3 430.1h0M235.5 423.6h0M234.5 425.1h0M235.2 414.0h0M235.0 438.7h0M235.0 410.6h0M234.7 439.1h0M235.2 431.3h0M235.4 438.9h0M235.7 425.1h0M234.5 436.7h0M234.8 438.9h0M234.3 431.6h0M235.9 430.1h0M234.3 421.6h0M236.0 423.5h0M235.4 434.1h0M235.0 438.9h0M234.4 436.5h0M234.1 433.0h0M235.1 413.8h0M236.2 420.2h0M234.1 428.6h0M235.1 411.8h0M235.4 430.8h0M235.2 439.1h0M235.3 425.1h0M235.0 439.1h0M236.0 431.6h0M235.3 413.3h0M234.7 413.0h0M234.9 426.6h0M234.6 417.6h0M235.2 431.0h0M235.8 407.2h0M235.0 432.0h0M234.3 429.4h0M235.2 425.0h0M234.6 407.9h0M235.6 429.4h0M236.1 423.2h0M235.6 431.3h0M236.2 430.8h0M236.0 430.5h0M237.6 429.4h0M237.2 432.9h0M236.3 425.8h0M237.1 424.5h0M237.9 434.9h0M237.9 439.1h0M237.9 433.0h0M237.7 434.9h0M236.5 435.5h0M237.4 438.6h0M236.9 437.9h0M236.2 436.9h0M237.4 429.5h0M236.9 415.9h0M237.3 439.0h0M236.5 433.5h0M236.9 435.7h0M236.6 438.9h0M236.6 421.7h0M237.0 438.7h0M237.2 433.3h0M237.6 428.3h0M236.9 431.8h0M236.6 438.2h0M236.4 425.7h0M237.7 423.3h0M236.3 435.3h0M238.9 432.5h0M238.3 395.1h0M238.2 438.9h0M238.4 423.6h0M239.0 430.0h0M238.6 424.0h0M239.0 436.0h0M238.9 428.3h0M238.4 390.2h0M238.7 397.1h0M238.9 427.7h0M238.5 422.3h0M238.4 434.9h0M238.3 437.3h0M238.7 427.3h0M238.3 431.8h0M237.9 398.1h0M238.5 427.6h0M238.1 422.7h0M238.4 435.9h0M238.8 432.7h0M238.9 430.3h0M238.3 431.7h0M238.1 427.0h0M238.9 407.6h0M238.1 399.4h0M238.5 388.0h0M239.0 439.0h0M238.2 432.8h0M238.4 437.4h0M238.5 435.6h0M238.3 437.2h0M238.7 429.3h0M238.7 404.0h0M238.7 429.1h0M238.3 439.0h0M238.3 438.6h0M239.8 408.2h0M239.0 429.8h0M239.8 435.0h0M239.7 423.9h0M239.6 408.2h0M239.3 414.0h0M239.1 413.5h0M239.7 424.4h0M239.2 419.3h0M239.2 414.8h0M239.7 436.9h0M239.2 437.4h0M240.0 407.9h0M239.5 433.3h0M239.4 425.8h0M239.3 437.7h0M239.5 437.7h0M239.1 424.5h0M239.9 422.4h0M239.7 439.1h0M239.2 437.1h0M239.3 435.5h0M239.4 412.1h0M240.2 438.9h0M241.0 431.6h0M240.9 434.6h0M240.4 438.6h0M240.6 421.2h0M240.1 435.4h0M240.3 429.1h0M241.0 422.9h0M240.6 438.1h0M240.4 438.4h0M240.8 432.2h0M241.0 420.7h0M240.2 428.6h0M240.7 416.4h0M240.3 421.5h0M240.3 422.5h0M240.4 434.7h0M241.3 436.4h0M241.6 405.4h0M241.8 430.2h0M242.0 434.6h0M241.1 438.7h0M241.8 423.8h0M241.4 425.6h0M242.1 423.6h0M241.5 415.6h0M242.2 438.9h0M241.5 432.7h0M241.5 412.6h0M241.9 412.6h0M241.8 424.0h0M242.2 434.3h0M241.9 425.7h0M242.1 404.6h0M241.7 438.7h0M241.4 430.9h0M241.3 406.0h0M242.3 414.4h0M242.3 435.3h0M242.0 420.2h0M241.1 422.9h0M241.7 425.2h0M242.3 426.6h0M241.3 439.1h0M242.1 420.4h0M242.2 434.0h0M242.6 408.5h0M242.8 412.1h0M243.2 438.0h0M242.5 400.5h0M242.6 439.0h0M244.0 407.0h0M242.4 438.7h0M243.7 429.4h0M243.1 430.5h0M243.5 434.9h0M243.0 421.7h0M243.0 399.9h0M243.5 416.8h0M242.6 438.8h0M243.2 439.0h0M242.9 433.1h0M243.5 434.5h0M243.1 438.9h0M243.2 439.1h0M242.8 427.8h0M242.5 422.4h0M242.4 439.0h0M243.6 423.4h0M243.4 428.3h0M244.0 418.8h0M242.9 435.5h0M242.8 437.2h0M242.7 431.9h0M243.4 422.5h0M243.7 405.3h0M242.7 438.4h0M244.0 438.8h0M242.6 410.6h0M242.8 409.0h0M243.9 428.1h0M243.1 437.5h0M243.7 438.6h0M242.7 398.2h0M243.5 401.3h0M242.7 439.0h0M243.8 423.2h0M242.8 403.2h0M243.3 435.0h0M244.1 398.9h0M242.9 435.5h0M243.4 414.8h0M243.5 418.7h0M243.8 438.2h0M245.1 407.6h0M244.2 424.7h0M244.2 429.0h0M245.3 430.8h0M244.4 406.8h0M244.7 433.8h0M245.5 420.5h0M244.5 405.7h0M245.5 437.8h0M244.8 437.4h0M244.6 399.7h0M245.7 429.5h0M245.6 411.2h0M245.7 412.5h0M245.0 418.4h0M244.1 432.3h0M244.2 430.8h0M245.1 417.1h0M244.4 430.1h0M245.6 403.0h0M245.0 433.4h0M244.4 438.8h0M245.1 437.5h0M244.8 418.5h0M245.0 399.3h0M244.3 435.3h0M244.2 426.8h0M245.4 407.6h0M245.6 420.5h0M245.1 434.3h0M244.4 407.5h0M244.9 424.0h0M245.5 424.6h0M244.9 437.5h0M244.3 438.9h0M245.1 434.6h0M245.2 426.6h0M244.3 418.6h0M244.6 436.2h0M244.9 439.1h0M245.2 425.1h0M244.1 438.9h0M245.7 434.4h0M244.5 438.7h0M246.5 426.5h0M246.2 430.3h0M246.2 437.1h0M246.5 421.7h0M246.9 435.2h0M247.5 423.2h0M245.7 432.9h0M247.2 431.4h0M246.0 413.0h0M246.3 428.8h0M246.6 423.6h0M245.8 436.1h0M246.8 439.0h0M247.0 414.8h0M246.6 437.1h0M246.3 437.9h0M246.2 419.6h0M247.3 423.0h0M246.1 436.2h0M247.3 438.0h0M246.2 415.0h0M246.2 417.1h0M247.3 425.1h0M246.4 435.9h0M247.2 418.7h0M246.6 424.1h0M247.4 435.1h0M246.1 424.7h0M246.7 434.8h0M247.0 434.9h0M246.5 432.8h0M247.4 434.9h0M247.1 431.3h0M246.2 433.6h0M247.6 434.2h0M247.6 433.3h0M248.4 412.3h0M248.0 431.8h0M247.6 428.3h0M247.9 426.1h0M248.5 433.3h0M248.2 439.0h0M248.2 439.1h0M248.6 409.6h0M248.7 416.8h0M247.7 429.6h0M248.6 435.9h0M248.4 438.9h0M248.3 438.5h0M247.5 412.5h0M248.6 426.7h0M248.7 411.8h0M247.9 435.6h0M248.2 419.0h0M247.5 439.1h0M248.3 420.7h0M248.7 423.2h0M248.0 421.1h0M248.3 434.7h0M248.9 435.4h0M248.9 438.5h0M248.9 427.1h0M232.3 415.0h0M231.9 427.3h0M231.9 429.5h0M231.7 422.9h0M233.0 429.8h0M233.4 419.7h0M234.5 395.6h0M233.9 432.9h0M234.2 409.5h0M233.8 434.8h0M233.6 400.9h0M234.6 400.0h0M235.0 385.0h0M236.2 421.8h0M235.8 406.2h0M235.5 422.1h0M234.8 436.0h0M235.3 411.3h0M234.8 436.5h0M234.7 433.4h0M235.5 418.0h0M236.8 415.3h0M237.1 392.2h0M236.7 408.8h0M237.3 395.0h0M237.5 397.7h0M237.5 430.4h0M238.8 427.8h0M237.5 397.3h0M238.7 436.2h0M237.8 399.4h0M238.2 415.8h0M238.9 396.1h0M239.4 392.6h0M239.2 410.9h0M239.6 435.1h0M239.7 407.7h0M240.4 427.4h0M239.8 434.1h0M240.8 427.3h0M240.2 409.5h0M241.0 407.9h0M241.3 419.2h0M241.9 433.8h0M241.9 389.4h0M242.2 423.5h0M241.7 407.9h0M241.8 421.9h0M243.0 415.8h0M243.0 412.6h0M242.7 438.3h0M242.7 426.3h0M244.4 406.4h0M244.4 398.5h0M243.4 407.4h0M244.0 425.8h0M244.1 399.2h0M243.7 423.8h0M243.5 407.8h0M245.6 429.4h0M245.3 431.9h0M245.5 428.7h0M245.2 420.7h0M245.2 425.5h0M246.4 400.7h0M246.4 400.4h0M246.3 404.3h0M246.5 399.4h0M246.8 420.9h0M246.7 387.3h0M247.6 430.6h0M247.4 436.8h0M247.5 395.6h0M248.8 427.2h0M247.8 393.9h0M248.1 416.6h0M248.4 433.6h0M247.8 421.3h0M248.5 395.2h0M271.6 437.9h0M271.5 419.6h0M271.5 420.0h0M271.5 430.6h0M271.0 401.6h0M271.5 437.3h0M271.9 391.6h0M271.2 418.9h0M271.9 411.4h0M271.5 417.1h0M271.3 381.9h0M271.7 433.5h0M271.3 435.8h0M271.5 376.6h0M271.3 394.2h0M271.3 390.4h0M271.5 434.4h0M271.6 376.6h0M271.8 412.5h0M271.9 404.3h0M271.3 424.0h0M271.8 425.5h0M271.4 438.6h0M271.4 404.8h0M271.5 417.4h0M271.7 394.0h0M271.5 404.0h0M271.7 405.4h0M271.3 435.2h0M271.2 427.2h0M271.6 416.0h0M271.9 376.1h0M272.3 427.2h0M272.1 415.0h0M272.3 403.6h0M272.3 395.4h0M272.9 409.2h0M272.7 419.8h0M272.1 410.0h0M272.4 437.8h0M272.6 392.3h0M272.0 388.8h0M273.0 415.3h0M272.6 428.0h0M272.7 401.6h0M272.3 376.9h0M272.7 378.7h0M272.2 390.0h0M272.5 438.9h0M272.6 430.8h0M272.5 435.4h0M272.8 375.2h0M272.5 438.4h0M272.4 431.0h0M272.3 392.1h0M272.9 428.2h0M272.4 392.9h0M272.1 436.5h0M272.9 438.1h0M272.7 414.1h0M272.8 412.6h0M271.9 372.4h0M272.7 432.7h0M272.4 394.5h0M273.0 408.3h0M272.3 418.1h0M272.9 404.4h0M272.3 433.3h0M272.9 414.7h0M288.3 438.9h0M288.6 438.5h0M288.3 434.2h0M288.1 433.5h0M288.2 431.7h0M288.3 438.9h0M288.3 439.1h0M289.1 437.8h0M288.1 436.9h0M289.8 437.1h0M289.7 437.4h0M289.9 432.2h0M289.4 429.1h0M289.4 438.3h0M289.8 424.4h0M289.4 432.7h0M290.1 437.3h0M290.6 423.9h0M290.2 426.0h0M290.1 426.4h0M290.3 424.4h0M290.6 437.6h0M290.1 435.9h0M290.7 438.1h0M292.7 421.9h0M291.2 410.6h0M292.3 438.7h0M291.4 427.6h0M291.3 426.7h0M291.9 423.9h0M291.8 431.8h0M290.9 413.9h0M291.6 434.8h0M290.7 421.8h0M291.3 434.2h0M292.1 420.6h0M292.8 432.3h0M291.5 429.0h0M292.5 407.7h0M292.1 437.8h0M291.3 423.2h0M292.1 438.8h0M292.1 431.1h0M292.1 412.3h0M291.7 432.5h0M291.3 431.0h0M292.1 430.9h0M291.9 418.4h0M291.1 412.2h0M291.6 418.0h0M290.7 419.4h0M291.3 424.4h0M292.3 434.6h0M291.4 412.4h0M291.1 437.5h0M292.3 418.6h0M291.3 418.2h0M291.1 432.1h0M292.7 438.4h0M292.1 405.5h0M291.3 439.0h0M292.6 422.6h0M291.7 411.2h0M292.2 439.0h0M292.4 418.2h0M293.1 432.6h0M292.8 430.8h0M292.9 423.6h0M293.1 438.5h0M292.8 434.9h0M293.1 431.0h0M292.9 432.6h0M293.1 438.9h0M293.1 439.1h0M292.8 437.1h0M294.3 430.4h0M293.5 432.4h0M293.9 427.6h0M295.2 426.2h0M293.9 438.4h0M294.7 438.9h0M294.7 433.9h0M293.6 439.1h0M295.1 437.8h0M294.0 437.6h0M294.5 429.4h0M293.7 438.1h0M295.1 430.8h0M295.2 439.1h0M293.6 438.7h0M293.4 434.3h0M294.4 435.7h0M296.1 409.4h0M297.0 438.3h0M296.4 426.6h0M295.4 433.4h0M295.6 427.0h0M296.4 438.7h0M296.6 425.1h0M295.9 413.6h0M295.9 437.9h0M297.0 425.2h0M296.4 432.3h0M296.8 432.2h0M296.0 433.4h0M297.0 435.0h0M297.0 434.6h0M295.8 437.8h0M295.9 437.2h0M296.9 411.2h0M296.1 439.0h0M296.1 433.8h0M296.7 426.8h0M296.3 417.9h0M295.7 439.0h0M297.0 419.2h0M296.7 438.7h0M296.6 432.7h0M295.6 438.9h0M295.4 438.7h0M296.0 439.1h0M296.0 430.3h0M295.2 428.2h0M296.3 436.2h0M297.9 438.3h0M297.1 432.5h0M297.8 437.6h0M297.3 428.3h0M298.1 434.8h0M297.3 414.4h0M297.3 423.9h0M297.8 421.7h0M297.5 421.5h0M297.2 437.9h0M297.4 426.5h0M297.6 431.0h0M298.0 432.3h0M297.2 435.7h0M298.0 435.9h0M298.0 438.4h0M298.2 432.7h0M298.3 431.2h0M297.2 421.9h0M297.7 429.3h0M297.9 436.6h0M297.8 438.8h0M298.8 439.1h0M298.6 438.7h0M299.2 435.5h0M298.7 433.6h0M299.0 437.4h0M298.7 437.5h0M299.2 431.2h0M298.7 438.7h0M299.5 430.8h0M300.2 432.5h0M299.4 431.3h0M299.7 434.4h0M300.0 416.6h0M300.0 431.2h0M299.5 430.8h0M299.4 437.9h0M300.1 430.8h0M300.2 438.9h0M299.4 436.8h0M299.4 434.6h0M299.7 423.6h0M299.6 433.8h0M300.9 427.0h0M300.5 438.6h0M301.0 439.0h0M301.1 438.1h0M300.5 439.0h0M300.3 437.5h0M301.0 436.0h0M300.4 433.8h0M301.4 436.5h0M301.5 433.3h0M302.0 439.0h0M301.4 425.7h0M301.8 431.7h0M301.7 425.9h0M301.6 439.0h0M302.0 435.3h0M302.0 422.3h0M302.7 432.5h0M302.5 429.8h0M302.6 435.6h0M302.8 434.7h0M302.7 438.0h0M302.8 439.1h0M302.9 438.8h0M303.4 436.3h0M303.3 430.9h0M302.9 438.3h0M303.4 435.4h0M303.6 432.8h0M303.7 437.2h0M304.8 437.1h0M303.0 431.6h0M303.9 438.5h0M303.6 438.3h0M303.7 437.2h0M304.4 427.8h0M304.0 434.7h0M303.0 427.3h0M303.7 433.2h0M305.0 438.0h0M288.3 429.8h0M288.8 424.3h0M288.8 426.2h0M288.3 414.7h0M290.3 427.7h0M289.8 417.0h0M289.2 420.0h0M290.0 439.1h0M289.6 409.7h0M289.5 421.2h0M291.0 413.5h0M290.9 418.2h0M291.1 437.3h0M292.4 420.1h0M292.0 428.3h0M292.6 421.4h0M293.2 413.3h0M292.7 410.5h0M295.1 421.6h0M295.0 428.2h0M295.0 403.6h0M293.8 428.2h0M294.6 428.0h0M293.4 429.2h0M295.9 424.7h0M295.2 434.2h0M297.0 426.3h0M297.4 423.0h0M297.9 433.1h0M297.4 438.4h0M296.4 415.4h0M299.0 425.0h0M298.9 430.3h0M298.6 436.6h0M298.2 412.0h0M299.6 425.6h0M298.2 427.6h0M300.4 429.5h0M300.9 418.6h0M300.7 426.9h0M300.2 412.6h0M301.6 430.6h0M301.0 432.1h0M301.8 412.7h0M302.3 416.1h0M302.9 437.7h0M302.5 425.2h0M303.4 435.3h0M303.9 416.8h0M304.3 429.6h0M304.0 438.9h0M304.4 417.7h0M305.0 423.4h0M71.9 438.4h0M71.8 435.1h0M72.0 402.8h0M71.4 436.4h0M71.8 431.7h0M72.1 437.9h0M71.1 436.9h0M71.5 437.4h0M72.0 437.3h0M71.5 411.4h0M72.0 403.5h0M75.4 419.8h0M75.3 426.8h0M75.4 420.6h0M75.0 416.0h0M75.1 418.5h0M75.1 421.9h0M75.5 423.0h0M64.7 431.6h0M64.7 412.2h0M65.1 427.8h0M65.6 420.2h0M64.6 413.0h0M65.7 420.8h0M65.0 420.2h0M65.1 422.7h0M59.8 424.2h0M59.4 425.3h0M59.6 424.9h0M59.7 419.1h0M59.6 415.5h0M59.6 415.1h0M59.7 436.9h0M79.4 415.4h0M78.4 430.5h0M79.7 411.6h0M78.3 439.0h0M79.3 436.5h0M79.3 424.0h0M78.9 413.8h0M79.0 415.7h0M78.9 415.9h0M56.5 430.9h0M57.2 436.2h0M56.8 430.5h0M57.2 413.8h0M58.0 430.2h0M56.8 425.0h0M56.7 426.2h0M57.4 433.0h0M57.7 437.6h0M57.2 427.8h0M62.0 408.4h0M62.2 413.4h0M61.5 409.5h0M61.9 434.3h0M61.7 415.1h0M61.8 404.1h0M61.5 420.7h0M61.7 410.2h0M62.5 438.8h0M61.6 424.8h0M58.1 423.9h0M58.6 425.2h0M58.3 425.0h0M58.6 413.5h0M59.0 422.5h0M58.1 424.2h0M58.3 417.8h0M58.1 425.2h0M101.7 409.9h0M102.2 438.5h0M101.7 413.4h0M101.8 408.6h0M102.1 413.4h0M101.7 434.3h0M102.0 409.9h0M102.3 426.7h0M101.8 422.2h0M98.7 436.1h0M98.1 437.1h0M98.1 408.3h0M98.7 421.0h0M98.5 404.7h0M97.9 419.0h0M98.3 435.5h0M97.9 418.0h0M103.0 421.8h0M103.0 429.4h0M102.6 399.4h0M103.1 406.1h0M102.6 398.4h0M102.9 401.5h0M102.9 436.0h0M102.9 423.6h0M103.0 411.2h0M102.6 408.5h0M102.8 417.9h0M94.3 435.3h0M93.8 431.0h0M94.8 421.6h0M93.7 419.8h0M94.6 433.0h0M94.2 428.2h0M129.6 426.2h0M129.3 438.2h0M129.3 414.2h0M129.2 433.6h0M129.8 419.6h0M129.9 410.5h0M129.3 403.1h0M129.6 410.9h0M129.9 419.0h0M129.8 428.3h0M129.8 398.3h0M129.5 433.7h0M129.8 404.4h0M132.8 406.1h0M132.1 432.8h0M132.0 426.3h0M131.9 412.7h0M133.0 397.9h0M132.6 397.1h0M132.3 395.8h0M132.2 435.0h0M132.6 405.7h0M132.5 399.5h0M132.3 393.6h0M133.1 404.6h0M132.0 408.5h0M133.1 395.0h0M153.6 434.2h0M153.1 412.4h0M153.5 435.2h0M153.2 397.9h0M153.0 426.3h0M153.5 415.9h0M152.9 439.0h0M153.0 400.3h0M153.3 433.3h0M153.0 398.9h0M152.9 398.5h0M153.0 389.1h0M153.4 405.5h0M148.7 423.9h0M148.6 426.8h0M149.0 384.4h0M148.5 425.2h0M148.4 404.9h0M149.0 410.1h0M148.3 398.6h0M149.0 386.0h0M149.1 433.7h0M149.2 402.3h0M148.6 426.2h0M148.9 407.6h0M148.6 438.6h0M149.0 392.1h0M158.7 420.7h0M158.7 411.4h0M158.8 395.4h0M158.7 400.8h0M159.1 408.9h0M158.9 416.6h0M158.8 421.0h0M158.9 437.6h0M159.2 412.8h0M158.6 438.9h0M158.6 407.7h0M149.5 396.1h0M149.5 395.5h0M149.5 411.3h0M148.9 423.8h0M149.5 431.6h0M148.9 390.6h0M149.0 423.0h0M149.1 419.0h0M149.5 419.9h0M149.2 433.7h0M149.4 417.8h0M149.4 411.2h0M169.4 390.1h0M169.3 428.0h0M169.6 419.3h0M169.4 414.9h0M169.4 398.9h0M168.5 391.5h0M168.9 434.8h0M169.4 396.6h0M169.2 429.7h0M169.3 431.9h0M168.9 419.2h0M168.5 407.2h0M169.2 424.0h0M179.8 435.7h0M179.5 417.2h0M179.7 422.7h0M179.4 434.8h0M179.1 386.5h0M179.2 383.4h0M179.6 399.9h0M179.3 389.0h0M179.8 417.2h0M179.3 419.6h0M179.3 408.7h0M179.2 417.5h0M179.4 408.8h0M179.8 396.1h0M170.5 400.2h0M170.5 389.1h0M169.6 428.2h0M170.2 413.4h0M169.9 395.5h0M169.7 413.8h0M170.9 407.5h0M170.1 436.0h0M170.1 414.8h0M170.1 433.5h0M170.2 408.0h0M169.8 408.1h0M170.7 388.1h0M178.3 392.7h0M178.9 415.1h0M179.3 400.2h0M179.0 424.1h0M178.8 429.7h0M179.0 409.5h0M179.4 429.2h0M178.7 395.0h0M178.5 397.5h0M178.8 421.1h0M179.5 430.1h0M212.9 393.8h0M212.6 431.6h0M211.9 404.7h0M212.4 414.7h0M211.5 411.4h0M211.9 414.8h0M212.0 410.9h0M211.5 401.9h0M211.8 433.2h0M212.4 428.8h0M212.6 416.6h0M212.1 418.1h0M210.4 403.2h0M210.4 397.8h0M210.6 415.7h0M210.5 420.2h0M210.3 423.0h0M210.7 396.1h0M210.3 394.7h0M210.9 406.0h0M210.5 421.6h0M210.9 435.6h0M210.2 415.4h0M225.2 429.2h0M224.7 421.2h0M225.5 412.3h0M224.6 438.0h0M224.5 407.2h0M224.4 426.2h0M224.3 426.3h0M225.4 414.4h0M225.2 433.2h0M225.3 395.3h0M224.4 415.5h0M225.5 393.2h0M223.0 418.7h0M223.0 407.2h0M223.3 409.3h0M223.2 414.5h0M222.5 409.2h0M222.8 425.6h0M223.1 427.9h0M223.3 417.4h0M223.0 422.6h0M222.7 420.2h0M207.2 435.6h0M207.4 420.3h0M207.2 424.1h0M207.4 429.8h0M206.9 438.7h0M207.2 430.1h0M207.2 408.1h0M206.9 430.8h0M207.6 418.1h0M206.9 405.5h0M241.2 425.3h0M241.0 409.5h0M241.0 406.6h0M241.1 404.6h0M241.2 410.0h0M241.0 414.4h0M240.8 402.2h0M241.3 419.9h0M240.9 398.3h0M241.3 391.8h0M240.8 402.3h0M241.2 422.9h0M240.9 419.9h0M241.3 427.1h0M241.0 386.8h0M241.4 399.4h0M238.5 435.8h0M237.9 425.3h0M238.0 404.8h0M238.6 389.2h0M237.9 420.1h0M238.6 415.3h0M238.0 432.7h0M238.2 425.6h0M238.3 381.7h0M238.1 414.3h0M238.6 393.6h0M238.6 393.4h0M238.5 407.5h0M237.9 436.3h0M238.1 395.1h0M237.9 395.4h0M238.2 436.5h0M237.9 437.1h0M245.3 396.9h0M245.1 409.7h0M245.3 411.9h0M244.5 412.2h0M245.1 431.9h0M244.7 401.3h0M245.2 415.4h0M245.3 406.9h0M244.9 423.7h0M245.1 398.9h0M244.7 413.5h0M245.1 419.1h0M244.8 396.7h0M245.3 396.7h0M245.1 425.0h0M241.1 428.7h0M241.6 385.1h0M241.2 427.2h0M240.9 412.4h0M241.8 392.8h0M241.1 402.1h0M240.9 414.5h0M241.5 438.5h0M241.5 404.2h0M241.3 381.3h0M240.8 381.6h0M241.7 388.6h0M241.3 399.2h0M241.9 430.1h0M241.6 413.8h0M240.8 399.6h0M241.6 417.3h0M243.9 411.6h0M244.1 401.8h0M244.1 421.1h0M244.1 409.4h0M243.5 395.2h0M243.9 437.0h0M243.6 404.3h0M244.1 410.9h0M243.9 417.7h0M243.5 407.6h0M244.0 412.0h0M243.6 402.4h0M243.8 396.8h0M243.5 423.5h0M240.6 397.3h0M240.6 394.7h0M240.7 406.6h0M240.7 399.9h0M241.1 429.5h0M240.8 368.6h0M240.8 375.0h0M241.0 394.2h0M241.3 374.6h0M241.3 367.3h0M240.7 425.4h0M241.0 424.3h0M240.6 423.8h0M241.0 372.3h0M240.9 383.1h0M241.0 390.0h0M241.0 393.5h0M241.4 403.6h0M241.2 419.1h0M240.6 415.6h0M240.9 373.9h0M241.6 377.7h0M241.2 357.9h0M241.7 386.8h0M241.6 383.4h0M241.2 366.5h0M241.3 395.0h0M241.6 436.1h0M241.4 427.3h0M241.4 426.1h0M241.4 398.5h0M241.6 437.8h0M241.8 380.6h0M241.2 357.1h0M241.9 406.8h0M241.4 370.9h0M241.2 411.0h0M241.9 404.8h0M241.1 422.7h0M241.1 373.1h0M241.9 356.6h0M241.5 432.6h0M301.1 426.5h0M301.3 407.6h0M300.9 403.9h0M301.2 435.9h0M300.9 413.9h0M300.9 408.8h0M301.1 434.9h0M301.6 410.0h0M301.3 412.7h0M295.3 424.9h0M295.5 430.3h0M294.9 431.7h0M295.6 430.5h0M295.4 423.2h0M295.6 429.8h0M295.5 431.3h0M295.5 425.0h0M289.7 406.6h0M290.0 410.6h0M289.5 413.7h0M289.2 436.8h0M289.1 438.0h0M289.2 433.2h0M289.4 423.9h0M290.1 422.1h0M289.4 434.2h0M289.8 422.5h0M219.2 396.3h0M219.2 393.0h0M220.1 412.2h0M218.9 371.6h0M220.0 414.9h0M219.3 402.1h0M219.1 395.1h0M219.2 399.1h0M219.1 414.2h0M220.0 382.9h0M219.2 429.6h0M219.6 387.7h0M219.0 419.8h0M220.3 391.6h0M220.3 380.6h0M219.4 415.4h0M218.8 383.2h0M220.2 403.0h0M219.4 391.2h0M219.2 380.7h0M217.7 394.5h0M217.5 437.6h0M218.6 386.4h0M218.2 393.9h0M217.5 392.7h0M218.4 439.0h0M218.4 400.2h0M218.2 404.9h0M218.1 406.9h0M217.8 396.5h0M217.9 394.5h0M218.2 418.2h0M218.0 411.7h0M218.5 397.0h0M218.1 404.9h0M217.8 434.7h0M217.9 388.1h0M218.6 399.6h0M216.7 394.1h0M216.9 393.9h0M217.1 406.9h0M217.5 422.7h0M216.8 379.6h0M216.8 378.9h0M216.8 389.1h0M218.0 377.8h0M217.0 378.4h0M217.9 380.9h0M217.5 393.8h0M216.9 396.4h0M216.9 385.8h0M217.7 402.3h0M218.2 417.0h0M216.8 384.6h0M217.9 385.9h0M217.7 405.3h0M245.9 371.7h0M245.8 436.9h0M245.9 431.6h0M245.9 405.1h0M245.5 392.5h0M245.5 404.0h0M245.1 420.9h0M245.4 434.3h0M245.0 420.6h0M245.4 395.4h0M245.1 418.0h0M245.4 410.4h0M245.1 428.5h0M245.2 409.8h0M245.6 426.1h0M245.0 418.6h0M244.8 395.2h0M245.6 404.5h0M244.8 397.1h0M245.5 389.4h0M245.7 425.0h0M245.8 433.6h0M245.8 422.1h0M245.7 438.4h0M244.8 437.2h0M237.7 397.0h0M238.5 421.4h0M238.2 402.0h0M237.9 399.0h0M238.3 394.0h0M238.1 419.9h0M238.4 415.9h0M237.8 437.0h0M238.0 389.9h0M238.3 420.8h0M237.8 411.5h0M238.0 395.2h0M238.2 418.9h0M238.3 392.9h0M238.4 401.4h0M238.3 392.4h0M238.0 393.6h0M237.9 435.2h0M237.6 436.8h0M237.7 428.9h0M243.5 389.6h0M242.9 418.0h0M242.7 393.3h0M242.4 430.6h0M243.4 418.0h0M243.3 421.9h0M242.5 434.1h0M242.9 419.7h0M242.4 397.2h0M242.9 396.7h0M242.6 435.3h0M243.2 413.9h0M242.6 431.9h0M243.2 417.6h0M242.4 427.2h0M242.6 426.2h0M242.4 416.6h0M239.9 401.9h0M240.4 390.9h0M240.7 411.7h0M240.7 434.8h0M239.9 398.4h0M239.9 436.0h0M240.0 402.2h0M239.9 423.0h0M240.0 437.6h0M239.7 421.6h0M239.7 402.9h0M239.7 391.6h0M239.7 405.9h0M240.1 393.6h0M240.2 420.8h0M240.3 402.0h0M240.1 419.4h0M240.6 418.1h0M238.2 419.2h0M239.1 405.5h0M239.1 403.5h0M238.4 395.1h0M238.9 414.6h0M238.3 394.2h0M239.0 413.5h0M239.0 421.0h0M239.2 412.7h0M238.4 396.8h0M239.1 386.4h0M239.0 421.7h0M238.4 393.7h0M238.1 409.3h0M238.5 413.8h0M238.3 416.3h0M238.0 416.7h0M238.2 384.0h0M238.9 393.2h0M238.5 433.3h0M239.0 405.3h0M239.6 438.9h0M239.1 392.5h0M238.7 434.6h0M238.9 437.9h0M238.7 397.4h0M238.9 417.8h0M238.5 398.0h0M239.7 389.0h0M239.7 429.6h0M238.3 395.6h0M239.3 396.6h0M239.0 430.4h0M239.0 407.2h0M239.4 409.6h0M239.0 420.7h0" stroke="#0000ff" stroke-width="2.30" stroke-linecap="round" fill="none"/><rect x="377" y="41.0" width="282" height="163.0" fill="none" stroke="#858585" stroke-width="1"/><path d="M387.5 204.0v3.5" stroke="#858585" stroke-width="1"/><text x="387.5" y="217.8" font-size="8.4" text-anchor="middle" fill="#222">0</text><path d="M448.4 204.0v3.5" stroke="#858585" stroke-width="1"/><text x="448.4" y="217.8" font-size="8.4" text-anchor="middle" fill="#222">1</text><path d="M509.3 204.0v3.5" stroke="#858585" stroke-width="1"/><text x="509.3" y="217.8" font-size="8.4" text-anchor="middle" fill="#222">2</text><path d="M570.2 204.0v3.5" stroke="#858585" stroke-width="1"/><text x="570.2" y="217.8" font-size="8.4" text-anchor="middle" fill="#222">3</text><path d="M631.1 204.0v3.5" stroke="#858585" stroke-width="1"/><text x="631.1" y="217.8" font-size="8.4" text-anchor="middle" fill="#222">4</text><path d="M377 198.1h-3.5" stroke="#858585" stroke-width="1"/><text transform="translate(371.2 198.1) rotate(-90)" font-size="8.4" text-anchor="middle" fill="#222">0</text><path d="M377 161.3h-3.5" stroke="#858585" stroke-width="1"/><text transform="translate(371.2 161.3) rotate(-90)" font-size="8.4" text-anchor="middle" fill="#222">1</text><path d="M377 124.5h-3.5" stroke="#858585" stroke-width="1"/><text transform="translate(371.2 124.5) rotate(-90)" font-size="8.4" text-anchor="middle" fill="#222">2</text><path d="M377 87.7h-3.5" stroke="#858585" stroke-width="1"/><text transform="translate(371.2 87.7) rotate(-90)" font-size="8.4" text-anchor="middle" fill="#222">3</text><path d="M377 50.9h-3.5" stroke="#858585" stroke-width="1"/><text transform="translate(371.2 50.9) rotate(-90)" font-size="8.4" text-anchor="middle" fill="#222">4</text><polyline points="408.21,185.22 409.49,185.27 410.77,185.32 412.06,185.38 413.34,185.43 414.63,185.48 415.91,185.53 417.19,185.58 418.48,183.19 419.76,180.47 421.04,177.82 422.33,176.86 423.61,175.91 424.90,174.95 426.18,173.99 427.46,173.03 428.75,172.07 430.03,171.11 431.32,170.16 432.60,169.26 433.88,168.37 435.17,167.48 436.45,166.59 437.73,165.69 439.02,164.80 440.30,163.91 441.59,163.02 442.87,162.13 444.15,161.17 445.44,160.15 446.72,159.13 448.00,158.11 449.29,157.09 450.57,156.07 451.86,155.05 453.14,154.03 454.42,153.00 455.71,152.04 456.99,151.13 458.28,150.23 459.56,149.32 460.84,148.42 462.13,147.51 463.41,146.61 464.69,145.70 465.98,144.80 467.26,143.89 468.55,142.99 469.83,142.10 471.11,141.39 472.40,140.68 473.68,139.97 474.97,139.26 476.25,138.54 477.53,137.83 478.82,137.12 480.10,136.41 481.38,135.70 482.67,134.99 483.95,134.28 485.24,133.57 486.52,132.86 487.80,132.14 489.09,131.43 490.37,130.72 491.66,130.01 492.94,129.27 494.22,128.53 495.51,127.78 496.79,127.04 498.07,126.30 499.36,125.56 500.64,124.82 501.93,124.07 503.21,123.33 504.49,122.59 505.78,121.86 507.06,121.24 508.35,120.61 509.63,119.99 510.91,119.36 512.20,118.74 513.48,118.11 514.76,117.49 516.05,116.86 517.33,116.24 518.62,115.61 519.90,114.99 521.18,114.36 522.47,113.74 523.75,113.11 525.04,112.49 526.32,111.86 527.60,111.23 528.89,110.54 530.17,109.84 531.45,109.15 532.74,108.45 534.02,107.76 535.31,107.06 536.59,106.37 537.87,105.67 539.16,104.97 540.44,104.28 541.72,103.58 543.01,102.89 544.29,102.19 545.58,101.49 546.86,100.75 548.14,100.01 549.43,99.27 550.71,98.54 552.00,97.80 553.28,97.06 554.56,96.33 555.85,95.59 557.13,94.85 558.41,93.91 559.70,92.90 560.98,91.90" fill="none" stroke="#0000f4" stroke-width="3.9" stroke-linejoin="round" stroke-linecap="round"/><path d="M648.15 46.85m-1.65 0a1.65 1.65 0 1 0 3.3 0a1.65 1.65 0 1 0 -3.3 0M629.82 56.79m-1.65 0a1.65 1.65 0 1 0 3.3 0a1.65 1.65 0 1 0 -3.3 0M619.10 59.36m-1.65 0a1.65 1.65 0 1 0 3.3 0a1.65 1.65 0 1 0 -3.3 0M611.49 74.82m-1.65 0a1.65 1.65 0 1 0 3.3 0a1.65 1.65 0 1 0 -3.3 0M605.59 75.56m-1.65 0a1.65 1.65 0 1 0 3.3 0a1.65 1.65 0 1 0 -3.3 0M600.76 77.40m-1.65 0a1.65 1.65 0 1 0 3.3 0a1.65 1.65 0 1 0 -3.3 0M596.69 77.40m-1.65 0a1.65 1.65 0 1 0 3.3 0a1.65 1.65 0 1 0 -3.3 0M593.15 78.13m-1.65 0a1.65 1.65 0 1 0 3.3 0a1.65 1.65 0 1 0 -3.3 0M590.04 79.24m-1.65 0a1.65 1.65 0 1 0 3.3 0a1.65 1.65 0 1 0 -3.3 0M587.25 80.34m-1.65 0a1.65 1.65 0 1 0 3.3 0a1.65 1.65 0 1 0 -3.3 0M584.73 80.71m-1.65 0a1.65 1.65 0 1 0 3.3 0a1.65 1.65 0 1 0 -3.3 0M582.43 81.08m-1.65 0a1.65 1.65 0 1 0 3.3 0a1.65 1.65 0 1 0 -3.3 0M580.31 82.18m-1.65 0a1.65 1.65 0 1 0 3.3 0a1.65 1.65 0 1 0 -3.3 0M578.35 83.28m-1.65 0a1.65 1.65 0 1 0 3.3 0a1.65 1.65 0 1 0 -3.3 0M576.53 84.02m-1.65 0a1.65 1.65 0 1 0 3.3 0a1.65 1.65 0 1 0 -3.3 0M574.82 85.12m-1.65 0a1.65 1.65 0 1 0 3.3 0a1.65 1.65 0 1 0 -3.3 0M573.22 85.49m-1.65 0a1.65 1.65 0 1 0 3.3 0a1.65 1.65 0 1 0 -3.3 0M571.71 85.88m-1.65 0a1.65 1.65 0 1 0 3.3 0a1.65 1.65 0 1 0 -3.3 0M570.28 86.14m-1.65 0a1.65 1.65 0 1 0 3.3 0a1.65 1.65 0 1 0 -3.3 0M568.92 86.39m-1.65 0a1.65 1.65 0 1 0 3.3 0a1.65 1.65 0 1 0 -3.3 0M567.63 86.70m-1.65 0a1.65 1.65 0 1 0 3.3 0a1.65 1.65 0 1 0 -3.3 0M566.40 87.66m-1.65 0a1.65 1.65 0 1 0 3.3 0a1.65 1.65 0 1 0 -3.3 0M565.22 88.58m-1.65 0a1.65 1.65 0 1 0 3.3 0a1.65 1.65 0 1 0 -3.3 0M564.10 89.46m-1.65 0a1.65 1.65 0 1 0 3.3 0a1.65 1.65 0 1 0 -3.3 0M563.02 90.31m-1.65 0a1.65 1.65 0 1 0 3.3 0a1.65 1.65 0 1 0 -3.3 0M561.98 91.12m-1.65 0a1.65 1.65 0 1 0 3.3 0a1.65 1.65 0 1 0 -3.3 0M560.98 91.90m-1.65 0a1.65 1.65 0 1 0 3.3 0a1.65 1.65 0 1 0 -3.3 0" fill="none" stroke="#4848ff" stroke-width="0.8"/><path d="M377.0 204.4L647.5 41.0" stroke="#ff6a6a" stroke-width="0.9"/><rect x="377" y="278.0" width="282" height="163.0" fill="none" stroke="#858585" stroke-width="1"/><path d="M387.5 441.0v3.5" stroke="#858585" stroke-width="1"/><text x="387.5" y="454.8" font-size="8.4" text-anchor="middle" fill="#222">0</text><path d="M448.4 441.0v3.5" stroke="#858585" stroke-width="1"/><text x="448.4" y="454.8" font-size="8.4" text-anchor="middle" fill="#222">1</text><path d="M509.3 441.0v3.5" stroke="#858585" stroke-width="1"/><text x="509.3" y="454.8" font-size="8.4" text-anchor="middle" fill="#222">2</text><path d="M570.2 441.0v3.5" stroke="#858585" stroke-width="1"/><text x="570.2" y="454.8" font-size="8.4" text-anchor="middle" fill="#222">3</text><path d="M631.1 441.0v3.5" stroke="#858585" stroke-width="1"/><text x="631.1" y="454.8" font-size="8.4" text-anchor="middle" fill="#222">4</text><path d="M377 435.2h-3.5" stroke="#858585" stroke-width="1"/><text transform="translate(371.2 435.2) rotate(-90)" font-size="8.4" text-anchor="middle" fill="#222">0</text><path d="M377 413.6h-3.5" stroke="#858585" stroke-width="1"/><text transform="translate(371.2 413.6) rotate(-90)" font-size="8.4" text-anchor="middle" fill="#222">1</text><path d="M377 392.0h-3.5" stroke="#858585" stroke-width="1"/><text transform="translate(371.2 392.0) rotate(-90)" font-size="8.4" text-anchor="middle" fill="#222">2</text><path d="M377 370.4h-3.5" stroke="#858585" stroke-width="1"/><text transform="translate(371.2 370.4) rotate(-90)" font-size="8.4" text-anchor="middle" fill="#222">3</text><path d="M377 348.8h-3.5" stroke="#858585" stroke-width="1"/><text transform="translate(371.2 348.8) rotate(-90)" font-size="8.4" text-anchor="middle" fill="#222">4</text><path d="M377 327.2h-3.5" stroke="#858585" stroke-width="1"/><text transform="translate(371.2 327.2) rotate(-90)" font-size="8.4" text-anchor="middle" fill="#222">5</text><path d="M377 305.6h-3.5" stroke="#858585" stroke-width="1"/><text transform="translate(371.2 305.6) rotate(-90)" font-size="8.4" text-anchor="middle" fill="#222">6</text><path d="M377 284.0h-3.5" stroke="#858585" stroke-width="1"/><text transform="translate(371.2 284.0) rotate(-90)" font-size="8.4" text-anchor="middle" fill="#222">7</text><polyline points="404.55,426.78 405.67,426.78 406.78,426.78 407.90,426.78 409.02,426.78 410.13,426.78 411.25,426.78 412.36,426.78 413.48,426.78 414.59,426.78 415.71,426.78 416.83,426.72 417.94,426.02 419.06,425.33 420.17,424.64 421.29,423.95 422.41,423.25 423.52,422.56 424.64,421.87 425.75,421.18 426.87,420.48 427.99,419.79 429.10,419.10 430.22,418.41 431.33,417.71 432.45,417.08 433.57,416.45 434.68,415.81 435.80,415.18 436.91,414.55 438.03,413.91 439.14,413.28 440.26,412.65 441.38,412.01 442.49,411.38 443.61,410.75 444.72,410.11 445.84,409.48 446.96,408.85 448.07,408.21 449.19,407.58 450.30,407.11 451.42,406.73 452.54,406.35 453.65,405.98 454.77,405.60 455.88,405.23 457.00,404.85 458.11,404.47 459.23,404.10 460.35,403.72 461.46,403.35 462.58,402.98 463.69,402.62 464.81,402.26 465.93,401.90 467.04,401.54 468.16,401.18 469.27,400.82 470.39,400.46 471.51,400.10 472.62,399.74 473.74,399.38 474.85,399.02 475.97,398.58 477.08,398.10 478.20,397.62 479.32,397.15 480.43,396.67 481.55,396.19 482.66,395.71 483.78,395.23 484.90,394.75 486.01,394.28 487.13,393.80 488.24,393.32 489.36,392.84 490.48,392.31 491.59,391.75 492.71,391.18 493.82,390.62 494.94,390.05 496.05,389.48 497.17,388.92 498.29,388.35 499.40,387.79 500.52,387.22 501.63,386.66 502.75,386.09 503.87,385.53 504.98,384.96 506.10,384.40 507.21,383.83 508.33,383.27 509.45,382.70 510.56,382.13 511.68,381.57 512.79,381.00 513.91,380.44 515.02,379.87 516.14,379.13 517.26,378.31 518.37,377.48 519.49,376.66 520.60,375.84 521.72,375.01 522.84,374.17 523.95,373.25 525.07,372.33 526.18,371.40 527.30,370.48 528.42,369.56 529.53,368.63 530.65,367.71 531.76,366.79 532.88,365.86 533.99,364.69 535.11,362.94 536.23,361.18 537.34,359.43" fill="none" stroke="#0000f4" stroke-width="3.9" stroke-linejoin="round" stroke-linecap="round"/><path d="M648.15 283.78m-1.65 0a1.65 1.65 0 1 0 3.3 0a1.65 1.65 0 1 0 -3.3 0M629.82 286.81m-1.65 0a1.65 1.65 0 1 0 3.3 0a1.65 1.65 0 1 0 -3.3 0M619.10 296.31m-1.65 0a1.65 1.65 0 1 0 3.3 0a1.65 1.65 0 1 0 -3.3 0M611.49 305.38m-1.65 0a1.65 1.65 0 1 0 3.3 0a1.65 1.65 0 1 0 -3.3 0M605.59 306.46m-1.65 0a1.65 1.65 0 1 0 3.3 0a1.65 1.65 0 1 0 -3.3 0M600.76 307.33m-1.65 0a1.65 1.65 0 1 0 3.3 0a1.65 1.65 0 1 0 -3.3 0M596.69 312.30m-1.65 0a1.65 1.65 0 1 0 3.3 0a1.65 1.65 0 1 0 -3.3 0M593.15 312.30m-1.65 0a1.65 1.65 0 1 0 3.3 0a1.65 1.65 0 1 0 -3.3 0M590.04 312.30m-1.65 0a1.65 1.65 0 1 0 3.3 0a1.65 1.65 0 1 0 -3.3 0M587.25 312.94m-1.65 0a1.65 1.65 0 1 0 3.3 0a1.65 1.65 0 1 0 -3.3 0M584.73 314.89m-1.65 0a1.65 1.65 0 1 0 3.3 0a1.65 1.65 0 1 0 -3.3 0M582.43 318.34m-1.65 0a1.65 1.65 0 1 0 3.3 0a1.65 1.65 0 1 0 -3.3 0M580.31 318.34m-1.65 0a1.65 1.65 0 1 0 3.3 0a1.65 1.65 0 1 0 -3.3 0M578.35 318.34m-1.65 0a1.65 1.65 0 1 0 3.3 0a1.65 1.65 0 1 0 -3.3 0M576.53 321.15m-1.65 0a1.65 1.65 0 1 0 3.3 0a1.65 1.65 0 1 0 -3.3 0M574.82 322.45m-1.65 0a1.65 1.65 0 1 0 3.3 0a1.65 1.65 0 1 0 -3.3 0M573.22 323.53m-1.65 0a1.65 1.65 0 1 0 3.3 0a1.65 1.65 0 1 0 -3.3 0M571.71 325.04m-1.65 0a1.65 1.65 0 1 0 3.3 0a1.65 1.65 0 1 0 -3.3 0M570.28 325.90m-1.65 0a1.65 1.65 0 1 0 3.3 0a1.65 1.65 0 1 0 -3.3 0M568.92 329.14m-1.65 0a1.65 1.65 0 1 0 3.3 0a1.65 1.65 0 1 0 -3.3 0M567.63 332.17m-1.65 0a1.65 1.65 0 1 0 3.3 0a1.65 1.65 0 1 0 -3.3 0M566.40 334.54m-1.65 0a1.65 1.65 0 1 0 3.3 0a1.65 1.65 0 1 0 -3.3 0M565.22 332.15m-1.65 0a1.65 1.65 0 1 0 3.3 0a1.65 1.65 0 1 0 -3.3 0M564.10 332.80m-1.65 0a1.65 1.65 0 1 0 3.3 0a1.65 1.65 0 1 0 -3.3 0M563.02 333.42m-1.65 0a1.65 1.65 0 1 0 3.3 0a1.65 1.65 0 1 0 -3.3 0M561.98 334.02m-1.65 0a1.65 1.65 0 1 0 3.3 0a1.65 1.65 0 1 0 -3.3 0M560.98 334.66m-1.65 0a1.65 1.65 0 1 0 3.3 0a1.65 1.65 0 1 0 -3.3 0M560.02 336.03m-1.65 0a1.65 1.65 0 1 0 3.3 0a1.65 1.65 0 1 0 -3.3 0M559.09 337.34m-1.65 0a1.65 1.65 0 1 0 3.3 0a1.65 1.65 0 1 0 -3.3 0M558.20 338.61m-1.65 0a1.65 1.65 0 1 0 3.3 0a1.65 1.65 0 1 0 -3.3 0M557.33 339.84m-1.65 0a1.65 1.65 0 1 0 3.3 0a1.65 1.65 0 1 0 -3.3 0M556.49 341.04m-1.65 0a1.65 1.65 0 1 0 3.3 0a1.65 1.65 0 1 0 -3.3 0M555.68 342.19m-1.65 0a1.65 1.65 0 1 0 3.3 0a1.65 1.65 0 1 0 -3.3 0M554.89 343.24m-1.65 0a1.65 1.65 0 1 0 3.3 0a1.65 1.65 0 1 0 -3.3 0M554.12 343.73m-1.65 0a1.65 1.65 0 1 0 3.3 0a1.65 1.65 0 1 0 -3.3 0M553.37 344.21m-1.65 0a1.65 1.65 0 1 0 3.3 0a1.65 1.65 0 1 0 -3.3 0M552.65 344.67m-1.65 0a1.65 1.65 0 1 0 3.3 0a1.65 1.65 0 1 0 -3.3 0M551.94 345.12m-1.65 0a1.65 1.65 0 1 0 3.3 0a1.65 1.65 0 1 0 -3.3 0M551.26 345.56m-1.65 0a1.65 1.65 0 1 0 3.3 0a1.65 1.65 0 1 0 -3.3 0M550.59 345.99m-1.65 0a1.65 1.65 0 1 0 3.3 0a1.65 1.65 0 1 0 -3.3 0M549.93 346.40m-1.65 0a1.65 1.65 0 1 0 3.3 0a1.65 1.65 0 1 0 -3.3 0M549.30 346.81m-1.65 0a1.65 1.65 0 1 0 3.3 0a1.65 1.65 0 1 0 -3.3 0M548.67 347.22m-1.65 0a1.65 1.65 0 1 0 3.3 0a1.65 1.65 0 1 0 -3.3 0M548.07 347.65m-1.65 0a1.65 1.65 0 1 0 3.3 0a1.65 1.65 0 1 0 -3.3 0M547.47 348.07m-1.65 0a1.65 1.65 0 1 0 3.3 0a1.65 1.65 0 1 0 -3.3 0M546.89 348.49m-1.65 0a1.65 1.65 0 1 0 3.3 0a1.65 1.65 0 1 0 -3.3 0M546.32 348.89m-1.65 0a1.65 1.65 0 1 0 3.3 0a1.65 1.65 0 1 0 -3.3 0M545.76 349.29m-1.65 0a1.65 1.65 0 1 0 3.3 0a1.65 1.65 0 1 0 -3.3 0M545.22 349.67m-1.65 0a1.65 1.65 0 1 0 3.3 0a1.65 1.65 0 1 0 -3.3 0M544.69 350.05m-1.65 0a1.65 1.65 0 1 0 3.3 0a1.65 1.65 0 1 0 -3.3 0M544.16 350.42m-1.65 0a1.65 1.65 0 1 0 3.3 0a1.65 1.65 0 1 0 -3.3 0M543.65 350.79m-1.65 0a1.65 1.65 0 1 0 3.3 0a1.65 1.65 0 1 0 -3.3 0M543.14 351.14m-1.65 0a1.65 1.65 0 1 0 3.3 0a1.65 1.65 0 1 0 -3.3 0M542.65 351.50m-1.65 0a1.65 1.65 0 1 0 3.3 0a1.65 1.65 0 1 0 -3.3 0M542.16 351.86m-1.65 0a1.65 1.65 0 1 0 3.3 0a1.65 1.65 0 1 0 -3.3 0M541.69 352.61m-1.65 0a1.65 1.65 0 1 0 3.3 0a1.65 1.65 0 1 0 -3.3 0M541.22 353.34m-1.65 0a1.65 1.65 0 1 0 3.3 0a1.65 1.65 0 1 0 -3.3 0M540.76 354.06m-1.65 0a1.65 1.65 0 1 0 3.3 0a1.65 1.65 0 1 0 -3.3 0M540.31 354.77m-1.65 0a1.65 1.65 0 1 0 3.3 0a1.65 1.65 0 1 0 -3.3 0M539.86 355.47m-1.65 0a1.65 1.65 0 1 0 3.3 0a1.65 1.65 0 1 0 -3.3 0M539.43 356.16m-1.65 0a1.65 1.65 0 1 0 3.3 0a1.65 1.65 0 1 0 -3.3 0M539.00 356.83m-1.65 0a1.65 1.65 0 1 0 3.3 0a1.65 1.65 0 1 0 -3.3 0M538.57 357.50m-1.65 0a1.65 1.65 0 1 0 3.3 0a1.65 1.65 0 1 0 -3.3 0M538.16 358.15m-1.65 0a1.65 1.65 0 1 0 3.3 0a1.65 1.65 0 1 0 -3.3 0M537.75 358.80m-1.65 0a1.65 1.65 0 1 0 3.3 0a1.65 1.65 0 1 0 -3.3 0M537.34 359.43m-1.65 0a1.65 1.65 0 1 0 3.3 0a1.65 1.65 0 1 0 -3.3 0" fill="none" stroke="#4848ff" stroke-width="0.8"/><path d="M377.0 438.9L659.0 338.9" stroke="#ff6a6a" stroke-width="0.9"/><text transform="translate(359.6 112.85) rotate(-90)" x="-44" font-size="10.5" textLength="88" lengthAdjust="spacingAndGlyphs" fill="#222">Observed −log10(P)</text><text transform="translate(360.4 353.6) rotate(-90)" x="-43" font-size="10.5" textLength="86" lengthAdjust="spacingAndGlyphs" fill="#222">Observed −log10(P)</text><text x="479.8" y="229.2" font-size="9.6" textLength="86" lengthAdjust="spacingAndGlyphs" fill="#222">Expected −log<tspan font-size="9.6" dy="2.2">10</tspan><tspan dy="-2.2">(P)</tspan></text><text x="473" y="467.7" font-size="9.6" textLength="85.6" lengthAdjust="spacingAndGlyphs" fill="#222">Expected −log<tspan font-size="9.6" dy="2.2">10</tspan><tspan dy="-2.2">(P)</tspan></text></svg></body></html>
